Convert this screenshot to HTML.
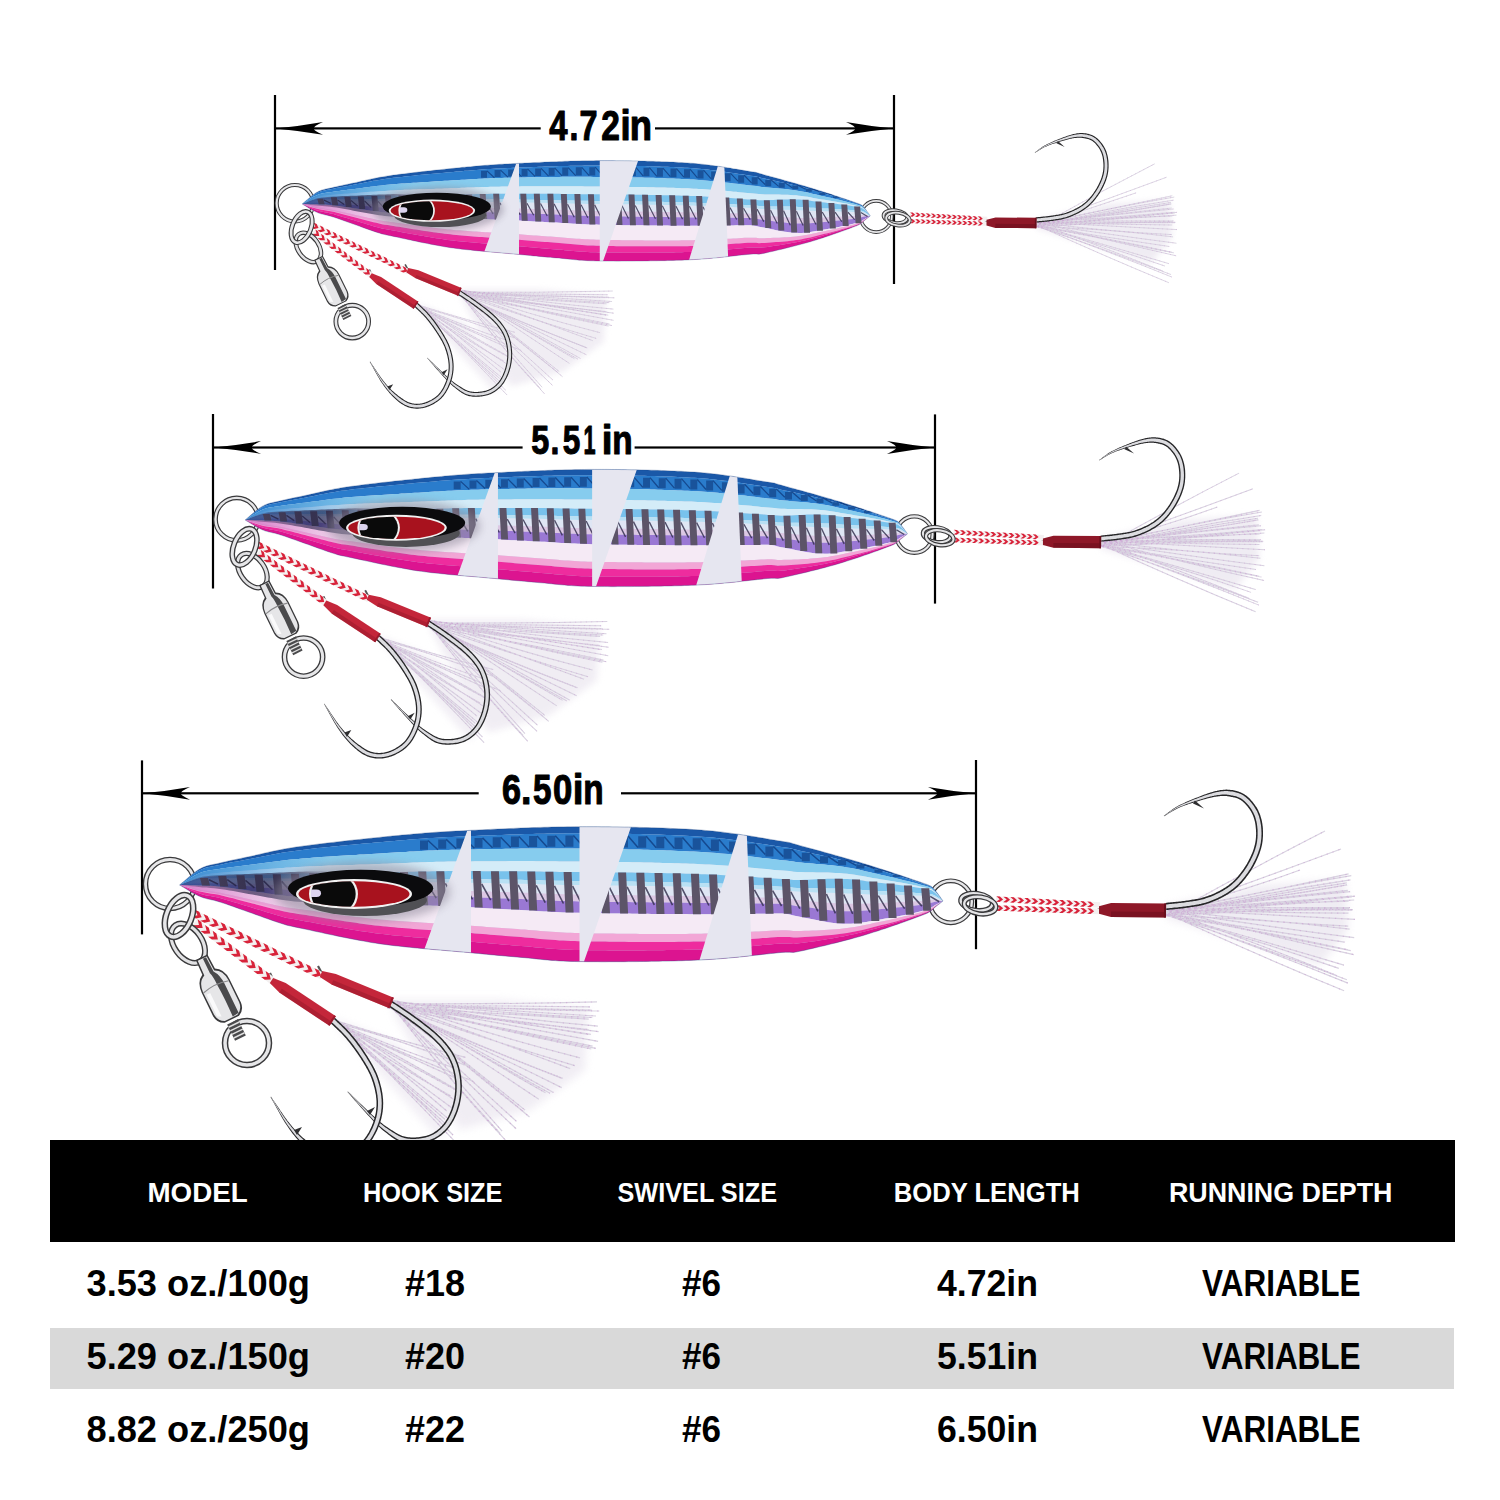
<!DOCTYPE html>
<html><head><meta charset="utf-8"><style>
html,body{margin:0;padding:0;background:#fff;}
svg{display:block;}
text{font-family:"Liberation Sans",sans-serif;}
</style></head><body>
<svg width="1500" height="1500" viewBox="0 0 1500 1500">
<rect width="1500" height="1500" fill="#fff"/>
<defs>
<g id="lure">
<filter id="fblur" x="-20%" y="-20%" width="140%" height="140%"><feGaussianBlur stdDeviation="4"/></filter>
<path d="M1166.0,906.0 L1260.0,885.0 L1345.0,880.0 L1348.0,930.0 L1320.0,965.0 L1166.0,918.0Z" fill="#e9e4ee" opacity="0.70" filter="url(#fblur)"/>
<path d="M1168.0,915.6 Q1246.3,871.2 1325.0,831.0 M1163.4,913.6 Q1253.2,881.5 1341.0,849.0 M1167.9,910.3 Q1234.5,894.0 1300.0,870.0 M1163.1,911.7 Q1256.2,894.0 1348.6,873.9 M1163.4,914.1 Q1255.3,891.6 1351.3,875.7 M1165.3,915.0 Q1254.6,894.4 1350.5,879.8 M1166.3,915.1 Q1252.2,897.2 1346.8,882.9 M1164.7,911.3 Q1259.6,900.6 1346.8,884.8 M1168.7,909.2 Q1255.2,900.8 1347.1,885.0 M1164.4,911.9 Q1254.8,900.3 1350.1,891.7 M1163.0,911.4 Q1257.8,899.8 1347.8,890.4 M1168.7,913.5 Q1257.7,904.9 1352.0,897.0 M1167.1,908.4 Q1259.0,904.7 1351.7,896.0 M1168.2,914.4 Q1264.5,905.8 1355.0,896.2 M1163.6,913.1 Q1259.0,905.4 1354.2,900.0 M1164.3,909.3 Q1252.9,904.0 1348.6,901.2 M1163.0,909.2 Q1256.4,907.2 1350.0,907.7 M1163.2,915.0 Q1253.6,909.5 1349.1,908.6 M1164.5,910.8 Q1260.6,908.7 1352.9,909.6 M1168.1,915.9 Q1257.8,908.8 1352.3,910.1 M1163.5,908.8 Q1256.9,912.5 1348.5,913.2 M1168.0,909.3 Q1258.9,914.3 1354.9,919.4 M1166.2,909.2 Q1252.3,921.7 1348.2,926.1 M1166.2,915.8 Q1258.2,917.7 1349.6,929.2 M1164.6,910.9 Q1263.7,926.1 1354.2,937.7 M1166.2,914.2 Q1251.9,928.7 1344.5,942.1 M1167.9,915.9 Q1255.4,929.3 1348.2,949.9 M1167.9,913.9 Q1261.8,933.1 1350.6,950.6 M1165.1,908.2 Q1257.1,933.4 1353.8,954.6 M1164.6,913.5 Q1250.2,937.2 1343.9,965.1 M1168.6,915.9 Q1257.0,939.9 1338.8,968.4 M1164.3,909.8 Q1255.6,942.8 1336.2,975.2 M1166.7,915.2 Q1253.4,944.1 1346.9,979.8 M1166.9,914.4 Q1260.3,947.4 1347.9,983.1 M1168.5,914.3 Q1250.9,952.3 1344.1,990.8" fill="none" stroke="#d6d0de" stroke-width="1.2" opacity="0.95"/><path d="M1168.0,915.6 Q1246.3,871.2 1325.0,831.0 M1163.4,913.6 Q1253.2,881.5 1341.0,849.0 M1167.9,910.3 Q1234.5,894.0 1300.0,870.0 M1163.1,911.7 Q1256.2,894.0 1348.6,873.9 M1163.4,914.1 Q1255.3,891.6 1351.3,875.7 M1165.3,915.0 Q1254.6,894.4 1350.5,879.8 M1166.3,915.1 Q1252.2,897.2 1346.8,882.9 M1164.7,911.3 Q1259.6,900.6 1346.8,884.8 M1168.7,909.2 Q1255.2,900.8 1347.1,885.0 M1164.4,911.9 Q1254.8,900.3 1350.1,891.7 M1163.0,911.4 Q1257.8,899.8 1347.8,890.4 M1168.7,913.5 Q1257.7,904.9 1352.0,897.0 M1167.1,908.4 Q1259.0,904.7 1351.7,896.0 M1168.2,914.4 Q1264.5,905.8 1355.0,896.2 M1163.6,913.1 Q1259.0,905.4 1354.2,900.0 M1164.3,909.3 Q1252.9,904.0 1348.6,901.2 M1163.0,909.2 Q1256.4,907.2 1350.0,907.7 M1163.2,915.0 Q1253.6,909.5 1349.1,908.6 M1164.5,910.8 Q1260.6,908.7 1352.9,909.6 M1168.1,915.9 Q1257.8,908.8 1352.3,910.1 M1163.5,908.8 Q1256.9,912.5 1348.5,913.2 M1168.0,909.3 Q1258.9,914.3 1354.9,919.4 M1166.2,909.2 Q1252.3,921.7 1348.2,926.1 M1166.2,915.8 Q1258.2,917.7 1349.6,929.2 M1164.6,910.9 Q1263.7,926.1 1354.2,937.7 M1166.2,914.2 Q1251.9,928.7 1344.5,942.1 M1167.9,915.9 Q1255.4,929.3 1348.2,949.9 M1167.9,913.9 Q1261.8,933.1 1350.6,950.6 M1165.1,908.2 Q1257.1,933.4 1353.8,954.6 M1164.6,913.5 Q1250.2,937.2 1343.9,965.1 M1168.6,915.9 Q1257.0,939.9 1338.8,968.4 M1164.3,909.8 Q1255.6,942.8 1336.2,975.2 M1166.7,915.2 Q1253.4,944.1 1346.9,979.8 M1166.9,914.4 Q1260.3,947.4 1347.9,983.1 M1168.5,914.3 Q1250.9,952.3 1344.1,990.8" fill="none" stroke="#c894d0" stroke-width="1.1" stroke-dasharray="1.2 5" opacity="0.5"/>
<path d="M390.0,1000.0 L500.0,1000.0 L588.0,1008.0 L585.0,1070.0 L530.0,1110.0 L460.0,1130.0 L395.0,1015.0Z" fill="#e9e4ee" opacity="0.65" filter="url(#fblur)"/>
<path d="M392.5,1003.5 Q494.1,1004.5 597.0,1001.9 M390.1,1005.5 Q491.1,1005.5 590.0,1006.9 M389.9,1007.5 Q490.4,1007.3 591.7,1010.2 M392.7,1002.1 Q496.6,1009.7 599.3,1011.0 M392.0,1001.1 Q491.7,1013.4 592.3,1017.5 M387.4,1001.9 Q489.2,1009.7 596.0,1016.0 M391.7,1007.2 Q485.1,1012.6 588.7,1019.1 M391.0,1001.1 Q490.5,1016.4 597.9,1026.2 M388.3,1007.6 Q493.2,1019.6 588.7,1029.6 M392.9,1006.7 Q493.3,1017.8 598.6,1031.7 M390.1,1002.7 Q487.1,1018.7 590.9,1034.3 M391.3,1000.2 Q486.0,1018.1 588.1,1034.3 M387.1,1002.7 Q494.6,1022.3 598.1,1041.3 M387.4,1007.9 Q492.5,1025.2 592.6,1046.2 M387.6,1002.1 Q493.6,1029.3 591.3,1049.0 M388.6,1001.0 Q488.4,1027.8 595.9,1048.3 M391.9,1002.1 Q484.2,1033.4 580.0,1057.9 M390.4,1005.6 Q478.9,1037.3 574.8,1065.6 M391.1,1003.4 Q476.0,1033.6 570.2,1068.6 M390.8,1006.4 Q472.0,1043.7 562.6,1078.2 M387.4,1006.9 Q471.9,1043.3 562.1,1078.4 M390.3,1007.4 Q475.4,1044.8 561.7,1087.6 M390.2,1001.9 Q469.4,1046.0 553.4,1092.4 M387.3,1001.6 Q466.1,1046.6 550.0,1093.3 M391.6,1002.3 Q465.9,1047.2 545.5,1092.8 M389.1,1000.1 Q464.4,1049.7 538.8,1099.2 M391.4,1004.4 Q455.0,1054.1 525.1,1110.1 M392.6,1000.9 Q453.6,1057.6 523.4,1111.5 M390.0,1006.7 Q462.9,1060.1 529.5,1117.0 M391.1,1007.9 Q452.2,1062.7 516.5,1121.4 M391.2,1005.1 Q451.5,1068.4 516.1,1128.7 M387.3,1001.0 Q445.1,1066.7 502.1,1131.2 M388.5,1001.3 Q440.7,1070.0 500.0,1133.1 M392.2,1005.4 Q443.6,1074.1 505.4,1140.1" fill="none" stroke="#d6d0de" stroke-width="1.2" opacity="0.95"/><path d="M392.5,1003.5 Q494.1,1004.5 597.0,1001.9 M390.1,1005.5 Q491.1,1005.5 590.0,1006.9 M389.9,1007.5 Q490.4,1007.3 591.7,1010.2 M392.7,1002.1 Q496.6,1009.7 599.3,1011.0 M392.0,1001.1 Q491.7,1013.4 592.3,1017.5 M387.4,1001.9 Q489.2,1009.7 596.0,1016.0 M391.7,1007.2 Q485.1,1012.6 588.7,1019.1 M391.0,1001.1 Q490.5,1016.4 597.9,1026.2 M388.3,1007.6 Q493.2,1019.6 588.7,1029.6 M392.9,1006.7 Q493.3,1017.8 598.6,1031.7 M390.1,1002.7 Q487.1,1018.7 590.9,1034.3 M391.3,1000.2 Q486.0,1018.1 588.1,1034.3 M387.1,1002.7 Q494.6,1022.3 598.1,1041.3 M387.4,1007.9 Q492.5,1025.2 592.6,1046.2 M387.6,1002.1 Q493.6,1029.3 591.3,1049.0 M388.6,1001.0 Q488.4,1027.8 595.9,1048.3 M391.9,1002.1 Q484.2,1033.4 580.0,1057.9 M390.4,1005.6 Q478.9,1037.3 574.8,1065.6 M391.1,1003.4 Q476.0,1033.6 570.2,1068.6 M390.8,1006.4 Q472.0,1043.7 562.6,1078.2 M387.4,1006.9 Q471.9,1043.3 562.1,1078.4 M390.3,1007.4 Q475.4,1044.8 561.7,1087.6 M390.2,1001.9 Q469.4,1046.0 553.4,1092.4 M387.3,1001.6 Q466.1,1046.6 550.0,1093.3 M391.6,1002.3 Q465.9,1047.2 545.5,1092.8 M389.1,1000.1 Q464.4,1049.7 538.8,1099.2 M391.4,1004.4 Q455.0,1054.1 525.1,1110.1 M392.6,1000.9 Q453.6,1057.6 523.4,1111.5 M390.0,1006.7 Q462.9,1060.1 529.5,1117.0 M391.1,1007.9 Q452.2,1062.7 516.5,1121.4 M391.2,1005.1 Q451.5,1068.4 516.1,1128.7 M387.3,1001.0 Q445.1,1066.7 502.1,1131.2 M388.5,1001.3 Q440.7,1070.0 500.0,1133.1 M392.2,1005.4 Q443.6,1074.1 505.4,1140.1" fill="none" stroke="#c894d0" stroke-width="1.1" stroke-dasharray="1.2 5" opacity="0.5"/>
<path d="M333.0,1018.0 L400.0,1045.0 L455.0,1105.0 L440.0,1140.0 L340.0,1030.0Z" fill="#e9e4ee" opacity="0.60" filter="url(#fblur)"/>
<path d="M332.3,1019.6 Q401.5,1041.5 465.6,1057.4 M334.3,1022.1 Q403.6,1040.9 464.5,1064.9 M335.4,1022.0 Q392.2,1047.6 460.5,1070.1 M330.8,1021.2 Q399.5,1052.7 461.3,1080.6 M334.8,1023.6 Q403.6,1053.4 474.1,1081.8 M334.1,1022.5 Q396.5,1058.5 458.2,1091.3 M330.8,1019.9 Q392.9,1053.0 458.2,1090.6 M333.4,1022.0 Q387.9,1060.6 450.7,1096.1 M332.9,1017.0 Q397.2,1062.9 458.8,1102.7 M333.0,1021.3 Q395.5,1066.0 452.0,1108.0 M334.4,1019.0 Q391.5,1063.4 446.8,1111.0 M334.4,1018.6 Q385.8,1067.9 447.1,1117.7 M333.0,1020.1 Q391.3,1073.0 444.8,1119.2 M334.6,1021.9 Q390.7,1074.9 448.8,1126.7 M330.9,1019.0 Q394.5,1075.4 453.0,1135.0 M333.4,1017.1 Q396.4,1080.1 455.0,1141.6" fill="none" stroke="#d6d0de" stroke-width="1.2" opacity="0.95"/><path d="M332.3,1019.6 Q401.5,1041.5 465.6,1057.4 M334.3,1022.1 Q403.6,1040.9 464.5,1064.9 M335.4,1022.0 Q392.2,1047.6 460.5,1070.1 M330.8,1021.2 Q399.5,1052.7 461.3,1080.6 M334.8,1023.6 Q403.6,1053.4 474.1,1081.8 M334.1,1022.5 Q396.5,1058.5 458.2,1091.3 M330.8,1019.9 Q392.9,1053.0 458.2,1090.6 M333.4,1022.0 Q387.9,1060.6 450.7,1096.1 M332.9,1017.0 Q397.2,1062.9 458.8,1102.7 M333.0,1021.3 Q395.5,1066.0 452.0,1108.0 M334.4,1019.0 Q391.5,1063.4 446.8,1111.0 M334.4,1018.6 Q385.8,1067.9 447.1,1117.7 M333.0,1020.1 Q391.3,1073.0 444.8,1119.2 M334.6,1021.9 Q390.7,1074.9 448.8,1126.7 M330.9,1019.0 Q394.5,1075.4 453.0,1135.0 M333.4,1017.1 Q396.4,1080.1 455.0,1141.6" fill="none" stroke="#c894d0" stroke-width="1.1" stroke-dasharray="1.2 5" opacity="0.5"/>
<path d="M1166.3,910.1 L1167.6,909.9 L1169.0,909.8 L1170.3,909.6 L1171.7,909.5 L1173.0,909.4 L1174.4,909.2 L1175.8,909.1 L1177.1,909.0 L1178.5,908.8 L1179.9,908.7 L1181.2,908.5 L1182.6,908.4 L1183.9,908.2 L1185.2,908.0 L1186.5,907.8 L1187.8,907.7 L1189.1,907.5 L1190.3,907.3 L1191.5,907.1 L1192.7,906.9 L1193.9,906.8 L1195.1,906.6 L1196.3,906.4 L1197.5,906.2 L1198.6,906.0 L1199.8,905.7 L1201.0,905.5 L1202.2,905.2 L1203.4,904.9 L1204.6,904.6 L1205.9,904.2 L1207.1,903.8 L1208.3,903.4 L1209.6,903.0 L1210.8,902.5 L1212.1,902.0 L1213.3,901.5 L1214.6,901.0 L1215.9,900.5 L1217.1,899.9 L1218.4,899.4 L1219.6,898.8 L1220.8,898.2 L1222.0,897.6 L1223.2,897.0 L1224.3,896.3 L1225.4,895.7 L1226.5,895.1 L1227.6,894.4 L1228.6,893.8 L1229.6,893.1 L1230.6,892.5 L1231.5,891.8 L1232.5,891.1 L1233.4,890.4 L1234.3,889.7 L1235.2,889.0 L1236.1,888.2 L1237.0,887.5 L1237.9,886.7 L1238.7,885.8 L1239.6,885.0 L1240.4,884.1 L1241.3,883.2 L1242.2,882.3 L1243.0,881.3 L1243.9,880.3 L1244.7,879.3 L1245.6,878.2 L1246.4,877.1 L1247.2,876.0 L1248.0,874.9 L1248.8,873.8 L1249.6,872.7 L1250.4,871.5 L1251.1,870.4 L1251.8,869.2 L1252.6,868.0 L1253.2,866.9 L1253.9,865.7 L1254.5,864.5 L1255.1,863.4 L1255.7,862.2 L1256.3,861.0 L1256.9,859.8 L1257.4,858.6 L1258.0,857.3 L1258.5,856.1 L1259.0,854.8 L1259.5,853.6 L1259.9,852.3 L1260.3,851.1 L1260.7,849.8 L1261.1,848.6 L1261.4,847.3 L1261.7,846.1 L1262.0,844.8 L1262.2,843.5 L1262.4,842.3 L1262.6,841.0 L1262.7,839.7 L1262.8,838.5 L1262.9,837.2 L1263.0,836.0 L1263.0,834.7 L1263.0,833.5 L1263.0,832.3 L1263.0,831.0 L1262.9,829.8 L1262.9,828.6 L1262.8,827.5 L1262.7,826.3 L1262.5,825.2 L1262.4,824.1 L1262.2,822.9 L1262.0,821.8 L1261.8,820.7 L1261.5,819.6 L1261.2,818.5 L1260.9,817.4 L1260.6,816.4 L1260.3,815.3 L1259.9,814.3 L1259.5,813.2 L1259.0,812.2 L1258.6,811.2 L1258.1,810.1 L1257.5,809.1 L1257.0,808.1 L1256.4,807.1 L1255.7,806.2 L1255.1,805.2 L1254.4,804.2 L1253.6,803.2 L1252.9,802.3 L1252.1,801.3 L1251.3,800.4 L1250.5,799.5 L1249.7,798.6 L1248.8,797.8 L1248.0,797.0 L1247.1,796.3 L1246.2,795.6 L1245.3,794.9 L1244.3,794.3 L1243.4,793.7 L1242.4,793.2 L1241.4,792.7 L1240.4,792.3 L1239.4,791.9 L1238.4,791.5 L1237.4,791.2 L1236.5,791.0 L1235.5,790.7 L1234.5,790.5 L1233.5,790.3 L1232.5,790.1 L1231.6,790.0 L1230.7,789.9 L1229.7,789.8 L1228.8,789.7 L1227.8,789.7 L1226.9,789.6 L1226.0,789.6 L1225.1,789.7 L1224.2,789.7 L1223.3,789.8 L1222.4,789.9 L1221.5,790.0 L1220.5,790.1 L1219.6,790.3 L1218.7,790.5 L1217.7,790.6 L1216.8,790.9 L1215.8,791.1 L1214.8,791.3 L1213.7,791.6 L1212.6,791.9 L1211.5,792.2 L1210.3,792.6 L1209.2,792.9 L1208.0,793.3 L1206.8,793.7 L1205.6,794.2 L1204.4,794.6 L1203.2,795.0 L1202.0,795.5 L1200.8,796.0 L1199.6,796.4 L1198.4,796.9 L1197.2,797.4 L1196.1,797.8 L1194.9,798.3 L1193.7,798.8 L1192.5,799.2 L1191.3,799.7 L1190.1,800.2 L1188.9,800.8 L1187.7,801.3 L1186.5,801.8 L1185.3,802.3 L1184.2,802.9 L1183.0,803.4 L1181.9,804.0 L1180.7,804.5 L1179.6,805.1 L1178.6,805.6 L1177.5,806.2 L1176.5,806.8 L1175.6,807.3 L1174.6,807.9 L1173.7,808.5 L1172.9,809.1 L1172.0,809.7 L1171.2,810.3 L1170.3,810.9 L1169.5,811.5 L1168.7,812.1 L1167.9,812.7 L1167.1,813.3 L1166.3,814.0 L1165.5,814.6 L1164.7,815.2 L1163.8,815.7 L1164.2,816.3 L1165.1,815.7 L1165.9,815.2 L1166.8,814.7 L1167.7,814.1 L1168.5,813.6 L1169.4,813.1 L1170.2,812.5 L1171.1,812.0 L1171.9,811.5 L1172.8,811.0 L1173.7,810.4 L1174.6,809.9 L1175.5,809.4 L1176.5,808.9 L1177.4,808.5 L1178.5,808.0 L1179.5,807.6 L1180.6,807.1 L1181.7,806.6 L1182.8,806.2 L1184.0,805.8 L1185.2,805.3 L1186.4,804.9 L1187.6,804.5 L1188.8,804.1 L1190.0,803.7 L1191.3,803.3 L1192.5,802.9 L1193.7,802.5 L1194.9,802.1 L1196.1,801.7 L1197.3,801.4 L1198.5,801.0 L1199.7,800.7 L1200.9,800.3 L1202.1,800.0 L1203.4,799.6 L1204.6,799.3 L1205.8,798.9 L1207.0,798.6 L1208.2,798.3 L1209.3,798.0 L1210.5,797.7 L1211.6,797.5 L1212.7,797.2 L1213.8,797.0 L1214.8,796.8 L1215.8,796.7 L1216.8,796.5 L1217.8,796.4 L1218.7,796.3 L1219.6,796.2 L1220.4,796.1 L1221.2,796.0 L1222.0,796.0 L1222.8,795.9 L1223.6,795.9 L1224.3,795.9 L1225.1,796.0 L1225.8,796.0 L1226.6,796.1 L1227.3,796.2 L1228.1,796.3 L1228.9,796.4 L1229.7,796.6 L1230.5,796.7 L1231.4,796.9 L1232.2,797.0 L1233.1,797.2 L1233.9,797.4 L1234.7,797.6 L1235.5,797.8 L1236.3,798.1 L1237.1,798.3 L1237.8,798.6 L1238.6,798.9 L1239.3,799.3 L1240.0,799.7 L1240.7,800.1 L1241.3,800.5 L1242.0,801.0 L1242.7,801.6 L1243.4,802.2 L1244.1,802.8 L1244.8,803.5 L1245.5,804.2 L1246.2,805.0 L1246.8,805.8 L1247.5,806.6 L1248.2,807.4 L1248.8,808.2 L1249.4,809.1 L1250.0,809.9 L1250.5,810.8 L1251.0,811.6 L1251.5,812.5 L1251.9,813.3 L1252.3,814.1 L1252.7,815.0 L1253.1,815.8 L1253.4,816.7 L1253.7,817.6 L1254.0,818.5 L1254.3,819.4 L1254.5,820.3 L1254.8,821.2 L1255.0,822.2 L1255.2,823.1 L1255.3,824.1 L1255.5,825.1 L1255.6,826.1 L1255.7,827.1 L1255.8,828.1 L1255.9,829.1 L1256.0,830.2 L1256.0,831.3 L1256.1,832.4 L1256.1,833.5 L1256.1,834.6 L1256.0,835.7 L1256.0,836.8 L1255.9,837.9 L1255.8,839.0 L1255.7,840.1 L1255.5,841.3 L1255.3,842.4 L1255.1,843.4 L1254.9,844.5 L1254.6,845.6 L1254.3,846.7 L1254.0,847.8 L1253.7,848.9 L1253.3,850.1 L1252.9,851.2 L1252.5,852.3 L1252.0,853.4 L1251.5,854.6 L1251.0,855.7 L1250.5,856.8 L1250.0,857.9 L1249.4,859.0 L1248.9,860.1 L1248.3,861.2 L1247.7,862.3 L1247.1,863.4 L1246.5,864.4 L1245.8,865.5 L1245.2,866.6 L1244.5,867.6 L1243.8,868.7 L1243.0,869.8 L1242.3,870.8 L1241.5,871.8 L1240.8,872.8 L1240.0,873.8 L1239.2,874.8 L1238.4,875.7 L1237.7,876.7 L1236.9,877.5 L1236.1,878.4 L1235.3,879.2 L1234.6,880.0 L1233.8,880.7 L1233.0,881.5 L1232.3,882.2 L1231.5,882.8 L1230.7,883.5 L1229.9,884.1 L1229.1,884.8 L1228.3,885.4 L1227.4,886.0 L1226.6,886.6 L1225.7,887.2 L1224.8,887.8 L1223.8,888.3 L1222.9,888.9 L1221.9,889.5 L1220.9,890.1 L1219.8,890.7 L1218.7,891.2 L1217.6,891.8 L1216.5,892.3 L1215.3,892.9 L1214.2,893.4 L1213.0,893.9 L1211.8,894.4 L1210.7,894.9 L1209.5,895.3 L1208.3,895.8 L1207.2,896.2 L1206.0,896.6 L1204.9,897.0 L1203.8,897.3 L1202.7,897.6 L1201.6,897.9 L1200.6,898.2 L1199.5,898.4 L1198.4,898.7 L1197.3,898.9 L1196.2,899.1 L1195.1,899.3 L1193.9,899.5 L1192.8,899.6 L1191.6,899.8 L1190.4,900.0 L1189.2,900.2 L1188.0,900.4 L1186.8,900.5 L1185.5,900.7 L1184.3,900.9 L1183.0,901.1 L1181.7,901.2 L1180.4,901.4 L1179.1,901.5 L1177.7,901.7 L1176.4,901.8 L1175.0,901.9 L1173.7,902.1 L1172.3,902.2 L1171.0,902.3 L1169.6,902.5 L1168.2,902.6 L1166.9,902.8 L1165.5,902.9Z" fill="#262628"/><path d="M1166.1,908.5 L1167.5,908.3 L1168.8,908.2 L1170.2,908.0 L1171.5,907.9 L1172.9,907.8 L1174.2,907.6 L1175.6,907.5 L1177.0,907.4 L1178.3,907.2 L1179.7,907.1 L1181.0,906.9 L1182.4,906.8 L1183.7,906.6 L1185.0,906.4 L1186.3,906.2 L1187.6,906.1 L1188.8,905.9 L1190.1,905.7 L1191.3,905.5 L1192.5,905.3 L1193.6,905.2 L1194.8,905.0 L1196.0,904.8 L1197.2,904.6 L1198.3,904.4 L1199.5,904.1 L1200.7,903.9 L1201.8,903.6 L1203.0,903.3 L1204.2,903.0 L1205.4,902.7 L1206.6,902.3 L1207.8,901.9 L1209.0,901.5 L1210.3,901.0 L1211.5,900.5 L1212.7,900.0 L1214.0,899.5 L1215.2,899.0 L1216.4,898.5 L1217.7,897.9 L1218.9,897.3 L1220.1,896.8 L1221.3,896.2 L1222.4,895.6 L1223.5,894.9 L1224.6,894.3 L1225.7,893.7 L1226.7,893.1 L1227.7,892.4 L1228.7,891.8 L1229.7,891.1 L1230.6,890.5 L1231.5,889.8 L1232.4,889.2 L1233.3,888.5 L1234.2,887.7 L1235.1,887.0 L1235.9,886.3 L1236.8,885.5 L1237.6,884.7 L1238.5,883.9 L1239.3,883.0 L1240.1,882.1 L1241.0,881.2 L1241.8,880.3 L1242.6,879.3 L1243.5,878.3 L1244.3,877.2 L1245.1,876.2 L1245.9,875.1 L1246.7,874.0 L1247.5,872.9 L1248.3,871.8 L1249.0,870.6 L1249.8,869.5 L1250.5,868.4 L1251.2,867.2 L1251.9,866.1 L1252.5,864.9 L1253.1,863.8 L1253.7,862.6 L1254.3,861.5 L1254.9,860.3 L1255.5,859.1 L1256.0,857.9 L1256.5,856.7 L1257.0,855.5 L1257.5,854.3 L1258.0,853.1 L1258.4,851.8 L1258.8,850.6 L1259.2,849.4 L1259.6,848.2 L1259.9,846.9 L1260.2,845.7 L1260.4,844.5 L1260.7,843.3 L1260.9,842.1 L1261.0,840.8 L1261.2,839.6 L1261.3,838.4 L1261.4,837.1 L1261.4,835.9 L1261.5,834.7 L1261.5,833.5 L1261.5,832.3 L1261.4,831.1 L1261.4,829.9 L1261.3,828.8 L1261.2,827.6 L1261.1,826.5 L1261.0,825.4 L1260.8,824.3 L1260.6,823.2 L1260.4,822.1 L1260.2,821.0 L1260.0,820.0 L1259.7,818.9 L1259.4,817.9 L1259.1,816.8 L1258.8,815.8 L1258.4,814.8 L1258.0,813.8 L1257.6,812.8 L1257.2,811.8 L1256.7,810.8 L1256.2,809.9 L1255.6,808.9 L1255.0,808.0 L1254.4,807.0 L1253.8,806.0 L1253.1,805.1 L1252.4,804.2 L1251.7,803.2 L1250.9,802.3 L1250.2,801.4 L1249.4,800.6 L1248.6,799.7 L1247.8,798.9 L1246.9,798.2 L1246.1,797.5 L1245.2,796.8 L1244.4,796.2 L1243.5,795.6 L1242.6,795.0 L1241.7,794.5 L1240.8,794.1 L1239.8,793.7 L1238.9,793.3 L1238.0,793.0 L1237.0,792.7 L1236.1,792.5 L1235.1,792.2 L1234.2,792.0 L1233.2,791.8 L1232.3,791.6 L1231.4,791.5 L1230.4,791.4 L1229.5,791.3 L1228.6,791.2 L1227.7,791.1 L1226.8,791.1 L1226.0,791.1 L1225.1,791.1 L1224.2,791.1 L1223.3,791.2 L1222.5,791.3 L1221.6,791.3 L1220.7,791.5 L1219.8,791.6 L1218.9,791.8 L1218.0,791.9 L1217.0,792.1 L1216.0,792.3 L1215.0,792.5 L1214.0,792.8 L1212.9,793.1 L1211.8,793.4 L1210.6,793.7 L1209.5,794.0 L1208.3,794.4 L1207.1,794.8 L1205.9,795.2 L1204.7,795.6 L1203.5,796.0 L1202.3,796.4 L1201.1,796.9 L1199.9,797.3 L1198.7,797.8 L1197.5,798.2 L1196.4,798.7 L1195.2,799.1 L1194.0,799.5 L1192.8,800.0 L1191.6,800.5 L1190.4,801.0 L1189.2,801.4 L1188.0,801.9 L1186.8,802.4 L1185.6,803.0 L1184.4,803.5 L1183.2,804.0 L1182.1,804.5 L1181.0,805.0 L1179.9,805.6 L1178.8,806.1 L1177.8,806.6 L1176.8,807.2 L1175.8,807.7 L1174.9,808.3 L1174.0,808.9 L1173.1,809.5 L1172.2,810.0 L1171.4,810.6 L1170.5,811.2 L1169.7,811.8 L1168.9,812.4 L1168.1,813.0 L1167.3,813.6 L1166.5,814.2 L1165.6,814.8 L1164.8,815.3 L1163.9,815.9 L1164.1,816.1 L1164.9,815.5 L1165.8,815.0 L1166.7,814.5 L1167.5,813.9 L1168.3,813.4 L1169.2,812.8 L1170.0,812.3 L1170.9,811.7 L1171.7,811.2 L1172.6,810.6 L1173.5,810.1 L1174.4,809.6 L1175.3,809.1 L1176.2,808.5 L1177.2,808.0 L1178.2,807.6 L1179.3,807.1 L1180.4,806.6 L1181.5,806.1 L1182.6,805.7 L1183.8,805.2 L1184.9,804.7 L1186.1,804.3 L1187.3,803.8 L1188.6,803.4 L1189.8,803.0 L1191.0,802.6 L1192.2,802.1 L1193.4,801.7 L1194.7,801.3 L1195.9,800.9 L1197.0,800.5 L1198.2,800.2 L1199.4,799.8 L1200.6,799.4 L1201.8,799.0 L1203.0,798.7 L1204.3,798.3 L1205.5,797.9 L1206.7,797.6 L1207.9,797.3 L1209.0,796.9 L1210.2,796.6 L1211.3,796.4 L1212.4,796.1 L1213.5,795.9 L1214.6,795.6 L1215.6,795.5 L1216.6,795.3 L1217.5,795.1 L1218.5,795.0 L1219.4,794.9 L1220.2,794.8 L1221.1,794.7 L1221.9,794.6 L1222.7,794.6 L1223.5,794.5 L1224.3,794.5 L1225.1,794.5 L1225.9,794.6 L1226.6,794.6 L1227.4,794.7 L1228.2,794.8 L1229.1,794.9 L1229.9,795.1 L1230.8,795.2 L1231.6,795.4 L1232.5,795.5 L1233.4,795.7 L1234.2,795.9 L1235.1,796.1 L1235.9,796.3 L1236.8,796.6 L1237.6,796.9 L1238.4,797.2 L1239.2,797.5 L1240.0,797.9 L1240.8,798.3 L1241.5,798.8 L1242.2,799.2 L1242.9,799.8 L1243.7,800.4 L1244.4,801.0 L1245.1,801.7 L1245.9,802.4 L1246.6,803.2 L1247.3,804.0 L1248.0,804.8 L1248.7,805.6 L1249.4,806.5 L1250.0,807.3 L1250.7,808.2 L1251.3,809.1 L1251.8,810.0 L1252.3,810.8 L1252.8,811.7 L1253.3,812.6 L1253.7,813.5 L1254.1,814.3 L1254.5,815.2 L1254.9,816.1 L1255.2,817.1 L1255.5,818.0 L1255.8,818.9 L1256.0,819.9 L1256.3,820.9 L1256.5,821.8 L1256.7,822.8 L1256.9,823.8 L1257.0,824.8 L1257.2,825.9 L1257.3,826.9 L1257.4,828.0 L1257.5,829.0 L1257.6,830.1 L1257.6,831.2 L1257.6,832.3 L1257.6,833.5 L1257.6,834.6 L1257.6,835.7 L1257.5,836.9 L1257.5,838.0 L1257.3,839.2 L1257.2,840.3 L1257.1,841.5 L1256.9,842.6 L1256.7,843.8 L1256.4,844.9 L1256.2,846.0 L1255.9,847.1 L1255.5,848.3 L1255.2,849.4 L1254.8,850.6 L1254.4,851.7 L1253.9,852.9 L1253.5,854.0 L1253.0,855.2 L1252.5,856.3 L1252.0,857.5 L1251.4,858.6 L1250.9,859.7 L1250.3,860.9 L1249.7,862.0 L1249.1,863.1 L1248.5,864.1 L1247.9,865.2 L1247.2,866.3 L1246.5,867.4 L1245.8,868.5 L1245.1,869.6 L1244.3,870.7 L1243.6,871.7 L1242.8,872.8 L1242.0,873.8 L1241.2,874.8 L1240.5,875.8 L1239.7,876.8 L1238.9,877.7 L1238.1,878.6 L1237.3,879.5 L1236.5,880.3 L1235.7,881.1 L1234.9,881.9 L1234.1,882.6 L1233.3,883.3 L1232.5,884.0 L1231.7,884.7 L1230.9,885.4 L1230.1,886.0 L1229.2,886.7 L1228.4,887.3 L1227.5,887.9 L1226.6,888.5 L1225.6,889.1 L1224.7,889.7 L1223.7,890.3 L1222.7,890.9 L1221.6,891.5 L1220.6,892.1 L1219.5,892.7 L1218.3,893.2 L1217.2,893.8 L1216.0,894.3 L1214.8,894.9 L1213.7,895.4 L1212.5,895.9 L1211.3,896.4 L1210.1,896.9 L1208.9,897.3 L1207.7,897.7 L1206.5,898.1 L1205.4,898.5 L1204.3,898.9 L1203.2,899.2 L1202.0,899.5 L1200.9,899.8 L1199.8,900.0 L1198.7,900.2 L1197.6,900.5 L1196.5,900.7 L1195.3,900.9 L1194.2,901.1 L1193.0,901.2 L1191.9,901.4 L1190.7,901.6 L1189.5,901.8 L1188.3,902.0 L1187.0,902.1 L1185.8,902.3 L1184.5,902.5 L1183.2,902.7 L1181.9,902.8 L1180.6,903.0 L1179.3,903.1 L1177.9,903.3 L1176.6,903.4 L1175.2,903.6 L1173.8,903.7 L1172.5,903.8 L1171.1,904.0 L1169.7,904.1 L1168.4,904.2 L1167.0,904.4 L1165.7,904.5Z" fill="#dcdce0"/>
<path d="M1193,803.5 L1204,808.5 L1195,800.5 Z" fill="#2e2e30"/>
<path d="M386.3,1005.1 L387.8,1006.1 L389.3,1007.1 L390.8,1008.1 L392.2,1009.0 L393.7,1010.0 L395.2,1011.0 L396.6,1011.9 L398.1,1012.9 L399.5,1013.8 L401.0,1014.8 L402.5,1015.8 L403.9,1016.8 L405.4,1017.8 L406.9,1018.9 L408.4,1019.9 L409.9,1021.0 L411.4,1022.2 L413.0,1023.4 L414.7,1024.6 L416.3,1025.8 L418.0,1027.0 L419.7,1028.3 L421.4,1029.6 L423.1,1030.9 L424.7,1032.2 L426.3,1033.4 L427.9,1034.7 L429.4,1036.0 L430.9,1037.3 L432.3,1038.5 L433.7,1039.8 L434.9,1041.0 L436.1,1042.2 L437.3,1043.4 L438.4,1044.6 L439.5,1045.8 L440.6,1047.0 L441.6,1048.2 L442.5,1049.4 L443.4,1050.6 L444.3,1051.8 L445.2,1052.9 L446.0,1054.1 L446.7,1055.4 L447.5,1056.6 L448.2,1057.8 L448.8,1059.1 L449.5,1060.3 L450.1,1061.6 L450.6,1063.0 L451.2,1064.3 L451.7,1065.7 L452.1,1067.1 L452.6,1068.5 L453.0,1069.9 L453.3,1071.3 L453.6,1072.8 L453.9,1074.2 L454.2,1075.7 L454.4,1077.1 L454.6,1078.5 L454.8,1080.0 L455.0,1081.4 L455.1,1082.8 L455.2,1084.2 L455.2,1085.6 L455.2,1087.1 L455.2,1088.5 L455.1,1089.9 L455.1,1091.4 L454.9,1092.8 L454.8,1094.2 L454.6,1095.7 L454.4,1097.1 L454.2,1098.5 L453.9,1099.9 L453.6,1101.3 L453.3,1102.6 L453.0,1104.0 L452.6,1105.3 L452.2,1106.6 L451.8,1107.9 L451.4,1109.2 L450.9,1110.5 L450.4,1111.8 L449.8,1113.1 L449.3,1114.4 L448.7,1115.6 L448.1,1116.9 L447.4,1118.1 L446.8,1119.2 L446.1,1120.3 L445.4,1121.4 L444.7,1122.5 L443.9,1123.5 L443.2,1124.4 L442.4,1125.3 L441.6,1126.2 L440.7,1127.1 L439.9,1127.9 L439.0,1128.7 L438.1,1129.5 L437.1,1130.3 L436.2,1131.0 L435.2,1131.6 L434.2,1132.3 L433.2,1132.9 L432.2,1133.4 L431.1,1134.0 L430.0,1134.5 L428.9,1134.9 L427.8,1135.3 L426.6,1135.7 L425.3,1136.0 L424.0,1136.3 L422.6,1136.6 L421.2,1136.8 L419.8,1137.0 L418.3,1137.2 L416.8,1137.3 L415.3,1137.4 L413.9,1137.5 L412.4,1137.5 L411.0,1137.4 L409.6,1137.3 L408.2,1137.2 L406.9,1137.0 L405.7,1136.8 L404.6,1136.6 L403.5,1136.2 L402.4,1135.9 L401.3,1135.4 L400.2,1134.9 L399.1,1134.4 L398.0,1133.9 L396.9,1133.3 L395.8,1132.7 L394.7,1132.0 L393.6,1131.3 L392.5,1130.6 L391.4,1129.9 L390.3,1129.2 L389.2,1128.5 L388.1,1127.8 L387.1,1127.1 L386.1,1126.5 L385.2,1125.8 L384.3,1125.2 L383.4,1124.5 L382.5,1123.8 L381.7,1123.1 L380.8,1122.4 L379.9,1121.7 L379.0,1120.9 L378.1,1120.1 L377.1,1119.2 L376.1,1118.3 L375.0,1117.3 L373.8,1116.3 L372.6,1115.2 L371.3,1114.0 L370.0,1112.7 L368.6,1111.4 L367.1,1110.0 L365.6,1108.6 L364.0,1107.1 L362.5,1105.6 L360.8,1104.1 L359.2,1102.5 L357.6,1100.9 L355.9,1099.3 L354.3,1097.7 L352.7,1096.2 L351.1,1094.6 L349.5,1093.1 L347.9,1091.6 L347.5,1092.0 L348.9,1093.6 L350.4,1095.3 L351.8,1097.0 L353.3,1098.7 L354.8,1100.4 L356.3,1102.1 L357.8,1103.8 L359.3,1105.5 L360.8,1107.2 L362.2,1108.8 L363.7,1110.5 L365.1,1112.0 L366.4,1113.5 L367.7,1115.0 L369.0,1116.3 L370.2,1117.6 L371.3,1118.8 L372.4,1120.0 L373.4,1121.0 L374.3,1122.1 L375.2,1123.0 L376.1,1123.9 L377.0,1124.8 L377.8,1125.7 L378.7,1126.5 L379.5,1127.3 L380.4,1128.1 L381.3,1128.9 L382.2,1129.7 L383.1,1130.4 L384.1,1131.2 L385.1,1132.0 L386.1,1132.8 L387.1,1133.6 L388.2,1134.4 L389.3,1135.2 L390.3,1136.1 L391.4,1136.9 L392.6,1137.7 L393.7,1138.5 L394.9,1139.3 L396.2,1140.0 L397.4,1140.7 L398.7,1141.3 L400.1,1141.9 L401.5,1142.4 L403.0,1142.8 L404.5,1143.2 L406.0,1143.4 L407.5,1143.6 L409.1,1143.8 L410.7,1143.9 L412.3,1144.0 L414.0,1144.0 L415.6,1143.9 L417.3,1143.8 L418.9,1143.7 L420.6,1143.5 L422.2,1143.3 L423.8,1143.0 L425.4,1142.7 L426.9,1142.3 L428.4,1141.9 L429.8,1141.5 L431.2,1141.0 L432.6,1140.5 L433.9,1139.9 L435.2,1139.2 L436.4,1138.6 L437.6,1137.8 L438.8,1137.1 L440.0,1136.3 L441.1,1135.4 L442.2,1134.6 L443.3,1133.6 L444.4,1132.7 L445.4,1131.7 L446.3,1130.7 L447.3,1129.7 L448.2,1128.6 L449.1,1127.5 L450.0,1126.3 L450.9,1125.1 L451.7,1123.8 L452.4,1122.6 L453.2,1121.2 L453.9,1119.9 L454.6,1118.5 L455.3,1117.1 L455.9,1115.7 L456.5,1114.3 L457.0,1112.9 L457.6,1111.4 L458.1,1110.0 L458.5,1108.6 L459.0,1107.1 L459.4,1105.7 L459.8,1104.2 L460.1,1102.7 L460.4,1101.2 L460.7,1099.7 L461.0,1098.1 L461.2,1096.6 L461.4,1095.0 L461.6,1093.4 L461.7,1091.8 L461.8,1090.3 L461.8,1088.7 L461.9,1087.1 L461.9,1085.5 L461.8,1083.9 L461.7,1082.4 L461.6,1080.8 L461.4,1079.3 L461.3,1077.7 L461.0,1076.1 L460.8,1074.5 L460.5,1072.9 L460.2,1071.3 L459.8,1069.8 L459.4,1068.2 L459.0,1066.6 L458.5,1065.0 L458.0,1063.5 L457.4,1062.0 L456.8,1060.4 L456.2,1058.9 L455.5,1057.5 L454.8,1056.0 L454.1,1054.6 L453.3,1053.2 L452.5,1051.8 L451.6,1050.5 L450.7,1049.1 L449.8,1047.8 L448.8,1046.5 L447.8,1045.2 L446.8,1043.9 L445.7,1042.6 L444.6,1041.4 L443.4,1040.1 L442.2,1038.8 L441.0,1037.5 L439.7,1036.2 L438.3,1034.9 L436.9,1033.5 L435.4,1032.2 L433.8,1030.8 L432.2,1029.5 L430.6,1028.2 L428.9,1026.8 L427.2,1025.5 L425.5,1024.2 L423.8,1022.9 L422.1,1021.6 L420.4,1020.3 L418.7,1019.1 L417.1,1017.9 L415.5,1016.7 L413.9,1015.6 L412.4,1014.4 L410.8,1013.3 L409.3,1012.2 L407.8,1011.2 L406.3,1010.2 L404.8,1009.2 L403.3,1008.2 L401.8,1007.2 L400.3,1006.2 L398.9,1005.3 L397.4,1004.3 L395.9,1003.4 L394.5,1002.4 L393.0,1001.4 L391.6,1000.5 L390.1,999.5Z" fill="#262628"/><path d="M387.2,1003.9 L388.6,1004.8 L390.1,1005.8 L391.6,1006.8 L393.1,1007.8 L394.5,1008.7 L396.0,1009.7 L397.5,1010.6 L398.9,1011.6 L400.4,1012.6 L401.8,1013.5 L403.3,1014.5 L404.8,1015.5 L406.3,1016.6 L407.8,1017.6 L409.3,1018.7 L410.8,1019.8 L412.3,1021.0 L414.0,1022.1 L415.6,1023.3 L417.3,1024.6 L418.9,1025.8 L420.6,1027.1 L422.3,1028.4 L424.0,1029.7 L425.6,1031.0 L427.3,1032.3 L428.9,1033.5 L430.4,1034.8 L431.9,1036.1 L433.3,1037.4 L434.7,1038.7 L436.0,1039.9 L437.2,1041.2 L438.4,1042.4 L439.5,1043.6 L440.6,1044.8 L441.7,1046.0 L442.7,1047.2 L443.7,1048.4 L444.6,1049.7 L445.5,1050.9 L446.4,1052.1 L447.2,1053.3 L448.0,1054.6 L448.8,1055.8 L449.5,1057.1 L450.2,1058.4 L450.8,1059.7 L451.5,1061.0 L452.0,1062.4 L452.6,1063.8 L453.1,1065.2 L453.6,1066.6 L454.0,1068.1 L454.4,1069.5 L454.8,1071.0 L455.1,1072.4 L455.4,1073.9 L455.7,1075.4 L455.9,1076.9 L456.1,1078.4 L456.3,1079.8 L456.5,1081.3 L456.6,1082.7 L456.7,1084.2 L456.7,1085.6 L456.7,1087.1 L456.7,1088.5 L456.6,1090.0 L456.6,1091.5 L456.4,1092.9 L456.3,1094.4 L456.1,1095.9 L455.9,1097.3 L455.7,1098.8 L455.4,1100.2 L455.1,1101.6 L454.8,1103.0 L454.4,1104.3 L454.1,1105.7 L453.7,1107.0 L453.2,1108.4 L452.8,1109.7 L452.3,1111.1 L451.7,1112.4 L451.2,1113.7 L450.6,1115.0 L450.0,1116.3 L449.4,1117.5 L448.7,1118.8 L448.1,1120.0 L447.3,1121.1 L446.6,1122.3 L445.9,1123.3 L445.1,1124.4 L444.3,1125.3 L443.5,1126.3 L442.6,1127.2 L441.8,1128.1 L440.9,1129.0 L440.0,1129.8 L439.0,1130.6 L438.0,1131.4 L437.1,1132.2 L436.0,1132.9 L435.0,1133.5 L433.9,1134.2 L432.8,1134.8 L431.7,1135.3 L430.6,1135.8 L429.4,1136.3 L428.2,1136.7 L427.0,1137.1 L425.7,1137.4 L424.3,1137.8 L422.9,1138.0 L421.4,1138.3 L420.0,1138.5 L418.4,1138.7 L416.9,1138.8 L415.4,1138.9 L413.9,1138.9 L412.4,1138.9 L410.9,1138.9 L409.5,1138.8 L408.1,1138.7 L406.7,1138.5 L405.5,1138.3 L404.2,1138.0 L403.1,1137.6 L401.9,1137.2 L400.7,1136.7 L399.6,1136.2 L398.4,1135.7 L397.3,1135.1 L396.2,1134.5 L395.1,1133.8 L394.0,1133.1 L392.9,1132.4 L391.8,1131.7 L390.7,1130.9 L389.6,1130.2 L388.5,1129.5 L387.4,1128.7 L386.4,1128.1 L385.4,1127.4 L384.5,1126.7 L383.6,1126.0 L382.7,1125.3 L381.8,1124.6 L381.0,1123.9 L380.1,1123.2 L379.3,1122.4 L378.4,1121.6 L377.4,1120.8 L376.5,1119.9 L375.5,1118.9 L374.4,1117.9 L373.3,1116.9 L372.0,1115.7 L370.8,1114.5 L369.4,1113.3 L368.0,1111.9 L366.6,1110.5 L365.1,1109.1 L363.6,1107.5 L362.0,1106.0 L360.5,1104.4 L358.9,1102.8 L357.3,1101.2 L355.7,1099.6 L354.1,1098.0 L352.5,1096.4 L350.9,1094.8 L349.3,1093.3 L347.8,1091.7 L347.6,1091.9 L349.1,1093.5 L350.6,1095.1 L352.1,1096.7 L353.6,1098.4 L355.1,1100.1 L356.7,1101.8 L358.2,1103.5 L359.7,1105.2 L361.2,1106.8 L362.7,1108.4 L364.1,1110.0 L365.5,1111.5 L366.9,1113.0 L368.3,1114.4 L369.5,1115.8 L370.8,1117.1 L371.9,1118.2 L373.0,1119.4 L374.0,1120.4 L375.0,1121.4 L375.9,1122.3 L376.8,1123.2 L377.7,1124.1 L378.5,1124.9 L379.4,1125.7 L380.2,1126.5 L381.1,1127.3 L382.0,1128.0 L382.9,1128.8 L383.8,1129.5 L384.8,1130.3 L385.8,1131.1 L386.8,1131.8 L387.9,1132.6 L388.9,1133.4 L390.0,1134.2 L391.1,1135.0 L392.2,1135.8 L393.3,1136.6 L394.5,1137.3 L395.6,1138.0 L396.8,1138.7 L398.1,1139.4 L399.3,1140.0 L400.6,1140.5 L402.0,1141.0 L403.3,1141.4 L404.7,1141.7 L406.2,1142.0 L407.7,1142.2 L409.2,1142.3 L410.7,1142.4 L412.3,1142.5 L413.9,1142.5 L415.6,1142.4 L417.2,1142.4 L418.8,1142.2 L420.4,1142.0 L422.0,1141.8 L423.6,1141.6 L425.1,1141.3 L426.6,1140.9 L428.0,1140.5 L429.4,1140.1 L430.7,1139.6 L432.0,1139.1 L433.2,1138.6 L434.5,1137.9 L435.7,1137.3 L436.9,1136.6 L438.0,1135.9 L439.1,1135.1 L440.2,1134.3 L441.3,1133.4 L442.3,1132.5 L443.3,1131.6 L444.3,1130.7 L445.3,1129.7 L446.2,1128.7 L447.1,1127.7 L448.0,1126.6 L448.8,1125.4 L449.6,1124.3 L450.4,1123.1 L451.2,1121.8 L451.9,1120.5 L452.6,1119.2 L453.3,1117.9 L453.9,1116.5 L454.5,1115.1 L455.1,1113.8 L455.7,1112.3 L456.2,1110.9 L456.7,1109.5 L457.1,1108.1 L457.5,1106.7 L457.9,1105.3 L458.3,1103.8 L458.7,1102.4 L459.0,1100.9 L459.2,1099.4 L459.5,1097.9 L459.7,1096.4 L459.9,1094.8 L460.1,1093.3 L460.2,1091.7 L460.3,1090.2 L460.4,1088.6 L460.4,1087.1 L460.4,1085.5 L460.3,1084.0 L460.2,1082.5 L460.1,1081.0 L460.0,1079.4 L459.8,1077.9 L459.6,1076.3 L459.3,1074.8 L459.0,1073.2 L458.7,1071.7 L458.3,1070.1 L458.0,1068.6 L457.5,1067.0 L457.1,1065.5 L456.6,1064.0 L456.0,1062.5 L455.4,1061.0 L454.8,1059.5 L454.2,1058.1 L453.5,1056.7 L452.7,1055.3 L452.0,1054.0 L451.2,1052.6 L450.3,1051.3 L449.5,1050.0 L448.5,1048.7 L447.6,1047.4 L446.6,1046.1 L445.6,1044.9 L444.5,1043.6 L443.4,1042.4 L442.3,1041.1 L441.1,1039.8 L439.9,1038.6 L438.6,1037.3 L437.3,1036.0 L435.9,1034.7 L434.4,1033.3 L432.8,1032.0 L431.2,1030.7 L429.6,1029.3 L428.0,1028.0 L426.3,1026.7 L424.6,1025.4 L422.9,1024.1 L421.2,1022.8 L419.5,1021.6 L417.8,1020.3 L416.2,1019.1 L414.6,1017.9 L413.0,1016.8 L411.5,1015.7 L409.9,1014.6 L408.4,1013.5 L406.9,1012.5 L405.4,1011.4 L403.9,1010.4 L402.4,1009.4 L401.0,1008.5 L399.5,1007.5 L398.0,1006.5 L396.6,1005.6 L395.1,1004.6 L393.6,1003.7 L392.2,1002.7 L390.7,1001.7 L389.2,1000.7Z" fill="#dcdce0"/>
<path d="M367,1111 L375,1107 L370,1115 Z" fill="#2e2e30"/>
<path d="M330.0,1022.5 L331.0,1023.5 L332.0,1024.4 L332.9,1025.3 L333.9,1026.3 L334.9,1027.2 L335.8,1028.1 L336.8,1029.0 L337.7,1029.9 L338.7,1030.8 L339.6,1031.7 L340.5,1032.6 L341.5,1033.5 L342.4,1034.5 L343.3,1035.5 L344.2,1036.5 L345.1,1037.5 L346.1,1038.6 L347.0,1039.7 L348.0,1040.9 L348.9,1042.1 L349.9,1043.3 L350.8,1044.5 L351.8,1045.8 L352.7,1047.0 L353.7,1048.3 L354.6,1049.6 L355.6,1050.9 L356.5,1052.2 L357.4,1053.5 L358.2,1054.8 L359.1,1056.0 L359.9,1057.3 L360.8,1058.6 L361.6,1060.0 L362.5,1061.3 L363.3,1062.6 L364.1,1063.9 L364.9,1065.2 L365.7,1066.6 L366.4,1067.9 L367.2,1069.2 L367.9,1070.5 L368.6,1071.9 L369.2,1073.2 L369.9,1074.6 L370.5,1075.9 L371.0,1077.2 L371.5,1078.6 L372.0,1080.0 L372.5,1081.4 L373.0,1082.8 L373.4,1084.2 L373.8,1085.7 L374.2,1087.1 L374.6,1088.6 L374.9,1090.0 L375.2,1091.5 L375.5,1092.9 L375.8,1094.4 L376.0,1095.8 L376.1,1097.2 L376.3,1098.6 L376.4,1100.0 L376.5,1101.3 L376.5,1102.7 L376.5,1104.0 L376.5,1105.3 L376.4,1106.7 L376.3,1108.0 L376.2,1109.3 L376.1,1110.6 L375.9,1111.9 L375.7,1113.2 L375.4,1114.5 L375.1,1115.8 L374.8,1117.0 L374.5,1118.3 L374.1,1119.6 L373.7,1120.8 L373.3,1122.1 L372.8,1123.4 L372.3,1124.6 L371.8,1125.9 L371.2,1127.3 L370.6,1128.6 L370.0,1129.8 L369.4,1131.1 L368.7,1132.4 L368.0,1133.6 L367.2,1134.8 L366.5,1136.0 L365.7,1137.1 L364.9,1138.2 L364.0,1139.3 L363.2,1140.2 L362.3,1141.2 L361.3,1142.1 L360.3,1142.9 L359.3,1143.8 L358.2,1144.7 L357.0,1145.5 L355.8,1146.3 L354.6,1147.0 L353.4,1147.8 L352.1,1148.5 L350.8,1149.1 L349.6,1149.7 L348.3,1150.3 L347.0,1150.8 L345.8,1151.3 L344.6,1151.7 L343.4,1152.1 L342.2,1152.4 L341.1,1152.6 L339.9,1152.9 L338.7,1153.1 L337.6,1153.2 L336.4,1153.3 L335.2,1153.4 L334.0,1153.4 L332.9,1153.4 L331.7,1153.3 L330.6,1153.2 L329.4,1153.1 L328.3,1152.9 L327.2,1152.7 L326.0,1152.4 L324.9,1152.1 L323.9,1151.7 L322.8,1151.3 L321.7,1150.9 L320.6,1150.4 L319.6,1149.8 L318.5,1149.2 L317.4,1148.5 L316.3,1147.8 L315.2,1147.1 L314.1,1146.3 L312.9,1145.5 L311.8,1144.7 L310.7,1143.9 L309.5,1143.1 L308.4,1142.2 L307.3,1141.3 L306.2,1140.4 L305.1,1139.5 L304.0,1138.6 L302.9,1137.7 L301.8,1136.7 L300.8,1135.7 L299.7,1134.7 L298.6,1133.6 L297.6,1132.5 L296.5,1131.4 L295.4,1130.2 L294.3,1129.0 L293.2,1127.7 L292.1,1126.5 L291.0,1125.1 L289.9,1123.8 L288.8,1122.3 L287.6,1120.9 L286.5,1119.3 L285.3,1117.7 L284.1,1116.0 L283.0,1114.4 L281.8,1112.6 L280.6,1110.9 L279.4,1109.1 L278.2,1107.3 L277.0,1105.5 L275.8,1103.7 L274.6,1102.0 L273.4,1100.2 L272.2,1098.5 L271.1,1096.7 L270.5,1097.1 L271.6,1098.9 L272.6,1100.7 L273.6,1102.6 L274.7,1104.4 L275.7,1106.3 L276.7,1108.2 L277.8,1110.1 L278.8,1112.0 L279.8,1113.8 L280.9,1115.7 L281.9,1117.5 L282.9,1119.2 L284.0,1121.0 L285.0,1122.7 L286.1,1124.3 L287.1,1125.8 L288.1,1127.3 L289.1,1128.8 L290.1,1130.2 L291.1,1131.6 L292.1,1132.9 L293.1,1134.2 L294.2,1135.5 L295.2,1136.7 L296.2,1137.9 L297.2,1139.1 L298.2,1140.3 L299.3,1141.4 L300.3,1142.5 L301.4,1143.6 L302.4,1144.6 L303.5,1145.7 L304.6,1146.7 L305.7,1147.7 L306.8,1148.7 L308.0,1149.6 L309.1,1150.6 L310.3,1151.5 L311.5,1152.4 L312.7,1153.2 L313.9,1154.0 L315.2,1154.8 L316.5,1155.5 L317.7,1156.2 L319.0,1156.8 L320.4,1157.4 L321.7,1157.9 L323.1,1158.3 L324.4,1158.7 L325.8,1159.0 L327.1,1159.3 L328.5,1159.5 L329.9,1159.7 L331.3,1159.8 L332.6,1159.9 L334.0,1159.9 L335.4,1159.9 L336.8,1159.8 L338.2,1159.7 L339.6,1159.5 L341.0,1159.3 L342.4,1159.0 L343.8,1158.7 L345.2,1158.3 L346.6,1157.9 L348.0,1157.4 L349.4,1156.9 L350.9,1156.3 L352.3,1155.7 L353.7,1155.0 L355.2,1154.2 L356.6,1153.5 L358.0,1152.7 L359.4,1151.8 L360.7,1150.9 L362.1,1150.0 L363.4,1149.0 L364.6,1148.0 L365.8,1146.9 L366.9,1145.8 L368.0,1144.7 L369.1,1143.5 L370.1,1142.3 L371.0,1141.0 L371.9,1139.7 L372.8,1138.4 L373.6,1137.0 L374.4,1135.6 L375.2,1134.2 L375.9,1132.8 L376.6,1131.4 L377.3,1129.9 L377.9,1128.5 L378.5,1127.1 L379.0,1125.7 L379.5,1124.3 L380.0,1122.9 L380.5,1121.5 L380.9,1120.1 L381.3,1118.7 L381.6,1117.3 L381.9,1115.8 L382.2,1114.4 L382.4,1112.9 L382.7,1111.5 L382.8,1110.0 L383.0,1108.5 L383.1,1107.1 L383.1,1105.6 L383.2,1104.1 L383.2,1102.6 L383.1,1101.1 L383.1,1099.5 L382.9,1098.0 L382.8,1096.4 L382.6,1094.9 L382.4,1093.3 L382.1,1091.7 L381.8,1090.2 L381.5,1088.6 L381.1,1087.0 L380.7,1085.4 L380.3,1083.9 L379.9,1082.3 L379.4,1080.8 L378.9,1079.2 L378.4,1077.7 L377.9,1076.2 L377.3,1074.7 L376.7,1073.2 L376.0,1071.8 L375.3,1070.3 L374.6,1068.8 L373.9,1067.4 L373.1,1066.0 L372.3,1064.6 L371.5,1063.2 L370.7,1061.8 L369.9,1060.4 L369.0,1059.0 L368.2,1057.7 L367.4,1056.3 L366.5,1055.0 L365.7,1053.7 L364.8,1052.3 L363.9,1051.0 L363.0,1049.6 L362.0,1048.3 L361.1,1046.9 L360.1,1045.6 L359.2,1044.3 L358.2,1042.9 L357.2,1041.6 L356.2,1040.3 L355.2,1039.1 L354.2,1037.8 L353.2,1036.6 L352.2,1035.4 L351.3,1034.2 L350.3,1033.1 L349.3,1032.0 L348.3,1030.9 L347.3,1029.8 L346.3,1028.8 L345.3,1027.8 L344.4,1026.8 L343.4,1025.9 L342.4,1024.9 L341.4,1024.0 L340.5,1023.1 L339.5,1022.2 L338.6,1021.3 L337.6,1020.4 L336.7,1019.5 L335.7,1018.6 L334.8,1017.7Z" fill="#262628"/><path d="M331.1,1021.4 L332.1,1022.4 L333.0,1023.3 L334.0,1024.2 L334.9,1025.1 L335.9,1026.0 L336.9,1026.9 L337.8,1027.8 L338.8,1028.7 L339.7,1029.7 L340.7,1030.6 L341.6,1031.5 L342.5,1032.5 L343.5,1033.4 L344.4,1034.4 L345.4,1035.5 L346.3,1036.5 L347.2,1037.6 L348.2,1038.8 L349.1,1039.9 L350.1,1041.1 L351.1,1042.3 L352.0,1043.6 L353.0,1044.8 L354.0,1046.1 L354.9,1047.4 L355.9,1048.7 L356.8,1050.0 L357.7,1051.3 L358.6,1052.6 L359.5,1053.9 L360.4,1055.2 L361.2,1056.5 L362.1,1057.8 L362.9,1059.1 L363.7,1060.5 L364.6,1061.8 L365.4,1063.1 L366.2,1064.5 L367.0,1065.8 L367.8,1067.1 L368.5,1068.5 L369.2,1069.8 L369.9,1071.2 L370.6,1072.6 L371.2,1073.9 L371.9,1075.3 L372.4,1076.7 L373.0,1078.0 L373.5,1079.5 L374.0,1080.9 L374.4,1082.3 L374.9,1083.8 L375.3,1085.3 L375.7,1086.7 L376.1,1088.2 L376.4,1089.7 L376.7,1091.2 L377.0,1092.6 L377.2,1094.1 L377.5,1095.6 L377.6,1097.0 L377.8,1098.5 L377.9,1099.9 L378.0,1101.3 L378.0,1102.7 L378.0,1104.0 L378.0,1105.4 L377.9,1106.8 L377.8,1108.1 L377.7,1109.5 L377.5,1110.8 L377.3,1112.1 L377.1,1113.5 L376.9,1114.8 L376.6,1116.1 L376.3,1117.4 L375.9,1118.7 L375.5,1120.0 L375.1,1121.3 L374.7,1122.6 L374.2,1123.9 L373.7,1125.2 L373.2,1126.5 L372.6,1127.9 L372.0,1129.2 L371.3,1130.5 L370.7,1131.8 L370.0,1133.1 L369.2,1134.4 L368.5,1135.6 L367.7,1136.8 L366.9,1138.0 L366.0,1139.1 L365.2,1140.2 L364.3,1141.2 L363.3,1142.2 L362.3,1143.2 L361.3,1144.1 L360.2,1145.0 L359.1,1145.8 L357.9,1146.7 L356.6,1147.5 L355.4,1148.3 L354.1,1149.0 L352.8,1149.8 L351.5,1150.4 L350.2,1151.1 L348.9,1151.6 L347.6,1152.2 L346.3,1152.7 L345.0,1153.1 L343.8,1153.5 L342.6,1153.8 L341.4,1154.1 L340.2,1154.3 L338.9,1154.5 L337.7,1154.7 L336.5,1154.8 L335.3,1154.8 L334.0,1154.9 L332.8,1154.9 L331.6,1154.8 L330.4,1154.7 L329.2,1154.5 L328.0,1154.3 L326.8,1154.1 L325.7,1153.8 L324.5,1153.5 L323.4,1153.1 L322.3,1152.7 L321.1,1152.2 L320.0,1151.7 L318.9,1151.1 L317.7,1150.4 L316.6,1149.8 L315.5,1149.0 L314.3,1148.3 L313.2,1147.5 L312.1,1146.7 L310.9,1145.8 L309.8,1145.0 L308.7,1144.1 L307.5,1143.2 L306.4,1142.3 L305.3,1141.4 L304.2,1140.5 L303.1,1139.5 L302.1,1138.5 L301.0,1137.5 L299.9,1136.5 L298.9,1135.4 L297.8,1134.3 L296.8,1133.2 L295.7,1132.0 L294.7,1130.8 L293.6,1129.6 L292.5,1128.3 L291.4,1127.0 L290.4,1125.6 L289.2,1124.2 L288.1,1122.8 L287.0,1121.3 L285.9,1119.7 L284.7,1118.1 L283.6,1116.4 L282.5,1114.7 L281.3,1112.9 L280.2,1111.1 L279.0,1109.4 L277.8,1107.5 L276.7,1105.7 L275.5,1103.9 L274.4,1102.1 L273.2,1100.3 L272.0,1098.6 L270.9,1096.8 L270.7,1097.0 L271.8,1098.7 L272.8,1100.6 L273.9,1102.4 L275.0,1104.3 L276.0,1106.1 L277.1,1108.0 L278.2,1109.8 L279.2,1111.7 L280.3,1113.5 L281.4,1115.3 L282.4,1117.1 L283.5,1118.9 L284.6,1120.6 L285.6,1122.2 L286.7,1123.8 L287.8,1125.4 L288.8,1126.8 L289.8,1128.2 L290.9,1129.6 L291.9,1131.0 L292.9,1132.3 L293.9,1133.6 L294.9,1134.8 L296.0,1136.0 L297.0,1137.2 L298.0,1138.3 L299.0,1139.5 L300.1,1140.5 L301.1,1141.6 L302.2,1142.7 L303.3,1143.7 L304.4,1144.7 L305.5,1145.7 L306.6,1146.6 L307.7,1147.6 L308.8,1148.5 L310.0,1149.5 L311.1,1150.4 L312.3,1151.2 L313.5,1152.0 L314.7,1152.8 L315.9,1153.5 L317.2,1154.2 L318.4,1154.9 L319.6,1155.5 L320.9,1156.0 L322.2,1156.5 L323.5,1156.9 L324.8,1157.3 L326.1,1157.6 L327.4,1157.8 L328.7,1158.1 L330.0,1158.2 L331.4,1158.4 L332.7,1158.4 L334.0,1158.5 L335.4,1158.4 L336.7,1158.4 L338.1,1158.2 L339.4,1158.1 L340.8,1157.9 L342.1,1157.6 L343.5,1157.3 L344.8,1156.9 L346.1,1156.5 L347.5,1156.0 L348.9,1155.5 L350.3,1155.0 L351.7,1154.3 L353.1,1153.7 L354.5,1152.9 L355.9,1152.2 L357.2,1151.4 L358.6,1150.5 L359.9,1149.7 L361.2,1148.8 L362.4,1147.8 L363.6,1146.8 L364.8,1145.8 L365.9,1144.8 L366.9,1143.7 L367.9,1142.6 L368.9,1141.4 L369.8,1140.1 L370.7,1138.9 L371.6,1137.6 L372.4,1136.2 L373.1,1134.9 L373.9,1133.5 L374.6,1132.1 L375.3,1130.7 L375.9,1129.3 L376.5,1127.9 L377.1,1126.6 L377.6,1125.2 L378.1,1123.8 L378.6,1122.5 L379.0,1121.1 L379.4,1119.7 L379.8,1118.3 L380.1,1116.9 L380.5,1115.5 L380.7,1114.1 L381.0,1112.7 L381.2,1111.3 L381.3,1109.8 L381.5,1108.4 L381.6,1107.0 L381.6,1105.5 L381.7,1104.1 L381.7,1102.6 L381.6,1101.1 L381.6,1099.6 L381.4,1098.1 L381.3,1096.6 L381.1,1095.1 L380.9,1093.5 L380.6,1092.0 L380.3,1090.5 L380.0,1088.9 L379.7,1087.3 L379.3,1085.8 L378.9,1084.3 L378.4,1082.7 L378.0,1081.2 L377.5,1079.7 L377.0,1078.2 L376.4,1076.8 L375.9,1075.3 L375.3,1073.8 L374.6,1072.4 L373.9,1070.9 L373.2,1069.5 L372.5,1068.1 L371.8,1066.7 L371.0,1065.3 L370.2,1063.9 L369.4,1062.6 L368.6,1061.2 L367.7,1059.8 L366.9,1058.5 L366.1,1057.1 L365.2,1055.8 L364.4,1054.5 L363.5,1053.2 L362.6,1051.8 L361.7,1050.5 L360.8,1049.1 L359.8,1047.8 L358.9,1046.5 L357.9,1045.2 L357.0,1043.9 L356.0,1042.6 L355.0,1041.3 L354.0,1040.0 L353.0,1038.8 L352.0,1037.6 L351.1,1036.4 L350.1,1035.2 L349.1,1034.1 L348.1,1033.0 L347.2,1031.9 L346.2,1030.9 L345.2,1029.8 L344.3,1028.9 L343.3,1027.9 L342.3,1027.0 L341.4,1026.0 L340.4,1025.1 L339.4,1024.2 L338.5,1023.3 L337.5,1022.4 L336.6,1021.5 L335.6,1020.6 L334.7,1019.7 L333.7,1018.8Z" fill="#dcdce0"/>
<path d="M294,1130 L302,1127 L297,1135 Z" fill="#2e2e30"/>
<path d="M318,966 L324,977 M270,973 L275,984 M1092,912 L1100,909" stroke="#555" stroke-width="2.2" fill="none"/>
<path d="M996.0,899.0 L1100.0,905.0" stroke="#f4f0f0" stroke-width="5.5" fill="none"/><path d="M996.1,901.8 L999.7,899.2 L996.4,896.3 L999.9,896.5 L1003.1,899.4 L999.6,902.0 Z M1003.1,902.2 L1006.7,899.6 L1003.4,896.7 L1006.9,896.9 L1010.1,899.8 L1006.5,902.4 Z M1010.1,902.6 L1013.7,900.0 L1010.4,897.1 L1013.8,897.3 L1017.1,900.2 L1013.5,902.8 Z M1017.1,903.0 L1020.7,900.4 L1017.4,897.5 L1020.8,897.7 L1024.1,900.6 L1020.5,903.2 Z M1024.1,903.4 L1027.7,900.8 L1024.4,897.9 L1027.8,898.1 L1031.1,901.0 L1027.5,903.6 Z M1031.1,903.8 L1034.7,901.2 L1031.4,898.3 L1034.8,898.5 L1038.1,901.4 L1034.5,904.0 Z M1038.0,904.2 L1041.6,901.6 L1038.4,898.7 L1041.8,898.9 L1045.1,901.8 L1041.5,904.4 Z M1045.0,904.6 L1048.6,902.0 L1045.3,899.1 L1048.8,899.3 L1052.1,902.2 L1048.5,904.8 Z M1052.0,905.0 L1055.6,902.4 L1052.3,899.5 L1055.8,899.7 L1059.1,902.6 L1055.5,905.2 Z M1059.0,905.4 L1062.6,902.8 L1059.3,899.9 L1062.8,900.1 L1066.0,903.0 L1062.4,905.6 Z M1066.0,905.8 L1069.6,903.2 L1066.3,900.3 L1069.8,900.5 L1073.0,903.4 L1069.4,906.0 Z M1073.0,906.2 L1076.6,903.6 L1073.3,900.7 L1076.7,900.9 L1080.0,903.8 L1076.4,906.4 Z M1080.0,906.6 L1083.6,904.1 L1080.3,901.1 L1083.7,901.3 L1087.0,904.3 L1083.4,906.8 Z M1087.0,907.0 L1090.6,904.5 L1087.3,901.5 L1090.7,901.7 L1094.0,904.7 L1090.4,907.2 Z" fill="#d8233a"/>
<path d="M996.0,908.0 L1100.0,911.5" stroke="#f4f0f0" stroke-width="5.5" fill="none"/><path d="M996.2,910.8 L999.7,908.1 L996.4,905.3 L999.8,905.4 L1003.2,908.2 L999.6,910.9 Z M1003.2,911.0 L1006.7,908.4 L1003.4,905.5 L1006.8,905.6 L1010.2,908.5 L1006.6,911.1 Z M1010.2,911.2 L1013.7,908.6 L1010.4,905.7 L1013.8,905.8 L1017.1,908.7 L1013.6,911.3 Z M1017.2,911.5 L1020.7,908.8 L1017.3,906.0 L1020.8,906.1 L1024.1,908.9 L1020.6,911.6 Z M1024.2,911.7 L1027.7,909.1 L1024.3,906.2 L1027.8,906.3 L1031.1,909.2 L1027.6,911.8 Z M1031.2,911.9 L1034.7,909.3 L1031.3,906.4 L1034.8,906.6 L1038.1,909.4 L1034.6,912.1 Z M1038.2,912.2 L1041.7,909.5 L1038.3,906.7 L1041.8,906.8 L1045.1,909.7 L1041.6,912.3 Z M1045.1,912.4 L1048.7,909.8 L1045.3,906.9 L1048.8,907.0 L1052.1,909.9 L1048.6,912.5 Z M1052.1,912.6 L1055.7,910.0 L1052.3,907.1 L1055.8,907.3 L1059.1,910.1 L1055.6,912.8 Z M1059.1,912.9 L1062.7,910.2 L1059.3,907.4 L1062.8,907.5 L1066.1,910.4 L1062.6,913.0 Z M1066.1,913.1 L1069.7,910.5 L1066.3,907.6 L1069.8,907.7 L1073.1,910.6 L1069.6,913.2 Z M1073.1,913.3 L1076.7,910.7 L1073.3,907.9 L1076.8,908.0 L1080.1,910.8 L1076.6,913.5 Z M1080.1,913.6 L1083.7,911.0 L1080.3,908.1 L1083.8,908.2 L1087.1,911.1 L1083.6,913.7 Z M1087.1,913.8 L1090.7,911.2 L1087.3,908.3 L1090.8,908.4 L1094.1,911.3 L1090.6,913.9 Z" fill="#d8233a"/>
<path d="M193.0,913.0 L322.0,976.0" stroke="#f4f0f0" stroke-width="7.5" fill="none"/><path d="M191.7,916.5 L197.5,915.2 L195.0,909.8 L199.2,911.8 L201.7,917.3 L195.9,918.6 Z M200.2,920.7 L206.1,919.4 L203.5,914.0 L207.7,916.0 L210.3,921.4 L204.4,922.8 Z M208.8,924.9 L214.6,923.6 L212.0,918.1 L216.2,920.2 L218.8,925.6 L213.0,926.9 Z M217.3,929.0 L223.1,927.7 L220.6,922.3 L224.8,924.3 L227.3,929.8 L221.5,931.1 Z M225.8,933.2 L231.7,931.9 L229.1,926.5 L233.3,928.5 L235.9,933.9 L230.0,935.3 Z M234.4,937.4 L240.2,936.1 L237.7,930.6 L241.9,932.7 L244.4,938.1 L238.6,939.4 Z M242.9,941.5 L248.7,940.2 L246.2,934.8 L250.4,936.9 L253.0,942.3 L247.1,943.6 Z M251.4,945.7 L257.3,944.4 L254.7,939.0 L258.9,941.0 L261.5,946.4 L255.6,947.8 Z M260.0,949.9 L265.8,948.6 L263.3,943.1 L267.5,945.2 L270.0,950.6 L264.2,951.9 Z M268.5,954.1 L274.4,952.7 L271.8,947.3 L276.0,949.4 L278.6,954.8 L272.7,956.1 Z M277.0,958.2 L282.9,956.9 L280.3,951.5 L284.5,953.5 L287.1,959.0 L281.2,960.3 Z M285.6,962.4 L291.4,961.1 L288.9,955.6 L293.1,957.7 L295.6,963.1 L289.8,964.4 Z M294.1,966.6 L300.0,965.2 L297.4,959.8 L301.6,961.9 L304.2,967.3 L298.3,968.6 Z M302.7,970.7 L308.5,969.4 L305.9,964.0 L310.1,966.0 L312.7,971.5 L306.9,972.8 Z M311.2,974.9 L317.0,973.6 L314.5,968.2 L318.7,970.2 L321.2,975.6 L315.4,976.9 Z" fill="#d8233a"/>
<path d="M195.0,922.0 L274.0,982.0" stroke="#f4f0f0" stroke-width="7.5" fill="none"/><path d="M193.0,925.2 L199.0,925.0 L197.6,919.2 L201.3,922.1 L202.7,927.9 L196.7,928.0 Z M200.6,931.0 L206.6,930.8 L205.1,925.0 L208.8,927.8 L210.3,933.6 L204.3,933.8 Z M208.2,936.7 L214.1,936.5 L212.7,930.7 L216.4,933.6 L217.9,939.4 L211.9,939.5 Z M215.7,942.4 L221.7,942.3 L220.3,936.5 L224.0,939.3 L225.4,945.1 L219.4,945.3 Z M223.3,948.2 L229.3,948.0 L227.8,942.2 L231.5,945.0 L233.0,950.9 L227.0,951.0 Z M230.8,953.9 L236.8,953.8 L235.4,948.0 L239.1,950.8 L240.6,956.6 L234.6,956.8 Z M238.4,959.7 L244.4,959.5 L243.0,953.7 L246.7,956.5 L248.1,962.4 L242.1,962.5 Z M246.0,965.4 L252.0,965.3 L250.5,959.5 L254.2,962.3 L255.7,968.1 L249.7,968.3 Z M253.5,971.2 L259.5,971.0 L258.1,965.2 L261.8,968.0 L263.3,973.8 L257.3,974.0 Z M261.1,976.9 L267.1,976.8 L265.6,970.9 L269.4,973.8 L270.8,979.6 L264.8,979.7 Z" fill="#d8233a"/>
<path d="M1099.0,913.8 L1111.0,917.1 L1165.9,917.5 L1166.1,903.5 L1111.1,903.1 L1099.0,906.2Z" fill="#8e1828"/><path d="M1111.0,917.1 L1165.9,917.5 L1166.0,911.9 L1111.0,911.5Z" fill="#6a0e1c" opacity="0.55"/><path d="M1164.9,917.5 L1165.1,903.5" stroke="#6a0e1c" stroke-width="2" fill="none"/>
<path d="M319.8,976.9 L331.5,984.5 L389.4,1008.3 L393.8,997.7 L335.9,973.9 L322.2,971.1Z" fill="#c4263a"/><path d="M331.5,984.5 L389.4,1008.3 L391.2,1004.1 L333.3,980.3Z" fill="#9a1a2c" opacity="0.55"/><path d="M388.5,1007.9 L392.9,997.3" stroke="#9a1a2c" stroke-width="2" fill="none"/>
<path d="M269.8,983.1 L279.3,992.6 L329.5,1025.8 L335.9,1016.2 L285.7,983.0 L273.2,977.9Z" fill="#c4263a"/><path d="M279.3,992.6 L329.5,1025.8 L332.1,1022.0 L281.9,988.7Z" fill="#9a1a2c" opacity="0.55"/><path d="M328.7,1025.2 L335.0,1015.7" stroke="#9a1a2c" stroke-width="2" fill="none"/>
<ellipse cx="188" cy="943.3" rx="14" ry="22" transform="rotate(-35 188 943.3)" fill="none" stroke="#3a3a3c" stroke-width="6"/>
<ellipse cx="188" cy="943.3" rx="14" ry="22" transform="rotate(-35 188 943.3)" fill="none" stroke="#e2e2e4" stroke-width="3.2"/>
<circle cx="247" cy="1043" r="22" fill="none" stroke="#3a3a3c" stroke-width="6.5"/>
<circle cx="247" cy="1043" r="22" fill="none" stroke="#e6e6e8" stroke-width="3.5"/>
<g transform="translate(220 995) rotate(-26)"><path d="M-6.5,-42 L6.5,-42 L7,-26 Q15,-22 15.5,-10 L15.5,16 Q15,24 8,27 L-8,27 Q-15,24 -15.5,16 L-15.5,-10 Q-15,-22 -7,-26 Z" fill="#3a3a3c"/><path d="M-5,-40.5 L5,-40.5 L5.5,-24.5 Q13.5,-21 14,-10 L14,15 Q13.5,22.5 7,25.5 L-7,25.5 Q-13.5,22.5 -14,15 L-14,-10 Q-13.5,-21 -5.5,-24.5 Z" fill="#e6e6e8"/><path d="M0.5,-40 L4,-40 L4.5,-24 Q9,-18 9,-8 L9,24 L2,25 Q3,6 2,-10 Q2,-20 0.5,-24 Z" fill="#4a4a4c"/><path d="M-12,-6 L-8,-6 L-8,20 L-12,18 Z" fill="#ffffff" opacity="0.8"/><path d="M-14,-9 Q0,-13 14,-9" stroke="#8a8a8c" stroke-width="1.2" fill="none"/></g>
<g transform="translate(236.5 1030) rotate(-26)"><rect x="-6" y="-9" width="12" height="18" fill="#4a4a4c"/><path d="M-6,-6 H6 M-6,-2 H6 M-6,2 H6 M-6,6 H6" stroke="#e0e0e0" stroke-width="1.5"/></g>
<circle cx="170" cy="884" r="24.5" fill="none" stroke="#3a3a3c" stroke-width="5.5"/>
<circle cx="170" cy="884" r="24.5" fill="none" stroke="#e6e6e8" stroke-width="2.8"/>
<circle cx="950.8" cy="901.8" r="21" fill="none" stroke="#3a3a3c" stroke-width="4.8"/>
<circle cx="950.8" cy="901.8" r="21" fill="none" stroke="#e6e6e8" stroke-width="2.4"/>
<clipPath id="bclip"><path d="M179.5,885.0 L183.3,881.8 L187.2,878.5 L191.0,875.2 L194.8,872.2 L198.7,869.6 L202.5,867.6 L206.4,866.1 L210.2,865.1 L214.0,864.3 L217.9,863.5 L221.7,862.6 L225.5,861.7 L229.4,860.8 L233.2,860.0 L237.1,859.2 L240.9,858.4 L244.7,857.6 L248.6,856.8 L252.4,856.0 L256.2,855.1 L260.1,854.2 L263.9,853.3 L267.7,852.4 L271.6,851.6 L275.4,850.8 L279.3,850.0 L283.1,849.2 L286.9,848.6 L290.8,847.9 L294.6,847.3 L298.4,846.7 L302.3,846.2 L306.1,845.7 L309.9,845.2 L313.8,844.7 L317.6,844.2 L321.5,843.7 L325.3,843.3 L329.1,842.8 L333.0,842.4 L336.8,841.9 L340.6,841.5 L344.5,841.1 L348.3,840.6 L352.2,840.2 L356.0,839.8 L359.8,839.4 L363.7,839.0 L367.5,838.6 L371.3,838.2 L375.2,837.8 L379.0,837.4 L382.8,837.0 L386.7,836.6 L390.5,836.2 L394.4,835.8 L398.2,835.5 L402.0,835.1 L405.9,834.8 L409.7,834.4 L413.5,834.1 L417.4,833.7 L421.2,833.4 L425.0,833.1 L428.9,832.8 L432.7,832.5 L436.6,832.2 L440.4,832.0 L444.2,831.7 L448.1,831.5 L451.9,831.3 L455.7,831.1 L459.6,830.9 L463.4,830.7 L467.3,830.5 L471.1,830.3 L474.9,830.2 L478.8,830.0 L482.6,829.8 L486.4,829.6 L490.3,829.4 L494.1,829.2 L497.9,829.1 L501.8,828.9 L505.6,828.7 L509.5,828.5 L513.3,828.4 L517.1,828.2 L521.0,828.1 L524.8,827.9 L528.6,827.8 L532.5,827.6 L536.3,827.5 L540.1,827.4 L544.0,827.3 L547.8,827.2 L551.7,827.1 L555.5,827.0 L559.3,826.9 L563.2,826.9 L567.0,826.8 L570.8,826.8 L574.7,826.7 L578.5,826.7 L582.4,826.7 L586.2,826.7 L590.0,826.7 L593.9,826.7 L597.7,826.7 L601.5,826.8 L605.4,826.8 L609.2,826.8 L613.0,826.9 L616.9,826.9 L620.7,827.0 L624.6,827.1 L628.4,827.1 L632.2,827.2 L636.1,827.3 L639.9,827.4 L643.7,827.5 L647.6,827.6 L651.4,827.7 L655.2,827.8 L659.1,827.9 L662.9,828.1 L666.8,828.2 L670.6,828.4 L674.4,828.6 L678.3,828.7 L682.1,828.9 L685.9,829.1 L689.8,829.3 L693.6,829.6 L697.5,829.8 L701.3,830.1 L705.1,830.4 L709.0,830.7 L712.8,831.1 L716.6,831.5 L720.5,831.9 L724.3,832.4 L728.1,832.9 L732.0,833.4 L735.8,833.9 L739.7,834.4 L743.5,835.0 L747.3,835.6 L751.2,836.2 L755.0,836.8 L758.8,837.5 L762.7,838.1 L766.5,838.8 L770.3,839.4 L774.2,840.1 L778.0,840.7 L781.9,841.3 L785.7,841.9 L789.5,842.5 L793.4,843.7 L797.2,844.8 L801.0,845.9 L804.9,846.9 L808.7,848.0 L812.6,849.0 L816.4,850.1 L820.2,851.1 L824.1,852.2 L827.9,853.3 L831.7,854.3 L835.6,855.4 L839.4,856.5 L843.2,857.6 L847.1,858.7 L850.9,859.8 L854.8,860.9 L858.6,862.1 L862.4,863.2 L866.3,864.4 L870.1,865.6 L873.9,866.8 L877.8,868.0 L881.6,869.2 L885.4,870.5 L889.3,871.7 L893.1,873.0 L897.0,874.2 L900.8,875.5 L904.6,876.8 L908.5,878.1 L912.3,879.4 L916.1,880.7 L920.0,882.0 L923.8,883.4 L927.7,884.7 L931.5,886.4 L935.3,890.4 L939.2,895.6 L943.0,901.0 L943.0,901.0 L939.2,904.0 L935.3,907.0 L931.5,910.4 L927.7,913.0 L923.8,914.6 L920.0,916.0 L916.1,917.5 L912.3,918.9 L908.5,920.3 L904.6,921.7 L900.8,923.1 L897.0,924.4 L893.1,925.7 L889.3,927.1 L885.4,928.4 L881.6,929.6 L877.8,930.9 L873.9,932.1 L870.1,933.3 L866.3,934.5 L862.4,935.7 L858.6,936.8 L854.8,937.8 L850.9,938.9 L847.1,939.9 L843.2,940.9 L839.4,941.9 L835.6,942.9 L831.7,943.8 L827.9,944.8 L824.1,945.7 L820.2,946.6 L816.4,947.5 L812.6,948.4 L808.7,949.3 L804.9,950.2 L801.0,951.0 L797.2,951.8 L793.4,952.4 L789.5,952.2 L785.7,952.2 L781.9,952.4 L778.0,952.8 L774.2,953.2 L770.3,953.6 L766.5,954.0 L762.7,954.4 L758.8,954.9 L755.0,955.3 L751.2,955.7 L747.3,956.2 L743.5,956.6 L739.7,957.0 L735.8,957.4 L732.0,957.7 L728.1,958.1 L724.3,958.4 L720.5,958.7 L716.6,959.0 L712.8,959.3 L709.0,959.5 L705.1,959.7 L701.3,959.9 L697.5,960.1 L693.6,960.3 L689.8,960.4 L685.9,960.5 L682.1,960.7 L678.3,960.8 L674.4,960.9 L670.6,961.0 L666.8,961.1 L662.9,961.1 L659.1,961.2 L655.2,961.3 L651.4,961.3 L647.6,961.4 L643.7,961.5 L639.9,961.5 L636.1,961.6 L632.2,961.6 L628.4,961.6 L624.6,961.7 L620.7,961.7 L616.9,961.7 L613.0,961.7 L609.2,961.7 L605.4,961.8 L601.5,961.8 L597.7,961.7 L593.9,961.7 L590.0,961.7 L586.2,961.7 L582.4,961.6 L578.5,961.6 L574.7,961.5 L570.8,961.4 L567.0,961.3 L563.2,961.1 L559.3,960.9 L555.5,960.6 L551.7,960.4 L547.8,960.0 L544.0,959.7 L540.1,959.3 L536.3,958.9 L532.5,958.5 L528.6,958.1 L524.8,957.7 L521.0,957.4 L517.1,957.1 L513.3,956.7 L509.5,956.4 L505.6,956.1 L501.8,955.7 L497.9,955.4 L494.1,955.0 L490.3,954.7 L486.4,954.3 L482.6,953.9 L478.8,953.5 L474.9,953.2 L471.1,952.8 L467.3,952.4 L463.4,952.1 L459.6,951.8 L455.7,951.4 L451.9,951.1 L448.1,950.8 L444.2,950.4 L440.4,950.1 L436.6,949.8 L432.7,949.5 L428.9,949.1 L425.0,948.8 L421.2,948.4 L417.4,948.1 L413.5,947.7 L409.7,947.3 L405.9,946.9 L402.0,946.5 L398.2,946.1 L394.4,945.7 L390.5,945.2 L386.7,944.7 L382.8,944.2 L379.0,943.7 L375.2,943.1 L371.3,942.5 L367.5,941.8 L363.7,941.1 L359.8,940.4 L356.0,939.7 L352.2,939.0 L348.3,938.2 L344.5,937.5 L340.6,936.7 L336.8,935.9 L333.0,935.1 L329.1,934.3 L325.3,933.5 L321.5,932.6 L317.6,931.8 L313.8,931.0 L309.9,930.1 L306.1,929.3 L302.3,928.5 L298.4,927.7 L294.6,926.9 L290.8,926.1 L286.9,925.2 L283.1,924.0 L279.3,922.8 L275.4,921.5 L271.6,920.2 L267.7,918.8 L263.9,917.5 L260.1,916.1 L256.2,914.7 L252.4,913.3 L248.6,912.0 L244.7,910.6 L240.9,909.3 L237.1,907.9 L233.2,906.5 L229.4,905.2 L225.5,903.8 L221.7,902.6 L217.9,901.4 L214.0,900.3 L210.2,899.5 L206.4,898.6 L202.5,897.5 L198.7,895.9 L194.8,894.0 L191.0,891.9 L187.2,889.6 L183.3,887.2 L179.5,885.0Z"/></clipPath>
<g clip-path="url(#bclip)">
<path d="M179.5,885.0 L183.3,881.8 L187.2,878.5 L191.0,875.2 L194.8,872.2 L198.7,869.6 L202.5,867.6 L206.4,866.1 L210.2,865.1 L214.0,864.3 L217.9,863.5 L221.7,862.6 L225.5,861.7 L229.4,860.8 L233.2,860.0 L237.1,859.2 L240.9,858.4 L244.7,857.6 L248.6,856.8 L252.4,856.0 L256.2,855.1 L260.1,854.2 L263.9,853.3 L267.7,852.4 L271.6,851.6 L275.4,850.8 L279.3,850.0 L283.1,849.2 L286.9,848.6 L290.8,847.9 L294.6,847.3 L298.4,846.7 L302.3,846.2 L306.1,845.7 L309.9,845.2 L313.8,844.7 L317.6,844.2 L321.5,843.7 L325.3,843.3 L329.1,842.8 L333.0,842.4 L336.8,841.9 L340.6,841.5 L344.5,841.1 L348.3,840.6 L352.2,840.2 L356.0,839.8 L359.8,839.4 L363.7,839.0 L367.5,838.6 L371.3,838.2 L375.2,837.8 L379.0,837.4 L382.8,837.0 L386.7,836.6 L390.5,836.2 L394.4,835.8 L398.2,835.5 L402.0,835.1 L405.9,834.8 L409.7,834.4 L413.5,834.1 L417.4,833.7 L421.2,833.4 L425.0,833.1 L428.9,832.8 L432.7,832.5 L436.6,832.2 L440.4,832.0 L444.2,831.7 L448.1,831.5 L451.9,831.3 L455.7,831.1 L459.6,830.9 L463.4,830.7 L467.3,830.5 L471.1,830.3 L474.9,830.2 L478.8,830.0 L482.6,829.8 L486.4,829.6 L490.3,829.4 L494.1,829.2 L497.9,829.1 L501.8,828.9 L505.6,828.7 L509.5,828.5 L513.3,828.4 L517.1,828.2 L521.0,828.1 L524.8,827.9 L528.6,827.8 L532.5,827.6 L536.3,827.5 L540.1,827.4 L544.0,827.3 L547.8,827.2 L551.7,827.1 L555.5,827.0 L559.3,826.9 L563.2,826.9 L567.0,826.8 L570.8,826.8 L574.7,826.7 L578.5,826.7 L582.4,826.7 L586.2,826.7 L590.0,826.7 L593.9,826.7 L597.7,826.7 L601.5,826.8 L605.4,826.8 L609.2,826.8 L613.0,826.9 L616.9,826.9 L620.7,827.0 L624.6,827.1 L628.4,827.1 L632.2,827.2 L636.1,827.3 L639.9,827.4 L643.7,827.5 L647.6,827.6 L651.4,827.7 L655.2,827.8 L659.1,827.9 L662.9,828.1 L666.8,828.2 L670.6,828.4 L674.4,828.6 L678.3,828.7 L682.1,828.9 L685.9,829.1 L689.8,829.3 L693.6,829.6 L697.5,829.8 L701.3,830.1 L705.1,830.4 L709.0,830.7 L712.8,831.1 L716.6,831.5 L720.5,831.9 L724.3,832.4 L728.1,832.9 L732.0,833.4 L735.8,833.9 L739.7,834.4 L743.5,835.0 L747.3,835.6 L751.2,836.2 L755.0,836.8 L758.8,837.5 L762.7,838.1 L766.5,838.8 L770.3,839.4 L774.2,840.1 L778.0,840.7 L781.9,841.3 L785.7,841.9 L789.5,842.5 L793.4,843.7 L797.2,844.8 L801.0,845.9 L804.9,846.9 L808.7,848.0 L812.6,849.0 L816.4,850.1 L820.2,851.1 L824.1,852.2 L827.9,853.3 L831.7,854.3 L835.6,855.4 L839.4,856.5 L843.2,857.6 L847.1,858.7 L850.9,859.8 L854.8,860.9 L858.6,862.1 L862.4,863.2 L866.3,864.4 L870.1,865.6 L873.9,866.8 L877.8,868.0 L881.6,869.2 L885.4,870.5 L889.3,871.7 L893.1,873.0 L897.0,874.2 L900.8,875.5 L904.6,876.8 L908.5,878.1 L912.3,879.4 L916.1,880.7 L920.0,882.0 L923.8,883.4 L927.7,884.7 L931.5,886.4 L935.3,890.4 L939.2,895.6 L943.0,901.0 L943.0,901.0 L939.2,904.0 L935.3,907.0 L931.5,910.4 L927.7,913.0 L923.8,914.6 L920.0,916.0 L916.1,917.5 L912.3,918.9 L908.5,920.3 L904.6,921.7 L900.8,923.1 L897.0,924.4 L893.1,925.7 L889.3,927.1 L885.4,928.4 L881.6,929.6 L877.8,930.9 L873.9,932.1 L870.1,933.3 L866.3,934.5 L862.4,935.7 L858.6,936.8 L854.8,937.8 L850.9,938.9 L847.1,939.9 L843.2,940.9 L839.4,941.9 L835.6,942.9 L831.7,943.8 L827.9,944.8 L824.1,945.7 L820.2,946.6 L816.4,947.5 L812.6,948.4 L808.7,949.3 L804.9,950.2 L801.0,951.0 L797.2,951.8 L793.4,952.4 L789.5,952.2 L785.7,952.2 L781.9,952.4 L778.0,952.8 L774.2,953.2 L770.3,953.6 L766.5,954.0 L762.7,954.4 L758.8,954.9 L755.0,955.3 L751.2,955.7 L747.3,956.2 L743.5,956.6 L739.7,957.0 L735.8,957.4 L732.0,957.7 L728.1,958.1 L724.3,958.4 L720.5,958.7 L716.6,959.0 L712.8,959.3 L709.0,959.5 L705.1,959.7 L701.3,959.9 L697.5,960.1 L693.6,960.3 L689.8,960.4 L685.9,960.5 L682.1,960.7 L678.3,960.8 L674.4,960.9 L670.6,961.0 L666.8,961.1 L662.9,961.1 L659.1,961.2 L655.2,961.3 L651.4,961.3 L647.6,961.4 L643.7,961.5 L639.9,961.5 L636.1,961.6 L632.2,961.6 L628.4,961.6 L624.6,961.7 L620.7,961.7 L616.9,961.7 L613.0,961.7 L609.2,961.7 L605.4,961.8 L601.5,961.8 L597.7,961.7 L593.9,961.7 L590.0,961.7 L586.2,961.7 L582.4,961.6 L578.5,961.6 L574.7,961.5 L570.8,961.4 L567.0,961.3 L563.2,961.1 L559.3,960.9 L555.5,960.6 L551.7,960.4 L547.8,960.0 L544.0,959.7 L540.1,959.3 L536.3,958.9 L532.5,958.5 L528.6,958.1 L524.8,957.7 L521.0,957.4 L517.1,957.1 L513.3,956.7 L509.5,956.4 L505.6,956.1 L501.8,955.7 L497.9,955.4 L494.1,955.0 L490.3,954.7 L486.4,954.3 L482.6,953.9 L478.8,953.5 L474.9,953.2 L471.1,952.8 L467.3,952.4 L463.4,952.1 L459.6,951.8 L455.7,951.4 L451.9,951.1 L448.1,950.8 L444.2,950.4 L440.4,950.1 L436.6,949.8 L432.7,949.5 L428.9,949.1 L425.0,948.8 L421.2,948.4 L417.4,948.1 L413.5,947.7 L409.7,947.3 L405.9,946.9 L402.0,946.5 L398.2,946.1 L394.4,945.7 L390.5,945.2 L386.7,944.7 L382.8,944.2 L379.0,943.7 L375.2,943.1 L371.3,942.5 L367.5,941.8 L363.7,941.1 L359.8,940.4 L356.0,939.7 L352.2,939.0 L348.3,938.2 L344.5,937.5 L340.6,936.7 L336.8,935.9 L333.0,935.1 L329.1,934.3 L325.3,933.5 L321.5,932.6 L317.6,931.8 L313.8,931.0 L309.9,930.1 L306.1,929.3 L302.3,928.5 L298.4,927.7 L294.6,926.9 L290.8,926.1 L286.9,925.2 L283.1,924.0 L279.3,922.8 L275.4,921.5 L271.6,920.2 L267.7,918.8 L263.9,917.5 L260.1,916.1 L256.2,914.7 L252.4,913.3 L248.6,912.0 L244.7,910.6 L240.9,909.3 L237.1,907.9 L233.2,906.5 L229.4,905.2 L225.5,903.8 L221.7,902.6 L217.9,901.4 L214.0,900.3 L210.2,899.5 L206.4,898.6 L202.5,897.5 L198.7,895.9 L194.8,894.0 L191.0,891.9 L187.2,889.6 L183.3,887.2 L179.5,885.0Z" fill="#cfd7ea"/>
<path d="M179.5,885.0 L183.3,881.8 L187.2,878.5 L191.0,875.2 L194.8,872.2 L198.7,869.6 L202.5,867.6 L206.4,866.1 L210.2,865.1 L214.0,864.3 L217.9,863.5 L221.7,862.6 L225.5,861.7 L229.4,860.8 L233.2,860.0 L237.1,859.2 L240.9,858.4 L244.7,857.6 L248.6,856.8 L252.4,856.0 L256.2,855.1 L260.1,854.2 L263.9,853.3 L267.7,852.4 L271.6,851.6 L275.4,850.8 L279.3,850.0 L283.1,849.2 L286.9,848.6 L290.8,847.9 L294.6,847.3 L298.4,846.7 L302.3,846.2 L306.1,845.7 L309.9,845.2 L313.8,844.7 L317.6,844.2 L321.5,843.7 L325.3,843.3 L329.1,842.8 L333.0,842.4 L336.8,841.9 L340.6,841.5 L344.5,841.1 L348.3,840.6 L352.2,840.2 L356.0,839.8 L359.8,839.4 L363.7,839.0 L367.5,838.6 L371.3,838.2 L375.2,837.8 L379.0,837.4 L382.8,837.0 L386.7,836.6 L390.5,836.2 L394.4,835.8 L398.2,835.5 L402.0,835.1 L405.9,834.8 L409.7,834.4 L413.5,834.1 L417.4,833.7 L421.2,833.4 L425.0,833.1 L428.9,832.8 L432.7,832.5 L436.6,832.2 L440.4,832.0 L444.2,831.7 L448.1,831.5 L451.9,831.3 L455.7,831.1 L459.6,830.9 L463.4,830.7 L467.3,830.5 L471.1,830.3 L474.9,830.2 L478.8,830.0 L482.6,829.8 L486.4,829.6 L490.3,829.4 L494.1,829.2 L497.9,829.1 L501.8,828.9 L505.6,828.7 L509.5,828.5 L513.3,828.4 L517.1,828.2 L521.0,828.1 L524.8,827.9 L528.6,827.8 L532.5,827.6 L536.3,827.5 L540.1,827.4 L544.0,827.3 L547.8,827.2 L551.7,827.1 L555.5,827.0 L559.3,826.9 L563.2,826.9 L567.0,826.8 L570.8,826.8 L574.7,826.7 L578.5,826.7 L582.4,826.7 L586.2,826.7 L590.0,826.7 L593.9,826.7 L597.7,826.7 L601.5,826.8 L605.4,826.8 L609.2,826.8 L613.0,826.9 L616.9,826.9 L620.7,827.0 L624.6,827.1 L628.4,827.1 L632.2,827.2 L636.1,827.3 L639.9,827.4 L643.7,827.5 L647.6,827.6 L651.4,827.7 L655.2,827.8 L659.1,827.9 L662.9,828.1 L666.8,828.2 L670.6,828.4 L674.4,828.6 L678.3,828.7 L682.1,828.9 L685.9,829.1 L689.8,829.3 L693.6,829.6 L697.5,829.8 L701.3,830.1 L705.1,830.4 L709.0,830.7 L712.8,831.1 L716.6,831.5 L720.5,831.9 L724.3,832.4 L728.1,832.9 L732.0,833.4 L735.8,833.9 L739.7,834.4 L743.5,835.0 L747.3,835.6 L751.2,836.2 L755.0,836.8 L758.8,837.5 L762.7,838.1 L766.5,838.8 L770.3,839.4 L774.2,840.1 L778.0,840.7 L781.9,841.3 L785.7,841.9 L789.5,842.5 L793.4,843.7 L797.2,844.8 L801.0,845.9 L804.9,846.9 L808.7,848.0 L812.6,849.0 L816.4,850.1 L820.2,851.1 L824.1,852.2 L827.9,853.3 L831.7,854.3 L835.6,855.4 L839.4,856.5 L843.2,857.6 L847.1,858.7 L850.9,859.8 L854.8,860.9 L858.6,862.1 L862.4,863.2 L866.3,864.4 L870.1,865.6 L873.9,866.8 L877.8,868.0 L881.6,869.2 L885.4,870.5 L889.3,871.7 L893.1,873.0 L897.0,874.2 L900.8,875.5 L904.6,876.8 L908.5,878.1 L912.3,879.4 L916.1,880.7 L920.0,882.0 L923.8,883.4 L927.7,884.7 L931.5,886.4 L935.3,890.4 L939.2,895.6 L943.0,901.0 L943.0,901.0 L939.2,895.7 L935.3,890.7 L931.5,886.8 L927.7,885.3 L923.8,884.0 L920.0,882.7 L916.1,881.5 L912.3,880.3 L908.5,879.1 L904.6,877.9 L900.8,876.7 L897.0,875.5 L893.1,874.4 L889.3,873.2 L885.4,872.1 L881.6,871.0 L877.8,869.8 L873.9,868.7 L870.1,867.6 L866.3,866.5 L862.4,865.4 L858.6,864.3 L854.8,863.3 L850.9,862.3 L847.1,861.3 L843.2,860.4 L839.4,859.4 L835.6,858.5 L831.7,857.6 L827.9,856.8 L824.1,855.9 L820.2,855.1 L816.4,854.2 L812.6,853.4 L808.7,852.6 L804.9,851.7 L801.0,850.9 L797.2,850.0 L793.4,849.1 L789.5,848.0 L785.7,847.5 L781.9,847.0 L778.0,846.4 L774.2,845.8 L770.3,845.2 L766.5,844.6 L762.7,844.0 L758.8,843.4 L755.0,842.9 L751.2,842.3 L747.3,841.7 L743.5,841.2 L739.7,840.7 L735.8,840.2 L732.0,839.7 L728.1,839.2 L724.3,838.8 L720.5,838.4 L716.6,838.0 L712.8,837.6 L709.0,837.3 L705.1,836.9 L701.3,836.7 L697.5,836.4 L693.6,836.2 L689.8,836.0 L685.9,835.7 L682.1,835.6 L678.3,835.4 L674.4,835.2 L670.6,835.0 L666.8,834.9 L662.9,834.8 L659.1,834.6 L655.2,834.5 L651.4,834.4 L647.6,834.3 L643.7,834.2 L639.9,834.1 L636.1,834.0 L632.2,833.9 L628.4,833.8 L624.6,833.7 L620.7,833.7 L616.9,833.6 L613.0,833.5 L609.2,833.5 L605.4,833.4 L601.5,833.4 L597.7,833.4 L593.9,833.3 L590.0,833.3 L586.2,833.3 L582.4,833.3 L578.5,833.3 L574.7,833.3 L570.8,833.3 L567.0,833.3 L563.2,833.4 L559.3,833.4 L555.5,833.5 L551.7,833.5 L547.8,833.6 L544.0,833.7 L540.1,833.7 L536.3,833.8 L532.5,833.9 L528.6,834.0 L524.8,834.1 L521.0,834.2 L517.1,834.4 L513.3,834.5 L509.5,834.6 L505.6,834.7 L501.8,834.9 L497.9,835.0 L494.1,835.2 L490.3,835.3 L486.4,835.5 L482.6,835.6 L478.8,835.8 L474.9,835.9 L471.1,836.1 L467.3,836.2 L463.4,836.4 L459.6,836.5 L455.7,836.7 L451.9,836.9 L448.1,837.1 L444.2,837.2 L440.4,837.4 L436.6,837.7 L432.7,837.9 L428.9,838.1 L425.0,838.4 L421.2,838.7 L417.4,839.0 L413.5,839.3 L409.7,839.6 L405.9,839.9 L402.0,840.2 L398.2,840.5 L394.4,840.9 L390.5,841.2 L386.7,841.5 L382.8,841.9 L379.0,842.2 L375.2,842.5 L371.3,842.9 L367.5,843.2 L363.7,843.6 L359.8,844.0 L356.0,844.3 L352.2,844.7 L348.3,845.0 L344.5,845.4 L340.6,845.8 L336.8,846.2 L333.0,846.5 L329.1,846.9 L325.3,847.3 L321.5,847.7 L317.6,848.1 L313.8,848.6 L309.9,849.0 L306.1,849.4 L302.3,849.9 L298.4,850.4 L294.6,850.9 L290.8,851.4 L286.9,852.0 L283.1,852.6 L279.3,853.3 L275.4,853.9 L271.6,854.7 L267.7,855.4 L263.9,856.2 L260.1,857.0 L256.2,857.8 L252.4,858.6 L248.6,859.3 L244.7,860.0 L240.9,860.7 L237.1,861.4 L233.2,862.1 L229.4,862.8 L225.5,863.6 L221.7,864.4 L217.9,865.2 L214.0,865.9 L210.2,866.7 L206.4,867.6 L202.5,868.9 L198.7,870.7 L194.8,873.1 L191.0,876.0 L187.2,879.0 L183.3,882.1 L179.5,885.0Z" fill="#1a58a8"/>
<path d="M179.5,885.0 L183.3,882.1 L187.2,879.0 L191.0,876.0 L194.8,873.1 L198.7,870.7 L202.5,868.9 L206.4,867.6 L210.2,866.7 L214.0,865.9 L217.9,865.2 L221.7,864.4 L225.5,863.6 L229.4,862.8 L233.2,862.1 L237.1,861.4 L240.9,860.7 L244.7,860.0 L248.6,859.3 L252.4,858.6 L256.2,857.8 L260.1,857.0 L263.9,856.2 L267.7,855.4 L271.6,854.7 L275.4,853.9 L279.3,853.3 L283.1,852.6 L286.9,852.0 L290.8,851.4 L294.6,850.9 L298.4,850.4 L302.3,849.9 L306.1,849.4 L309.9,849.0 L313.8,848.6 L317.6,848.1 L321.5,847.7 L325.3,847.3 L329.1,846.9 L333.0,846.5 L336.8,846.2 L340.6,845.8 L344.5,845.4 L348.3,845.0 L352.2,844.7 L356.0,844.3 L359.8,844.0 L363.7,843.6 L367.5,843.2 L371.3,842.9 L375.2,842.5 L379.0,842.2 L382.8,841.9 L386.7,841.5 L390.5,841.2 L394.4,840.9 L398.2,840.5 L402.0,840.2 L405.9,839.9 L409.7,839.6 L413.5,839.3 L417.4,839.0 L421.2,838.7 L425.0,838.4 L428.9,838.1 L432.7,837.9 L436.6,837.7 L440.4,837.4 L444.2,837.2 L448.1,837.1 L451.9,836.9 L455.7,836.7 L459.6,836.5 L463.4,836.4 L467.3,836.2 L471.1,836.1 L474.9,835.9 L478.8,835.8 L482.6,835.6 L486.4,835.5 L490.3,835.3 L494.1,835.2 L497.9,835.0 L501.8,834.9 L505.6,834.7 L509.5,834.6 L513.3,834.5 L517.1,834.4 L521.0,834.2 L524.8,834.1 L528.6,834.0 L532.5,833.9 L536.3,833.8 L540.1,833.7 L544.0,833.7 L547.8,833.6 L551.7,833.5 L555.5,833.5 L559.3,833.4 L563.2,833.4 L567.0,833.3 L570.8,833.3 L574.7,833.3 L578.5,833.3 L582.4,833.3 L586.2,833.3 L590.0,833.3 L593.9,833.3 L597.7,833.4 L601.5,833.4 L605.4,833.4 L609.2,833.5 L613.0,833.5 L616.9,833.6 L620.7,833.7 L624.6,833.7 L628.4,833.8 L632.2,833.9 L636.1,834.0 L639.9,834.1 L643.7,834.2 L647.6,834.3 L651.4,834.4 L655.2,834.5 L659.1,834.6 L662.9,834.8 L666.8,834.9 L670.6,835.0 L674.4,835.2 L678.3,835.4 L682.1,835.6 L685.9,835.7 L689.8,836.0 L693.6,836.2 L697.5,836.4 L701.3,836.7 L705.1,836.9 L709.0,837.3 L712.8,837.6 L716.6,838.0 L720.5,838.4 L724.3,838.8 L728.1,839.2 L732.0,839.7 L735.8,840.2 L739.7,840.7 L743.5,841.2 L747.3,841.7 L751.2,842.3 L755.0,842.9 L758.8,843.4 L762.7,844.0 L766.5,844.6 L770.3,845.2 L774.2,845.8 L778.0,846.4 L781.9,847.0 L785.7,847.5 L789.5,848.0 L793.4,849.1 L797.2,850.0 L801.0,850.9 L804.9,851.7 L808.7,852.6 L812.6,853.4 L816.4,854.2 L820.2,855.1 L824.1,855.9 L827.9,856.8 L831.7,857.6 L835.6,858.5 L839.4,859.4 L843.2,860.4 L847.1,861.3 L850.9,862.3 L854.8,863.3 L858.6,864.3 L862.4,865.4 L866.3,866.5 L870.1,867.6 L873.9,868.7 L877.8,869.8 L881.6,871.0 L885.4,872.1 L889.3,873.2 L893.1,874.4 L897.0,875.5 L900.8,876.7 L904.6,877.9 L908.5,879.1 L912.3,880.3 L916.1,881.5 L920.0,882.7 L923.8,884.0 L927.7,885.3 L931.5,886.8 L935.3,890.7 L939.2,895.7 L943.0,901.0 L943.0,901.0 L939.2,896.1 L935.3,891.4 L931.5,887.9 L927.7,886.6 L923.8,885.5 L920.0,884.4 L916.1,883.3 L912.3,882.3 L908.5,881.3 L904.6,880.4 L900.8,879.4 L897.0,878.5 L893.1,877.6 L889.3,876.7 L885.4,875.8 L881.6,875.0 L877.8,874.1 L873.9,873.2 L870.1,872.3 L866.3,871.4 L862.4,870.5 L858.6,869.6 L854.8,868.8 L850.9,868.1 L847.1,867.4 L843.2,866.8 L839.4,866.3 L835.6,865.8 L831.7,865.3 L827.9,864.9 L824.1,864.6 L820.2,864.2 L816.4,863.9 L812.6,863.6 L808.7,863.3 L804.9,862.9 L801.0,862.6 L797.2,862.2 L793.4,861.6 L789.5,860.9 L785.7,860.5 L781.9,860.2 L778.0,859.7 L774.2,859.3 L770.3,858.8 L766.5,858.3 L762.7,857.9 L758.8,857.4 L755.0,856.9 L751.2,856.5 L747.3,856.1 L743.5,855.6 L739.7,855.2 L735.8,854.8 L732.0,854.4 L728.1,854.1 L724.3,853.7 L720.5,853.4 L716.6,853.1 L712.8,852.8 L709.0,852.5 L705.1,852.2 L701.3,852.0 L697.5,851.8 L693.6,851.6 L689.8,851.4 L685.9,851.2 L682.1,851.0 L678.3,850.9 L674.4,850.7 L670.6,850.6 L666.8,850.4 L662.9,850.3 L659.1,850.2 L655.2,850.1 L651.4,849.9 L647.6,849.8 L643.7,849.7 L639.9,849.6 L636.1,849.5 L632.2,849.4 L628.4,849.4 L624.6,849.3 L620.7,849.2 L616.9,849.1 L613.0,849.1 L609.2,849.0 L605.4,848.9 L601.5,848.9 L597.7,848.8 L593.9,848.8 L590.0,848.7 L586.2,848.7 L582.4,848.6 L578.5,848.6 L574.7,848.6 L570.8,848.6 L567.0,848.5 L563.2,848.5 L559.3,848.5 L555.5,848.5 L551.7,848.5 L547.8,848.5 L544.0,848.5 L540.1,848.5 L536.3,848.5 L532.5,848.5 L528.6,848.5 L524.8,848.6 L521.0,848.6 L517.1,848.7 L513.3,848.7 L509.5,848.8 L505.6,848.8 L501.8,848.9 L497.9,848.9 L494.1,849.0 L490.3,849.1 L486.4,849.1 L482.6,849.2 L478.8,849.3 L474.9,849.4 L471.1,849.4 L467.3,849.5 L463.4,849.6 L459.6,849.7 L455.7,849.8 L451.9,849.8 L448.1,850.0 L444.2,850.1 L440.4,850.2 L436.6,850.3 L432.7,850.5 L428.9,850.6 L425.0,850.8 L421.2,851.0 L417.4,851.2 L413.5,851.4 L409.7,851.6 L405.9,851.9 L402.0,852.1 L398.2,852.3 L394.4,852.5 L390.5,852.8 L386.7,853.0 L382.8,853.2 L379.0,853.5 L375.2,853.7 L371.3,853.9 L367.5,854.2 L363.7,854.4 L359.8,854.6 L356.0,854.9 L352.2,855.1 L348.3,855.3 L344.5,855.6 L340.6,855.8 L336.8,856.1 L333.0,856.3 L329.1,856.6 L325.3,856.8 L321.5,857.1 L317.6,857.3 L313.8,857.6 L309.9,857.9 L306.1,858.2 L302.3,858.5 L298.4,858.9 L294.6,859.2 L290.8,859.6 L286.9,860.1 L283.1,860.5 L279.3,860.9 L275.4,861.4 L271.6,861.9 L267.7,862.4 L263.9,863.0 L260.1,863.5 L256.2,864.1 L252.4,864.6 L248.6,865.1 L244.7,865.5 L240.9,866.0 L237.1,866.5 L233.2,867.0 L229.4,867.5 L225.5,868.0 L221.7,868.6 L217.9,869.2 L214.0,869.7 L210.2,870.3 L206.4,871.0 L202.5,872.0 L198.7,873.5 L194.8,875.4 L191.0,877.7 L187.2,880.2 L183.3,882.6 L179.5,885.0Z" fill="#2a7ccc"/>
<path d="M179.5,885.0 L183.3,882.6 L187.2,880.2 L191.0,877.7 L194.8,875.4 L198.7,873.5 L202.5,872.0 L206.4,871.0 L210.2,870.3 L214.0,869.7 L217.9,869.2 L221.7,868.6 L225.5,868.0 L229.4,867.5 L233.2,867.0 L237.1,866.5 L240.9,866.0 L244.7,865.5 L248.6,865.1 L252.4,864.6 L256.2,864.1 L260.1,863.5 L263.9,863.0 L267.7,862.4 L271.6,861.9 L275.4,861.4 L279.3,860.9 L283.1,860.5 L286.9,860.1 L290.8,859.6 L294.6,859.2 L298.4,858.9 L302.3,858.5 L306.1,858.2 L309.9,857.9 L313.8,857.6 L317.6,857.3 L321.5,857.1 L325.3,856.8 L329.1,856.6 L333.0,856.3 L336.8,856.1 L340.6,855.8 L344.5,855.6 L348.3,855.3 L352.2,855.1 L356.0,854.9 L359.8,854.6 L363.7,854.4 L367.5,854.2 L371.3,853.9 L375.2,853.7 L379.0,853.5 L382.8,853.2 L386.7,853.0 L390.5,852.8 L394.4,852.5 L398.2,852.3 L402.0,852.1 L405.9,851.9 L409.7,851.6 L413.5,851.4 L417.4,851.2 L421.2,851.0 L425.0,850.8 L428.9,850.6 L432.7,850.5 L436.6,850.3 L440.4,850.2 L444.2,850.1 L448.1,850.0 L451.9,849.8 L455.7,849.8 L459.6,849.7 L463.4,849.6 L467.3,849.5 L471.1,849.4 L474.9,849.4 L478.8,849.3 L482.6,849.2 L486.4,849.1 L490.3,849.1 L494.1,849.0 L497.9,848.9 L501.8,848.9 L505.6,848.8 L509.5,848.8 L513.3,848.7 L517.1,848.7 L521.0,848.6 L524.8,848.6 L528.6,848.5 L532.5,848.5 L536.3,848.5 L540.1,848.5 L544.0,848.5 L547.8,848.5 L551.7,848.5 L555.5,848.5 L559.3,848.5 L563.2,848.5 L567.0,848.5 L570.8,848.6 L574.7,848.6 L578.5,848.6 L582.4,848.6 L586.2,848.7 L590.0,848.7 L593.9,848.8 L597.7,848.8 L601.5,848.9 L605.4,848.9 L609.2,849.0 L613.0,849.1 L616.9,849.1 L620.7,849.2 L624.6,849.3 L628.4,849.4 L632.2,849.4 L636.1,849.5 L639.9,849.6 L643.7,849.7 L647.6,849.8 L651.4,849.9 L655.2,850.1 L659.1,850.2 L662.9,850.3 L666.8,850.4 L670.6,850.6 L674.4,850.7 L678.3,850.9 L682.1,851.0 L685.9,851.2 L689.8,851.4 L693.6,851.6 L697.5,851.8 L701.3,852.0 L705.1,852.2 L709.0,852.5 L712.8,852.8 L716.6,853.1 L720.5,853.4 L724.3,853.7 L728.1,854.1 L732.0,854.4 L735.8,854.8 L739.7,855.2 L743.5,855.6 L747.3,856.1 L751.2,856.5 L755.0,856.9 L758.8,857.4 L762.7,857.9 L766.5,858.3 L770.3,858.8 L774.2,859.3 L778.0,859.7 L781.9,860.2 L785.7,860.5 L789.5,860.9 L793.4,861.6 L797.2,862.2 L801.0,862.6 L804.9,862.9 L808.7,863.3 L812.6,863.6 L816.4,863.9 L820.2,864.2 L824.1,864.6 L827.9,864.9 L831.7,865.3 L835.6,865.8 L839.4,866.3 L843.2,866.8 L847.1,867.4 L850.9,868.1 L854.8,868.8 L858.6,869.6 L862.4,870.5 L866.3,871.4 L870.1,872.3 L873.9,873.2 L877.8,874.1 L881.6,875.0 L885.4,875.8 L889.3,876.7 L893.1,877.6 L897.0,878.5 L900.8,879.4 L904.6,880.4 L908.5,881.3 L912.3,882.3 L916.1,883.3 L920.0,884.4 L923.8,885.5 L927.7,886.6 L931.5,887.9 L935.3,891.4 L939.2,896.1 L943.0,901.0 L943.0,901.0 L939.2,896.5 L935.3,892.3 L931.5,889.2 L927.7,888.2 L923.8,887.3 L920.0,886.4 L916.1,885.6 L912.3,884.8 L908.5,884.0 L904.6,883.3 L900.8,882.6 L897.0,881.9 L893.1,881.3 L889.3,880.7 L885.4,880.1 L881.6,879.4 L877.8,878.8 L873.9,878.2 L870.1,877.5 L866.3,876.8 L862.4,876.1 L858.6,875.4 L854.8,874.8 L850.9,874.3 L847.1,873.8 L843.2,873.4 L839.4,873.1 L835.6,872.9 L831.7,872.7 L827.9,872.6 L824.1,872.5 L820.2,872.4 L816.4,872.4 L812.6,872.3 L808.7,872.3 L804.9,872.2 L801.0,872.1 L797.2,872.0 L793.4,871.7 L789.5,871.1 L785.7,870.8 L781.9,870.6 L778.0,870.2 L774.2,869.9 L770.3,869.5 L766.5,869.1 L762.7,868.7 L758.8,868.4 L755.0,868.0 L751.2,867.7 L747.3,867.3 L743.5,867.0 L739.7,866.7 L735.8,866.4 L732.0,866.1 L728.1,865.8 L724.3,865.5 L720.5,865.3 L716.6,865.0 L712.8,864.8 L709.0,864.6 L705.1,864.4 L701.3,864.2 L697.5,864.0 L693.6,863.8 L689.8,863.7 L685.9,863.6 L682.1,863.4 L678.3,863.3 L674.4,863.2 L670.6,863.1 L666.8,863.0 L662.9,862.9 L659.1,862.8 L655.2,862.7 L651.4,862.6 L647.6,862.5 L643.7,862.4 L639.9,862.3 L636.1,862.3 L632.2,862.2 L628.4,862.1 L624.6,862.0 L620.7,862.0 L616.9,861.9 L613.0,861.9 L609.2,861.8 L605.4,861.8 L601.5,861.7 L597.7,861.7 L593.9,861.6 L590.0,861.6 L586.2,861.6 L582.4,861.5 L578.5,861.5 L574.7,861.5 L570.8,861.4 L567.0,861.4 L563.2,861.4 L559.3,861.4 L555.5,861.3 L551.7,861.3 L547.8,861.3 L544.0,861.2 L540.1,861.2 L536.3,861.2 L532.5,861.1 L528.6,861.1 L524.8,861.1 L521.0,861.1 L517.1,861.1 L513.3,861.1 L509.5,861.1 L505.6,861.2 L501.8,861.2 L497.9,861.2 L494.1,861.2 L490.3,861.2 L486.4,861.3 L482.6,861.3 L478.8,861.3 L474.9,861.3 L471.1,861.4 L467.3,861.4 L463.4,861.4 L459.6,861.5 L455.7,861.5 L451.9,861.5 L448.1,861.6 L444.2,861.7 L440.4,861.8 L436.6,861.8 L432.7,861.9 L428.9,862.1 L425.0,862.2 L421.2,862.3 L417.4,862.4 L413.5,862.6 L409.7,862.7 L405.9,862.9 L402.0,863.0 L398.2,863.2 L394.4,863.3 L390.5,863.5 L386.7,863.7 L382.8,863.8 L379.0,863.9 L375.2,864.1 L371.3,864.2 L367.5,864.4 L363.7,864.5 L359.8,864.6 L356.0,864.7 L352.2,864.9 L348.3,865.0 L344.5,865.1 L340.6,865.2 L336.8,865.3 L333.0,865.5 L329.1,865.6 L325.3,865.7 L321.5,865.9 L317.6,866.0 L313.8,866.2 L309.9,866.3 L306.1,866.5 L302.3,866.7 L298.4,866.9 L294.6,867.1 L290.8,867.4 L286.9,867.6 L283.1,867.9 L279.3,868.1 L275.4,868.4 L271.6,868.7 L267.7,869.0 L263.9,869.3 L260.1,869.6 L256.2,870.0 L252.4,870.3 L248.6,870.5 L244.7,870.8 L240.9,871.1 L237.1,871.3 L233.2,871.6 L229.4,871.9 L225.5,872.2 L221.7,872.5 L217.9,872.9 L214.0,873.3 L210.2,873.7 L206.4,874.2 L202.5,875.0 L198.7,876.1 L194.8,877.6 L191.0,879.4 L187.2,881.3 L183.3,883.2 L179.5,885.0Z" fill="#86ccee"/>
<path d="M179.5,885.0 L183.3,883.2 L187.2,881.3 L191.0,879.4 L194.8,877.6 L198.7,876.1 L202.5,875.0 L206.4,874.2 L210.2,873.7 L214.0,873.3 L217.9,872.9 L221.7,872.5 L225.5,872.2 L229.4,871.9 L233.2,871.6 L237.1,871.3 L240.9,871.1 L244.7,870.8 L248.6,870.5 L252.4,870.3 L256.2,870.0 L260.1,869.6 L263.9,869.3 L267.7,869.0 L271.6,868.7 L275.4,868.4 L279.3,868.1 L283.1,867.9 L286.9,867.6 L290.8,867.4 L294.6,867.1 L298.4,866.9 L302.3,866.7 L306.1,866.5 L309.9,866.3 L313.8,866.2 L317.6,866.0 L321.5,865.9 L325.3,865.7 L329.1,865.6 L333.0,865.5 L336.8,865.3 L340.6,865.2 L344.5,865.1 L348.3,865.0 L352.2,864.9 L356.0,864.7 L359.8,864.6 L363.7,864.5 L367.5,864.4 L371.3,864.2 L375.2,864.1 L379.0,863.9 L382.8,863.8 L386.7,863.7 L390.5,863.5 L394.4,863.3 L398.2,863.2 L402.0,863.0 L405.9,862.9 L409.7,862.7 L413.5,862.6 L417.4,862.4 L421.2,862.3 L425.0,862.2 L428.9,862.1 L432.7,861.9 L436.6,861.8 L440.4,861.8 L444.2,861.7 L448.1,861.6 L451.9,861.5 L455.7,861.5 L459.6,861.5 L463.4,861.4 L467.3,861.4 L471.1,861.4 L474.9,861.3 L478.8,861.3 L482.6,861.3 L486.4,861.3 L490.3,861.2 L494.1,861.2 L497.9,861.2 L501.8,861.2 L505.6,861.2 L509.5,861.1 L513.3,861.1 L517.1,861.1 L521.0,861.1 L524.8,861.1 L528.6,861.1 L532.5,861.1 L536.3,861.2 L540.1,861.2 L544.0,861.2 L547.8,861.3 L551.7,861.3 L555.5,861.3 L559.3,861.4 L563.2,861.4 L567.0,861.4 L570.8,861.4 L574.7,861.5 L578.5,861.5 L582.4,861.5 L586.2,861.6 L590.0,861.6 L593.9,861.6 L597.7,861.7 L601.5,861.7 L605.4,861.8 L609.2,861.8 L613.0,861.9 L616.9,861.9 L620.7,862.0 L624.6,862.0 L628.4,862.1 L632.2,862.2 L636.1,862.3 L639.9,862.3 L643.7,862.4 L647.6,862.5 L651.4,862.6 L655.2,862.7 L659.1,862.8 L662.9,862.9 L666.8,863.0 L670.6,863.1 L674.4,863.2 L678.3,863.3 L682.1,863.4 L685.9,863.6 L689.8,863.7 L693.6,863.8 L697.5,864.0 L701.3,864.2 L705.1,864.4 L709.0,864.6 L712.8,864.8 L716.6,865.0 L720.5,865.3 L724.3,865.5 L728.1,865.8 L732.0,866.1 L735.8,866.4 L739.7,866.7 L743.5,867.0 L747.3,867.3 L751.2,867.7 L755.0,868.0 L758.8,868.4 L762.7,868.7 L766.5,869.1 L770.3,869.5 L774.2,869.9 L778.0,870.2 L781.9,870.6 L785.7,870.8 L789.5,871.1 L793.4,871.7 L797.2,872.0 L801.0,872.1 L804.9,872.2 L808.7,872.3 L812.6,872.3 L816.4,872.4 L820.2,872.4 L824.1,872.5 L827.9,872.6 L831.7,872.7 L835.6,872.9 L839.4,873.1 L843.2,873.4 L847.1,873.8 L850.9,874.3 L854.8,874.8 L858.6,875.4 L862.4,876.1 L866.3,876.8 L870.1,877.5 L873.9,878.2 L877.8,878.8 L881.6,879.4 L885.4,880.1 L889.3,880.7 L893.1,881.3 L897.0,881.9 L900.8,882.6 L904.6,883.3 L908.5,884.0 L912.3,884.8 L916.1,885.6 L920.0,886.4 L923.8,887.3 L927.7,888.2 L931.5,889.2 L935.3,892.3 L939.2,896.5 L943.0,901.0 L943.0,901.0 L939.2,896.9 L935.3,893.1 L931.5,890.3 L927.7,889.5 L923.8,888.8 L920.0,888.0 L916.1,887.4 L912.3,886.8 L908.5,886.2 L904.6,885.7 L900.8,885.2 L897.0,884.8 L893.1,884.3 L889.3,883.9 L885.4,883.5 L881.6,883.1 L877.8,882.7 L873.9,882.2 L870.1,881.8 L866.3,881.2 L862.4,880.6 L858.6,880.1 L854.8,879.6 L850.9,879.3 L847.1,879.0 L843.2,878.9 L839.4,878.8 L835.6,878.7 L831.7,878.8 L827.9,878.8 L824.1,879.0 L820.2,879.1 L816.4,879.3 L812.6,879.5 L808.7,879.7 L804.9,879.8 L801.0,880.0 L797.2,880.0 L793.4,879.9 L789.5,879.4 L785.7,879.3 L781.9,879.1 L778.0,878.8 L774.2,878.5 L770.3,878.2 L766.5,877.9 L762.7,877.7 L758.8,877.4 L755.0,877.1 L751.2,876.8 L747.3,876.6 L743.5,876.3 L739.7,876.1 L735.8,875.8 L732.0,875.6 L728.1,875.4 L724.3,875.2 L720.5,875.0 L716.6,874.8 L712.8,874.6 L709.0,874.4 L705.1,874.3 L701.3,874.2 L697.5,874.0 L693.6,873.9 L689.8,873.8 L685.9,873.7 L682.1,873.6 L678.3,873.5 L674.4,873.4 L670.6,873.3 L666.8,873.2 L662.9,873.1 L659.1,873.0 L655.2,873.0 L651.4,872.9 L647.6,872.8 L643.7,872.8 L639.9,872.7 L636.1,872.7 L632.2,872.6 L628.4,872.5 L624.6,872.5 L620.7,872.4 L616.9,872.4 L613.0,872.4 L609.2,872.3 L605.4,872.3 L601.5,872.2 L597.7,872.2 L593.9,872.2 L590.0,872.1 L586.2,872.1 L582.4,872.1 L578.5,872.0 L574.7,872.0 L570.8,872.0 L567.0,872.0 L563.2,871.9 L559.3,871.9 L555.5,871.8 L551.7,871.8 L547.8,871.7 L544.0,871.7 L540.1,871.6 L536.3,871.5 L532.5,871.5 L528.6,871.4 L524.8,871.3 L521.0,871.3 L517.1,871.3 L513.3,871.3 L509.5,871.3 L505.6,871.2 L501.8,871.2 L497.9,871.2 L494.1,871.2 L490.3,871.2 L486.4,871.2 L482.6,871.2 L478.8,871.1 L474.9,871.1 L471.1,871.1 L467.3,871.1 L463.4,871.1 L459.6,871.1 L455.7,871.1 L451.9,871.1 L448.1,871.1 L444.2,871.2 L440.4,871.2 L436.6,871.3 L432.7,871.3 L428.9,871.4 L425.0,871.5 L421.2,871.5 L417.4,871.6 L413.5,871.7 L409.7,871.8 L405.9,871.9 L402.0,872.0 L398.2,872.1 L394.4,872.2 L390.5,872.3 L386.7,872.4 L382.8,872.4 L379.0,872.5 L375.2,872.6 L371.3,872.6 L367.5,872.7 L363.7,872.7 L359.8,872.8 L356.0,872.8 L352.2,872.8 L348.3,872.9 L344.5,872.9 L340.6,872.9 L336.8,873.0 L333.0,873.0 L329.1,873.0 L325.3,873.0 L321.5,873.1 L317.6,873.1 L313.8,873.2 L309.9,873.2 L306.1,873.3 L302.3,873.3 L298.4,873.4 L294.6,873.6 L290.8,873.7 L286.9,873.8 L283.1,873.9 L279.3,874.0 L275.4,874.1 L271.6,874.2 L267.7,874.4 L263.9,874.5 L260.1,874.7 L256.2,874.8 L252.4,874.9 L248.6,875.0 L244.7,875.1 L240.9,875.2 L237.1,875.3 L233.2,875.3 L229.4,875.5 L225.5,875.6 L221.7,875.8 L217.9,876.0 L214.0,876.2 L210.2,876.5 L206.4,876.8 L202.5,877.4 L198.7,878.3 L194.8,879.4 L191.0,880.7 L187.2,882.1 L183.3,883.6 L179.5,885.0Z" fill="#d4ecf8"/>
<path d="M179.5,885.0 L183.3,883.6 L187.2,882.1 L191.0,880.7 L194.8,879.4 L198.7,878.3 L202.5,877.4 L206.4,876.8 L210.2,876.5 L214.0,876.2 L217.9,876.0 L221.7,875.8 L225.5,875.6 L229.4,875.5 L233.2,875.3 L237.1,875.3 L240.9,875.2 L244.7,875.1 L248.6,875.0 L252.4,874.9 L256.2,874.8 L260.1,874.7 L263.9,874.5 L267.7,874.4 L271.6,874.2 L275.4,874.1 L279.3,874.0 L283.1,873.9 L286.9,873.8 L290.8,873.7 L294.6,873.6 L298.4,873.4 L302.3,873.3 L306.1,873.3 L309.9,873.2 L313.8,873.2 L317.6,873.1 L321.5,873.1 L325.3,873.0 L329.1,873.0 L333.0,873.0 L336.8,873.0 L340.6,872.9 L344.5,872.9 L348.3,872.9 L352.2,872.8 L356.0,872.8 L359.8,872.8 L363.7,872.7 L367.5,872.7 L371.3,872.6 L375.2,872.6 L379.0,872.5 L382.8,872.4 L386.7,872.4 L390.5,872.3 L394.4,872.2 L398.2,872.1 L402.0,872.0 L405.9,871.9 L409.7,871.8 L413.5,871.7 L417.4,871.6 L421.2,871.5 L425.0,871.5 L428.9,871.4 L432.7,871.3 L436.6,871.3 L440.4,871.2 L444.2,871.2 L448.1,871.1 L451.9,871.1 L455.7,871.1 L459.6,871.1 L463.4,871.1 L467.3,871.1 L471.1,871.1 L474.9,871.1 L478.8,871.1 L482.6,871.2 L486.4,871.2 L490.3,871.2 L494.1,871.2 L497.9,871.2 L501.8,871.2 L505.6,871.2 L509.5,871.3 L513.3,871.3 L517.1,871.3 L521.0,871.3 L524.8,871.3 L528.6,871.4 L532.5,871.5 L536.3,871.5 L540.1,871.6 L544.0,871.7 L547.8,871.7 L551.7,871.8 L555.5,871.8 L559.3,871.9 L563.2,871.9 L567.0,872.0 L570.8,872.0 L574.7,872.0 L578.5,872.0 L582.4,872.1 L586.2,872.1 L590.0,872.1 L593.9,872.2 L597.7,872.2 L601.5,872.2 L605.4,872.3 L609.2,872.3 L613.0,872.4 L616.9,872.4 L620.7,872.4 L624.6,872.5 L628.4,872.5 L632.2,872.6 L636.1,872.7 L639.9,872.7 L643.7,872.8 L647.6,872.8 L651.4,872.9 L655.2,873.0 L659.1,873.0 L662.9,873.1 L666.8,873.2 L670.6,873.3 L674.4,873.4 L678.3,873.5 L682.1,873.6 L685.9,873.7 L689.8,873.8 L693.6,873.9 L697.5,874.0 L701.3,874.2 L705.1,874.3 L709.0,874.4 L712.8,874.6 L716.6,874.8 L720.5,875.0 L724.3,875.2 L728.1,875.4 L732.0,875.6 L735.8,875.8 L739.7,876.1 L743.5,876.3 L747.3,876.6 L751.2,876.8 L755.0,877.1 L758.8,877.4 L762.7,877.7 L766.5,877.9 L770.3,878.2 L774.2,878.5 L778.0,878.8 L781.9,879.1 L785.7,879.3 L789.5,879.4 L793.4,879.9 L797.2,880.0 L801.0,880.0 L804.9,879.8 L808.7,879.7 L812.6,879.5 L816.4,879.3 L820.2,879.1 L824.1,879.0 L827.9,878.8 L831.7,878.8 L835.6,878.7 L839.4,878.8 L843.2,878.9 L847.1,879.0 L850.9,879.3 L854.8,879.6 L858.6,880.1 L862.4,880.6 L866.3,881.2 L870.1,881.8 L873.9,882.2 L877.8,882.7 L881.6,883.1 L885.4,883.5 L889.3,883.9 L893.1,884.3 L897.0,884.8 L900.8,885.2 L904.6,885.7 L908.5,886.2 L912.3,886.8 L916.1,887.4 L920.0,888.0 L923.8,888.8 L927.7,889.5 L931.5,890.3 L935.3,893.1 L939.2,896.9 L943.0,901.0 L943.0,901.0 L939.2,903.0 L935.3,905.0 L931.5,907.5 L927.7,909.4 L923.8,910.5 L920.0,911.5 L916.1,912.5 L912.3,913.4 L908.5,914.2 L904.6,915.0 L900.8,915.8 L897.0,916.5 L893.1,917.2 L889.3,917.9 L885.4,918.6 L881.6,919.2 L877.8,919.9 L873.9,920.5 L870.1,921.2 L866.3,921.9 L862.4,922.6 L858.6,923.2 L854.8,923.5 L850.9,923.8 L847.1,923.8 L843.2,923.7 L839.4,923.5 L835.6,923.2 L831.7,922.7 L827.9,922.2 L824.1,921.5 L820.2,920.8 L816.4,920.1 L812.6,919.3 L808.7,918.5 L804.9,917.7 L801.0,917.0 L797.2,916.3 L793.4,915.6 L789.5,914.5 L785.7,913.8 L781.9,913.6 L778.0,913.5 L774.2,913.6 L770.3,913.6 L766.5,913.7 L762.7,913.7 L758.8,913.8 L755.0,913.8 L751.2,913.9 L747.3,913.9 L743.5,914.0 L739.7,914.0 L735.8,914.1 L732.0,914.1 L728.1,914.1 L724.3,914.2 L720.5,914.2 L716.6,914.2 L712.8,914.2 L709.0,914.2 L705.1,914.2 L701.3,914.2 L697.5,914.2 L693.6,914.2 L689.8,914.2 L685.9,914.1 L682.1,914.1 L678.3,914.1 L674.4,914.1 L670.6,914.0 L666.8,914.0 L662.9,914.0 L659.1,913.9 L655.2,913.9 L651.4,913.9 L647.6,913.8 L643.7,913.8 L639.9,913.7 L636.1,913.7 L632.2,913.7 L628.4,913.6 L624.6,913.6 L620.7,913.5 L616.9,913.5 L613.0,913.4 L609.2,913.4 L605.4,913.3 L601.5,913.2 L597.7,913.2 L593.9,913.1 L590.0,913.1 L586.2,913.0 L582.4,912.9 L578.5,912.8 L574.7,912.7 L570.8,912.6 L567.0,912.5 L563.2,912.4 L559.3,912.2 L555.5,912.1 L551.7,911.9 L547.8,911.6 L544.0,911.4 L540.1,911.2 L536.3,910.9 L532.5,910.6 L528.6,910.4 L524.8,910.2 L521.0,910.0 L517.1,909.8 L513.3,909.6 L509.5,909.4 L505.6,909.2 L501.8,909.0 L497.9,908.8 L494.1,908.6 L490.3,908.4 L486.4,908.2 L482.6,908.0 L478.8,907.8 L474.9,907.5 L471.1,907.3 L467.3,907.1 L463.4,906.9 L459.6,906.8 L455.7,906.6 L451.9,906.4 L448.1,906.3 L444.2,906.1 L440.4,906.0 L436.6,905.8 L432.7,905.7 L428.9,905.5 L425.0,905.4 L421.2,905.3 L417.4,905.1 L413.5,905.0 L409.7,904.9 L405.9,904.7 L402.0,904.6 L398.2,904.4 L394.4,904.3 L390.5,904.1 L386.7,903.9 L382.8,903.7 L379.0,903.5 L375.2,903.3 L371.3,903.0 L367.5,902.7 L363.7,902.5 L359.8,902.2 L356.0,901.9 L352.2,901.5 L348.3,901.2 L344.5,900.9 L340.6,900.6 L336.8,900.2 L333.0,899.9 L329.1,899.6 L325.3,899.2 L321.5,898.9 L317.6,898.5 L313.8,898.2 L309.9,897.8 L306.1,897.5 L302.3,897.2 L298.4,896.9 L294.6,896.6 L290.8,896.3 L286.9,896.0 L283.1,895.5 L279.3,895.0 L275.4,894.5 L271.6,893.9 L267.7,893.4 L263.9,892.8 L260.1,892.3 L256.2,891.7 L252.4,891.2 L248.6,890.6 L244.7,890.0 L240.9,889.4 L237.1,888.9 L233.2,888.3 L229.4,887.8 L225.5,887.3 L221.7,886.8 L217.9,886.4 L214.0,886.1 L210.2,885.8 L206.4,885.7 L202.5,885.6 L198.7,885.4 L194.8,885.3 L191.0,885.2 L187.2,885.1 L183.3,885.1 L179.5,885.0Z" fill="#dfe6f4"/>
<path d="M179.5,885.0 L183.3,883.6 L187.2,882.1 L191.0,880.7 L194.8,879.4 L198.7,878.3 L202.5,877.4 L206.4,876.8 L210.2,876.5 L214.0,876.2 L217.9,876.0 L221.7,875.8 L225.5,875.6 L229.4,875.5 L233.2,875.3 L237.1,875.3 L240.9,875.2 L244.7,875.1 L248.6,875.0 L252.4,874.9 L256.2,874.8 L260.1,874.7 L263.9,874.5 L267.7,874.4 L271.6,874.2 L275.4,874.1 L279.3,874.0 L283.1,873.9 L286.9,873.8 L290.8,873.7 L294.6,873.6 L298.4,873.4 L302.3,873.3 L306.1,873.3 L309.9,873.2 L313.8,873.2 L317.6,873.1 L321.5,873.1 L325.3,873.0 L329.1,873.0 L333.0,873.0 L336.8,873.0 L340.6,872.9 L344.5,872.9 L348.3,872.9 L352.2,872.8 L356.0,872.8 L359.8,872.8 L363.7,872.7 L367.5,872.7 L371.3,872.6 L375.2,872.6 L379.0,872.5 L382.8,872.4 L386.7,872.4 L390.5,872.3 L394.4,872.2 L398.2,872.1 L402.0,872.0 L405.9,871.9 L409.7,871.8 L413.5,871.7 L417.4,871.6 L421.2,871.5 L425.0,871.5 L428.9,871.4 L432.7,871.3 L436.6,871.3 L440.4,871.2 L444.2,871.2 L448.1,871.1 L451.9,871.1 L455.7,871.1 L459.6,871.1 L463.4,871.1 L467.3,871.1 L471.1,871.1 L474.9,871.1 L478.8,871.1 L482.6,871.2 L486.4,871.2 L490.3,871.2 L494.1,871.2 L497.9,871.2 L501.8,871.2 L505.6,871.2 L509.5,871.3 L513.3,871.3 L517.1,871.3 L521.0,871.3 L524.8,871.3 L528.6,871.4 L532.5,871.5 L536.3,871.5 L540.1,871.6 L544.0,871.7 L547.8,871.7 L551.7,871.8 L555.5,871.8 L559.3,871.9 L563.2,871.9 L567.0,872.0 L570.8,872.0 L574.7,872.0 L578.5,872.0 L582.4,872.1 L586.2,872.1 L590.0,872.1 L593.9,872.2 L597.7,872.2 L601.5,872.2 L605.4,872.3 L609.2,872.3 L613.0,872.4 L616.9,872.4 L620.7,872.4 L624.6,872.5 L628.4,872.5 L632.2,872.6 L636.1,872.7 L639.9,872.7 L643.7,872.8 L647.6,872.8 L651.4,872.9 L655.2,873.0 L659.1,873.0 L662.9,873.1 L666.8,873.2 L670.6,873.3 L674.4,873.4 L678.3,873.5 L682.1,873.6 L685.9,873.7 L689.8,873.8 L693.6,873.9 L697.5,874.0 L701.3,874.2 L705.1,874.3 L709.0,874.4 L712.8,874.6 L716.6,874.8 L720.5,875.0 L724.3,875.2 L728.1,875.4 L732.0,875.6 L735.8,875.8 L739.7,876.1 L743.5,876.3 L747.3,876.6 L751.2,876.8 L755.0,877.1 L758.8,877.4 L762.7,877.7 L766.5,877.9 L770.3,878.2 L774.2,878.5 L778.0,878.8 L781.9,879.1 L785.7,879.3 L789.5,879.4 L793.4,879.9 L797.2,880.0 L801.0,880.0 L804.9,879.8 L808.7,879.7 L812.6,879.5 L816.4,879.3 L820.2,879.1 L824.1,879.0 L827.9,878.8 L831.7,878.8 L835.6,878.7 L839.4,878.8 L843.2,878.9 L847.1,879.0 L850.9,879.3 L854.8,879.6 L858.6,880.1 L862.4,880.6 L866.3,881.2 L870.1,881.8 L873.9,882.2 L877.8,882.7 L881.6,883.1 L885.4,883.5 L889.3,883.9 L893.1,884.3 L897.0,884.8 L900.8,885.2 L904.6,885.7 L908.5,886.2 L912.3,886.8 L916.1,887.4 L920.0,888.0 L923.8,888.8 L927.7,889.5 L931.5,890.3 L935.3,893.1 L939.2,896.9 L943.0,901.0 L943.0,901.0 L939.2,898.3 L935.3,895.7 L931.5,894.1 L927.7,893.9 L923.8,893.5 L920.0,893.2 L916.1,892.9 L912.3,892.6 L908.5,892.4 L904.6,892.1 L900.8,891.9 L897.0,891.8 L893.1,891.6 L889.3,891.4 L885.4,891.2 L881.6,891.1 L877.8,890.9 L873.9,890.7 L870.1,890.4 L866.3,890.2 L862.4,889.9 L858.6,889.6 L854.8,889.3 L850.9,889.1 L847.1,888.9 L843.2,888.7 L839.4,888.6 L835.6,888.5 L831.7,888.4 L827.9,888.4 L824.1,888.3 L820.2,888.3 L816.4,888.3 L812.6,888.3 L808.7,888.2 L804.9,888.2 L801.0,888.1 L797.2,888.0 L793.4,887.8 L789.5,887.1 L785.7,886.9 L781.9,886.7 L778.0,886.4 L774.2,886.2 L770.3,886.0 L766.5,885.8 L762.7,885.6 L758.8,885.4 L755.0,885.2 L751.2,885.0 L747.3,884.8 L743.5,884.6 L739.7,884.4 L735.8,884.2 L732.0,884.1 L728.1,883.9 L724.3,883.8 L720.5,883.6 L716.6,883.5 L712.8,883.3 L709.0,883.2 L705.1,883.1 L701.3,883.0 L697.5,882.9 L693.6,882.8 L689.8,882.7 L685.9,882.6 L682.1,882.5 L678.3,882.4 L674.4,882.3 L670.6,882.3 L666.8,882.2 L662.9,882.1 L659.1,882.0 L655.2,882.0 L651.4,881.9 L647.6,881.9 L643.7,881.8 L639.9,881.7 L636.1,881.7 L632.2,881.6 L628.4,881.6 L624.6,881.5 L620.7,881.5 L616.9,881.4 L613.0,881.4 L609.2,881.3 L605.4,881.3 L601.5,881.3 L597.7,881.2 L593.9,881.2 L590.0,881.1 L586.2,881.1 L582.4,881.1 L578.5,881.0 L574.7,881.0 L570.8,880.9 L567.0,880.9 L563.2,880.8 L559.3,880.8 L555.5,880.7 L551.7,880.6 L547.8,880.5 L544.0,880.4 L540.1,880.3 L536.3,880.2 L532.5,880.1 L528.6,880.0 L524.8,879.9 L521.0,879.8 L517.1,879.8 L513.3,879.7 L509.5,879.7 L505.6,879.6 L501.8,879.5 L497.9,879.5 L494.1,879.4 L490.3,879.4 L486.4,879.3 L482.6,879.3 L478.8,879.2 L474.9,879.1 L471.1,879.1 L467.3,879.0 L463.4,879.0 L459.6,878.9 L455.7,878.9 L451.9,878.9 L448.1,878.9 L444.2,878.9 L440.4,878.9 L436.6,878.9 L432.7,878.9 L428.9,878.9 L425.0,878.9 L421.2,879.0 L417.4,879.0 L413.5,879.0 L409.7,879.1 L405.9,879.1 L402.0,879.2 L398.2,879.2 L394.4,879.3 L390.5,879.3 L386.7,879.3 L382.8,879.3 L379.0,879.3 L375.2,879.3 L371.3,879.3 L367.5,879.3 L363.7,879.3 L359.8,879.2 L356.0,879.2 L352.2,879.2 L348.3,879.1 L344.5,879.1 L340.6,879.0 L336.8,879.0 L333.0,878.9 L329.1,878.8 L325.3,878.8 L321.5,878.7 L317.6,878.7 L313.8,878.7 L309.9,878.6 L306.1,878.6 L302.3,878.6 L298.4,878.6 L294.6,878.6 L290.8,878.7 L286.9,878.7 L283.1,878.7 L279.3,878.6 L275.4,878.6 L271.6,878.6 L267.7,878.5 L263.9,878.5 L260.1,878.5 L256.2,878.5 L252.4,878.5 L248.6,878.4 L244.7,878.4 L240.9,878.3 L237.1,878.2 L233.2,878.2 L229.4,878.2 L225.5,878.2 L221.7,878.2 L217.9,878.3 L214.0,878.4 L210.2,878.5 L206.4,878.8 L202.5,879.2 L198.7,879.8 L194.8,880.7 L191.0,881.7 L187.2,882.8 L183.3,883.9 L179.5,885.0Z" fill="#78c2ec"/>
<path d="M179.5,885.0 L183.3,883.9 L187.2,882.8 L191.0,881.7 L194.8,880.7 L198.7,879.8 L202.5,879.2 L206.4,878.8 L210.2,878.5 L214.0,878.4 L217.9,878.3 L221.7,878.2 L225.5,878.2 L229.4,878.2 L233.2,878.2 L237.1,878.2 L240.9,878.3 L244.7,878.4 L248.6,878.4 L252.4,878.5 L256.2,878.5 L260.1,878.5 L263.9,878.5 L267.7,878.5 L271.6,878.6 L275.4,878.6 L279.3,878.6 L283.1,878.7 L286.9,878.7 L290.8,878.7 L294.6,878.6 L298.4,878.6 L302.3,878.6 L306.1,878.6 L309.9,878.6 L313.8,878.7 L317.6,878.7 L321.5,878.7 L325.3,878.8 L329.1,878.8 L333.0,878.9 L336.8,879.0 L340.6,879.0 L344.5,879.1 L348.3,879.1 L352.2,879.2 L356.0,879.2 L359.8,879.2 L363.7,879.3 L367.5,879.3 L371.3,879.3 L375.2,879.3 L379.0,879.3 L382.8,879.3 L386.7,879.3 L390.5,879.3 L394.4,879.3 L398.2,879.2 L402.0,879.2 L405.9,879.1 L409.7,879.1 L413.5,879.0 L417.4,879.0 L421.2,879.0 L425.0,878.9 L428.9,878.9 L432.7,878.9 L436.6,878.9 L440.4,878.9 L444.2,878.9 L448.1,878.9 L451.9,878.9 L455.7,878.9 L459.6,878.9 L463.4,879.0 L467.3,879.0 L471.1,879.1 L474.9,879.1 L478.8,879.2 L482.6,879.3 L486.4,879.3 L490.3,879.4 L494.1,879.4 L497.9,879.5 L501.8,879.5 L505.6,879.6 L509.5,879.7 L513.3,879.7 L517.1,879.8 L521.0,879.8 L524.8,879.9 L528.6,880.0 L532.5,880.1 L536.3,880.2 L540.1,880.3 L544.0,880.4 L547.8,880.5 L551.7,880.6 L555.5,880.7 L559.3,880.8 L563.2,880.8 L567.0,880.9 L570.8,880.9 L574.7,881.0 L578.5,881.0 L582.4,881.1 L586.2,881.1 L590.0,881.1 L593.9,881.2 L597.7,881.2 L601.5,881.3 L605.4,881.3 L609.2,881.3 L613.0,881.4 L616.9,881.4 L620.7,881.5 L624.6,881.5 L628.4,881.6 L632.2,881.6 L636.1,881.7 L639.9,881.7 L643.7,881.8 L647.6,881.9 L651.4,881.9 L655.2,882.0 L659.1,882.0 L662.9,882.1 L666.8,882.2 L670.6,882.3 L674.4,882.3 L678.3,882.4 L682.1,882.5 L685.9,882.6 L689.8,882.7 L693.6,882.8 L697.5,882.9 L701.3,883.0 L705.1,883.1 L709.0,883.2 L712.8,883.3 L716.6,883.5 L720.5,883.6 L724.3,883.8 L728.1,883.9 L732.0,884.1 L735.8,884.2 L739.7,884.4 L743.5,884.6 L747.3,884.8 L751.2,885.0 L755.0,885.2 L758.8,885.4 L762.7,885.6 L766.5,885.8 L770.3,886.0 L774.2,886.2 L778.0,886.4 L781.9,886.7 L785.7,886.9 L789.5,887.1 L793.4,887.8 L797.2,888.0 L801.0,888.1 L804.9,888.2 L808.7,888.2 L812.6,888.3 L816.4,888.3 L820.2,888.3 L824.1,888.3 L827.9,888.4 L831.7,888.4 L835.6,888.5 L839.4,888.6 L843.2,888.7 L847.1,888.9 L850.9,889.1 L854.8,889.3 L858.6,889.6 L862.4,889.9 L866.3,890.2 L870.1,890.4 L873.9,890.7 L877.8,890.9 L881.6,891.1 L885.4,891.2 L889.3,891.4 L893.1,891.6 L897.0,891.8 L900.8,891.9 L904.6,892.1 L908.5,892.4 L912.3,892.6 L916.1,892.9 L920.0,893.2 L923.8,893.5 L927.7,893.9 L931.5,894.1 L935.3,895.7 L939.2,898.3 L943.0,901.0 L943.0,901.0 L939.2,898.9 L935.3,896.9 L931.5,895.8 L927.7,895.9 L923.8,895.7 L920.0,895.6 L916.1,895.4 L912.3,895.3 L908.5,895.2 L904.6,895.1 L900.8,895.0 L897.0,894.9 L893.1,894.9 L889.3,894.8 L885.4,894.7 L881.6,894.7 L877.8,894.6 L873.9,894.5 L870.1,894.4 L866.3,894.2 L862.4,894.1 L858.6,893.9 L854.8,893.7 L850.9,893.5 L847.1,893.4 L843.2,893.2 L839.4,893.1 L835.6,893.0 L831.7,892.8 L827.9,892.7 L824.1,892.6 L820.2,892.5 L816.4,892.4 L812.6,892.2 L808.7,892.1 L804.9,892.0 L801.0,891.8 L797.2,891.6 L793.4,891.3 L789.5,890.7 L785.7,890.3 L781.9,890.1 L778.0,889.9 L774.2,889.7 L770.3,889.5 L766.5,889.4 L762.7,889.2 L758.8,889.0 L755.0,888.8 L751.2,888.7 L747.3,888.5 L743.5,888.4 L739.7,888.2 L735.8,888.1 L732.0,887.9 L728.1,887.8 L724.3,887.6 L720.5,887.5 L716.6,887.4 L712.8,887.3 L709.0,887.2 L705.1,887.1 L701.3,887.0 L697.5,886.9 L693.6,886.8 L689.8,886.7 L685.9,886.6 L682.1,886.5 L678.3,886.5 L674.4,886.4 L670.6,886.3 L666.8,886.3 L662.9,886.2 L659.1,886.1 L655.2,886.1 L651.4,886.0 L647.6,886.0 L643.7,885.9 L639.9,885.8 L636.1,885.8 L632.2,885.7 L628.4,885.7 L624.6,885.6 L620.7,885.6 L616.9,885.5 L613.0,885.5 L609.2,885.5 L605.4,885.4 L601.5,885.4 L597.7,885.3 L593.9,885.3 L590.0,885.2 L586.2,885.2 L582.4,885.1 L578.5,885.1 L574.7,885.0 L570.8,885.0 L567.0,884.9 L563.2,884.9 L559.3,884.8 L555.5,884.7 L551.7,884.6 L547.8,884.5 L544.0,884.4 L540.1,884.2 L536.3,884.1 L532.5,884.0 L528.6,883.9 L524.8,883.8 L521.0,883.7 L517.1,883.6 L513.3,883.5 L509.5,883.5 L505.6,883.4 L501.8,883.3 L497.9,883.2 L494.1,883.2 L490.3,883.1 L486.4,883.0 L482.6,882.9 L478.8,882.9 L474.9,882.8 L471.1,882.7 L467.3,882.6 L463.4,882.6 L459.6,882.5 L455.7,882.5 L451.9,882.4 L448.1,882.4 L444.2,882.4 L440.4,882.3 L436.6,882.3 L432.7,882.3 L428.9,882.3 L425.0,882.3 L421.2,882.3 L417.4,882.4 L413.5,882.4 L409.7,882.4 L405.9,882.4 L402.0,882.4 L398.2,882.4 L394.4,882.5 L390.5,882.5 L386.7,882.5 L382.8,882.5 L379.0,882.4 L375.2,882.4 L371.3,882.4 L367.5,882.3 L363.7,882.2 L359.8,882.2 L356.0,882.1 L352.2,882.0 L348.3,881.9 L344.5,881.9 L340.6,881.8 L336.8,881.7 L333.0,881.6 L329.1,881.5 L325.3,881.4 L321.5,881.3 L317.6,881.2 L313.8,881.2 L309.9,881.1 L306.1,881.0 L302.3,881.0 L298.4,881.0 L294.6,880.9 L290.8,880.9 L286.9,880.9 L283.1,880.8 L279.3,880.7 L275.4,880.6 L271.6,880.5 L267.7,880.4 L263.9,880.4 L260.1,880.3 L256.2,880.2 L252.4,880.1 L248.6,880.0 L244.7,879.9 L240.9,879.7 L237.1,879.6 L233.2,879.5 L229.4,879.4 L225.5,879.3 L221.7,879.3 L217.9,879.3 L214.0,879.4 L210.2,879.5 L206.4,879.7 L202.5,880.0 L198.7,880.5 L194.8,881.3 L191.0,882.1 L187.2,883.1 L183.3,884.1 L179.5,885.0Z" fill="#b8e0f4"/>
<path d="M179.5,885.0 L183.3,884.4 L187.2,883.8 L191.0,883.2 L194.8,882.6 L198.7,882.2 L202.5,881.9 L206.4,881.7 L210.2,881.6 L214.0,881.6 L217.9,881.7 L221.7,881.8 L225.5,882.0 L229.4,882.2 L233.2,882.5 L237.1,882.7 L240.9,883.0 L244.7,883.3 L248.6,883.6 L252.4,883.8 L256.2,884.1 L260.1,884.3 L263.9,884.6 L267.7,884.8 L271.6,885.1 L275.4,885.3 L279.3,885.5 L283.1,885.8 L286.9,886.0 L290.8,886.2 L294.6,886.2 L298.4,886.4 L302.3,886.5 L306.1,886.6 L309.9,886.8 L313.8,886.9 L317.6,887.1 L321.5,887.3 L325.3,887.4 L329.1,887.6 L333.0,887.8 L336.8,888.0 L340.6,888.1 L344.5,888.3 L348.3,888.5 L352.2,888.6 L356.0,888.8 L359.8,888.9 L363.7,889.1 L367.5,889.2 L371.3,889.3 L375.2,889.5 L379.0,889.6 L382.8,889.6 L386.7,889.7 L390.5,889.8 L394.4,889.8 L398.2,889.9 L402.0,889.9 L405.9,890.0 L409.7,890.0 L413.5,890.0 L417.4,890.1 L421.2,890.1 L425.0,890.1 L428.9,890.2 L432.7,890.2 L436.6,890.3 L440.4,890.3 L444.2,890.4 L448.1,890.5 L451.9,890.5 L455.7,890.6 L459.6,890.7 L463.4,890.8 L467.3,890.9 L471.1,891.0 L474.9,891.2 L478.8,891.3 L482.6,891.4 L486.4,891.5 L490.3,891.6 L494.1,891.8 L497.9,891.9 L501.8,892.0 L505.6,892.1 L509.5,892.2 L513.3,892.3 L517.1,892.5 L521.0,892.6 L524.8,892.7 L528.6,892.8 L532.5,893.0 L536.3,893.2 L540.1,893.4 L544.0,893.5 L547.8,893.7 L551.7,893.8 L555.5,894.0 L559.3,894.1 L563.2,894.2 L567.0,894.3 L570.8,894.3 L574.7,894.4 L578.5,894.5 L582.4,894.5 L586.2,894.6 L590.0,894.6 L593.9,894.7 L597.7,894.7 L601.5,894.8 L605.4,894.8 L609.2,894.9 L613.0,894.9 L616.9,895.0 L620.7,895.0 L624.6,895.1 L628.4,895.1 L632.2,895.2 L636.1,895.2 L639.9,895.3 L643.7,895.3 L647.6,895.4 L651.4,895.4 L655.2,895.5 L659.1,895.5 L662.9,895.6 L666.8,895.6 L670.6,895.7 L674.4,895.8 L678.3,895.8 L682.1,895.9 L685.9,895.9 L689.8,896.0 L693.6,896.1 L697.5,896.1 L701.3,896.2 L705.1,896.3 L709.0,896.3 L712.8,896.4 L716.6,896.5 L720.5,896.5 L724.3,896.6 L728.1,896.7 L732.0,896.8 L735.8,896.9 L739.7,896.9 L743.5,897.0 L747.3,897.1 L751.2,897.2 L755.0,897.3 L758.8,897.4 L762.7,897.5 L766.5,897.6 L770.3,897.7 L774.2,897.8 L778.0,897.9 L781.9,898.0 L785.7,898.3 L789.5,898.7 L793.4,899.5 L797.2,900.0 L801.0,900.3 L804.9,900.7 L808.7,901.0 L812.6,901.4 L816.4,901.7 L820.2,902.1 L824.1,902.4 L827.9,902.7 L831.7,902.9 L835.6,903.2 L839.4,903.4 L843.2,903.6 L847.1,903.7 L850.9,903.8 L854.8,903.8 L858.6,903.8 L862.4,903.7 L866.3,903.6 L870.1,903.5 L873.9,903.3 L877.8,903.2 L881.6,903.0 L885.4,902.8 L889.3,902.6 L893.1,902.4 L897.0,902.2 L900.8,902.0 L904.6,901.8 L908.5,901.6 L912.3,901.4 L916.1,901.2 L920.0,901.0 L923.8,900.7 L927.7,900.4 L931.5,899.8 L935.3,899.7 L939.2,900.3 L943.0,901.0 L943.0,901.0 L939.2,901.3 L935.3,901.7 L931.5,902.7 L927.7,903.8 L923.8,904.4 L920.0,905.0 L916.1,905.5 L912.3,905.9 L908.5,906.4 L904.6,906.8 L900.8,907.2 L897.0,907.6 L893.1,908.0 L889.3,908.4 L885.4,908.8 L881.6,909.1 L877.8,909.5 L873.9,909.8 L870.1,910.2 L866.3,910.5 L862.4,910.8 L858.6,911.1 L854.8,911.3 L850.9,911.3 L847.1,911.3 L843.2,911.2 L839.4,911.0 L835.6,910.7 L831.7,910.4 L827.9,910.0 L824.1,909.6 L820.2,909.1 L816.4,908.7 L812.6,908.1 L808.7,907.6 L804.9,907.1 L801.0,906.6 L797.2,906.2 L793.4,905.6 L789.5,904.7 L785.7,904.2 L781.9,903.9 L778.0,903.8 L774.2,903.8 L770.3,903.7 L766.5,903.7 L762.7,903.6 L758.8,903.6 L755.0,903.5 L751.2,903.5 L747.3,903.5 L743.5,903.4 L739.7,903.4 L735.8,903.4 L732.0,903.3 L728.1,903.3 L724.3,903.2 L720.5,903.2 L716.6,903.2 L712.8,903.1 L709.0,903.1 L705.1,903.0 L701.3,903.0 L697.5,903.0 L693.6,902.9 L689.8,902.9 L685.9,902.8 L682.1,902.8 L678.3,902.7 L674.4,902.7 L670.6,902.6 L666.8,902.6 L662.9,902.5 L659.1,902.5 L655.2,902.4 L651.4,902.4 L647.6,902.3 L643.7,902.3 L639.9,902.3 L636.1,902.2 L632.2,902.2 L628.4,902.1 L624.6,902.1 L620.7,902.0 L616.9,902.0 L613.0,901.9 L609.2,901.9 L605.4,901.8 L601.5,901.8 L597.7,901.7 L593.9,901.7 L590.0,901.6 L586.2,901.5 L582.4,901.5 L578.5,901.4 L574.7,901.3 L570.8,901.3 L567.0,901.2 L563.2,901.0 L559.3,900.9 L555.5,900.8 L551.7,900.6 L547.8,900.5 L544.0,900.3 L540.1,900.1 L536.3,899.9 L532.5,899.7 L528.6,899.5 L524.8,899.3 L521.0,899.1 L517.1,899.0 L513.3,898.9 L509.5,898.7 L505.6,898.6 L501.8,898.4 L497.9,898.3 L494.1,898.1 L490.3,898.0 L486.4,897.8 L482.6,897.7 L478.8,897.5 L474.9,897.3 L471.1,897.2 L467.3,897.0 L463.4,896.9 L459.6,896.8 L455.7,896.7 L451.9,896.5 L448.1,896.4 L444.2,896.3 L440.4,896.2 L436.6,896.1 L432.7,896.1 L428.9,896.0 L425.0,895.9 L421.2,895.8 L417.4,895.8 L413.5,895.7 L409.7,895.6 L405.9,895.5 L402.0,895.5 L398.2,895.4 L394.4,895.3 L390.5,895.2 L386.7,895.1 L382.8,895.0 L379.0,894.8 L375.2,894.7 L371.3,894.5 L367.5,894.3 L363.7,894.1 L359.8,893.9 L356.0,893.7 L352.2,893.5 L348.3,893.3 L344.5,893.1 L340.6,892.8 L336.8,892.6 L333.0,892.4 L329.1,892.1 L325.3,891.9 L321.5,891.6 L317.6,891.4 L313.8,891.2 L309.9,890.9 L306.1,890.7 L302.3,890.5 L298.4,890.3 L294.6,890.2 L290.8,890.0 L286.9,889.8 L283.1,889.5 L279.3,889.1 L275.4,888.8 L271.6,888.4 L267.7,888.1 L263.9,887.7 L260.1,887.3 L256.2,887.0 L252.4,886.6 L248.6,886.2 L244.7,885.8 L240.9,885.4 L237.1,885.1 L233.2,884.7 L229.4,884.3 L225.5,884.0 L221.7,883.7 L217.9,883.5 L214.0,883.3 L210.2,883.2 L206.4,883.2 L202.5,883.3 L198.7,883.4 L194.8,883.6 L191.0,883.9 L187.2,884.3 L183.3,884.7 L179.5,885.0Z" fill="#dcc8e4"/>
<path d="M179.5,885.0 L183.3,884.7 L187.2,884.3 L191.0,883.9 L194.8,883.6 L198.7,883.4 L202.5,883.3 L206.4,883.2 L210.2,883.2 L214.0,883.3 L217.9,883.5 L221.7,883.7 L225.5,884.0 L229.4,884.3 L233.2,884.7 L237.1,885.1 L240.9,885.4 L244.7,885.8 L248.6,886.2 L252.4,886.6 L256.2,887.0 L260.1,887.3 L263.9,887.7 L267.7,888.1 L271.6,888.4 L275.4,888.8 L279.3,889.1 L283.1,889.5 L286.9,889.8 L290.8,890.0 L294.6,890.2 L298.4,890.3 L302.3,890.5 L306.1,890.7 L309.9,890.9 L313.8,891.2 L317.6,891.4 L321.5,891.6 L325.3,891.9 L329.1,892.1 L333.0,892.4 L336.8,892.6 L340.6,892.8 L344.5,893.1 L348.3,893.3 L352.2,893.5 L356.0,893.7 L359.8,893.9 L363.7,894.1 L367.5,894.3 L371.3,894.5 L375.2,894.7 L379.0,894.8 L382.8,895.0 L386.7,895.1 L390.5,895.2 L394.4,895.3 L398.2,895.4 L402.0,895.5 L405.9,895.5 L409.7,895.6 L413.5,895.7 L417.4,895.8 L421.2,895.8 L425.0,895.9 L428.9,896.0 L432.7,896.1 L436.6,896.1 L440.4,896.2 L444.2,896.3 L448.1,896.4 L451.9,896.5 L455.7,896.7 L459.6,896.8 L463.4,896.9 L467.3,897.0 L471.1,897.2 L474.9,897.3 L478.8,897.5 L482.6,897.7 L486.4,897.8 L490.3,898.0 L494.1,898.1 L497.9,898.3 L501.8,898.4 L505.6,898.6 L509.5,898.7 L513.3,898.9 L517.1,899.0 L521.0,899.1 L524.8,899.3 L528.6,899.5 L532.5,899.7 L536.3,899.9 L540.1,900.1 L544.0,900.3 L547.8,900.5 L551.7,900.6 L555.5,900.8 L559.3,900.9 L563.2,901.0 L567.0,901.2 L570.8,901.3 L574.7,901.3 L578.5,901.4 L582.4,901.5 L586.2,901.5 L590.0,901.6 L593.9,901.7 L597.7,901.7 L601.5,901.8 L605.4,901.8 L609.2,901.9 L613.0,901.9 L616.9,902.0 L620.7,902.0 L624.6,902.1 L628.4,902.1 L632.2,902.2 L636.1,902.2 L639.9,902.3 L643.7,902.3 L647.6,902.3 L651.4,902.4 L655.2,902.4 L659.1,902.5 L662.9,902.5 L666.8,902.6 L670.6,902.6 L674.4,902.7 L678.3,902.7 L682.1,902.8 L685.9,902.8 L689.8,902.9 L693.6,902.9 L697.5,903.0 L701.3,903.0 L705.1,903.0 L709.0,903.1 L712.8,903.1 L716.6,903.2 L720.5,903.2 L724.3,903.2 L728.1,903.3 L732.0,903.3 L735.8,903.4 L739.7,903.4 L743.5,903.4 L747.3,903.5 L751.2,903.5 L755.0,903.5 L758.8,903.6 L762.7,903.6 L766.5,903.7 L770.3,903.7 L774.2,903.8 L778.0,903.8 L781.9,903.9 L785.7,904.2 L789.5,904.7 L793.4,905.6 L797.2,906.2 L801.0,906.6 L804.9,907.1 L808.7,907.6 L812.6,908.1 L816.4,908.7 L820.2,909.1 L824.1,909.6 L827.9,910.0 L831.7,910.4 L835.6,910.7 L839.4,911.0 L843.2,911.2 L847.1,911.3 L850.9,911.3 L854.8,911.3 L858.6,911.1 L862.4,910.8 L866.3,910.5 L870.1,910.2 L873.9,909.8 L877.8,909.5 L881.6,909.1 L885.4,908.8 L889.3,908.4 L893.1,908.0 L897.0,907.6 L900.8,907.2 L904.6,906.8 L908.5,906.4 L912.3,905.9 L916.1,905.5 L920.0,905.0 L923.8,904.4 L927.7,903.8 L931.5,902.7 L935.3,901.7 L939.2,901.3 L943.0,901.0 L943.0,901.0 L939.2,903.0 L935.3,905.0 L931.5,907.5 L927.7,909.4 L923.8,910.5 L920.0,911.5 L916.1,912.5 L912.3,913.4 L908.5,914.2 L904.6,915.0 L900.8,915.8 L897.0,916.5 L893.1,917.2 L889.3,917.9 L885.4,918.6 L881.6,919.2 L877.8,919.9 L873.9,920.5 L870.1,921.2 L866.3,921.9 L862.4,922.6 L858.6,923.2 L854.8,923.5 L850.9,923.8 L847.1,923.8 L843.2,923.7 L839.4,923.5 L835.6,923.2 L831.7,922.7 L827.9,922.2 L824.1,921.5 L820.2,920.8 L816.4,920.1 L812.6,919.3 L808.7,918.5 L804.9,917.7 L801.0,917.0 L797.2,916.3 L793.4,915.6 L789.5,914.5 L785.7,913.8 L781.9,913.6 L778.0,913.5 L774.2,913.6 L770.3,913.6 L766.5,913.7 L762.7,913.7 L758.8,913.8 L755.0,913.8 L751.2,913.9 L747.3,913.9 L743.5,914.0 L739.7,914.0 L735.8,914.1 L732.0,914.1 L728.1,914.1 L724.3,914.2 L720.5,914.2 L716.6,914.2 L712.8,914.2 L709.0,914.2 L705.1,914.2 L701.3,914.2 L697.5,914.2 L693.6,914.2 L689.8,914.2 L685.9,914.1 L682.1,914.1 L678.3,914.1 L674.4,914.1 L670.6,914.0 L666.8,914.0 L662.9,914.0 L659.1,913.9 L655.2,913.9 L651.4,913.9 L647.6,913.8 L643.7,913.8 L639.9,913.7 L636.1,913.7 L632.2,913.7 L628.4,913.6 L624.6,913.6 L620.7,913.5 L616.9,913.5 L613.0,913.4 L609.2,913.4 L605.4,913.3 L601.5,913.2 L597.7,913.2 L593.9,913.1 L590.0,913.1 L586.2,913.0 L582.4,912.9 L578.5,912.8 L574.7,912.7 L570.8,912.6 L567.0,912.5 L563.2,912.4 L559.3,912.2 L555.5,912.1 L551.7,911.9 L547.8,911.6 L544.0,911.4 L540.1,911.2 L536.3,910.9 L532.5,910.6 L528.6,910.4 L524.8,910.2 L521.0,910.0 L517.1,909.8 L513.3,909.6 L509.5,909.4 L505.6,909.2 L501.8,909.0 L497.9,908.8 L494.1,908.6 L490.3,908.4 L486.4,908.2 L482.6,908.0 L478.8,907.8 L474.9,907.5 L471.1,907.3 L467.3,907.1 L463.4,906.9 L459.6,906.8 L455.7,906.6 L451.9,906.4 L448.1,906.3 L444.2,906.1 L440.4,906.0 L436.6,905.8 L432.7,905.7 L428.9,905.5 L425.0,905.4 L421.2,905.3 L417.4,905.1 L413.5,905.0 L409.7,904.9 L405.9,904.7 L402.0,904.6 L398.2,904.4 L394.4,904.3 L390.5,904.1 L386.7,903.9 L382.8,903.7 L379.0,903.5 L375.2,903.3 L371.3,903.0 L367.5,902.7 L363.7,902.5 L359.8,902.2 L356.0,901.9 L352.2,901.5 L348.3,901.2 L344.5,900.9 L340.6,900.6 L336.8,900.2 L333.0,899.9 L329.1,899.6 L325.3,899.2 L321.5,898.9 L317.6,898.5 L313.8,898.2 L309.9,897.8 L306.1,897.5 L302.3,897.2 L298.4,896.9 L294.6,896.6 L290.8,896.3 L286.9,896.0 L283.1,895.5 L279.3,895.0 L275.4,894.5 L271.6,893.9 L267.7,893.4 L263.9,892.8 L260.1,892.3 L256.2,891.7 L252.4,891.2 L248.6,890.6 L244.7,890.0 L240.9,889.4 L237.1,888.9 L233.2,888.3 L229.4,887.8 L225.5,887.3 L221.7,886.8 L217.9,886.4 L214.0,886.1 L210.2,885.8 L206.4,885.7 L202.5,885.6 L198.7,885.4 L194.8,885.3 L191.0,885.2 L187.2,885.1 L183.3,885.1 L179.5,885.0Z" fill="#9a78d4"/>
<path d="M179.5,885.0 L183.3,885.1 L187.2,885.1 L191.0,885.2 L194.8,885.3 L198.7,885.4 L202.5,885.6 L206.4,885.7 L210.2,885.8 L214.0,886.1 L217.9,886.4 L221.7,886.8 L225.5,887.3 L229.4,887.8 L233.2,888.3 L237.1,888.9 L240.9,889.4 L244.7,890.0 L248.6,890.6 L252.4,891.2 L256.2,891.7 L260.1,892.3 L263.9,892.8 L267.7,893.4 L271.6,893.9 L275.4,894.5 L279.3,895.0 L283.1,895.5 L286.9,896.0 L290.8,896.3 L294.6,896.6 L298.4,896.9 L302.3,897.2 L306.1,897.5 L309.9,897.8 L313.8,898.2 L317.6,898.5 L321.5,898.9 L325.3,899.2 L329.1,899.6 L333.0,899.9 L336.8,900.2 L340.6,900.6 L344.5,900.9 L348.3,901.2 L352.2,901.5 L356.0,901.9 L359.8,902.2 L363.7,902.5 L367.5,902.7 L371.3,903.0 L375.2,903.3 L379.0,903.5 L382.8,903.7 L386.7,903.9 L390.5,904.1 L394.4,904.3 L398.2,904.4 L402.0,904.6 L405.9,904.7 L409.7,904.9 L413.5,905.0 L417.4,905.1 L421.2,905.3 L425.0,905.4 L428.9,905.5 L432.7,905.7 L436.6,905.8 L440.4,906.0 L444.2,906.1 L448.1,906.3 L451.9,906.4 L455.7,906.6 L459.6,906.8 L463.4,906.9 L467.3,907.1 L471.1,907.3 L474.9,907.5 L478.8,907.8 L482.6,908.0 L486.4,908.2 L490.3,908.4 L494.1,908.6 L497.9,908.8 L501.8,909.0 L505.6,909.2 L509.5,909.4 L513.3,909.6 L517.1,909.8 L521.0,910.0 L524.8,910.2 L528.6,910.4 L532.5,910.6 L536.3,910.9 L540.1,911.2 L544.0,911.4 L547.8,911.6 L551.7,911.9 L555.5,912.1 L559.3,912.2 L563.2,912.4 L567.0,912.5 L570.8,912.6 L574.7,912.7 L578.5,912.8 L582.4,912.9 L586.2,913.0 L590.0,913.1 L593.9,913.1 L597.7,913.2 L601.5,913.2 L605.4,913.3 L609.2,913.4 L613.0,913.4 L616.9,913.5 L620.7,913.5 L624.6,913.6 L628.4,913.6 L632.2,913.7 L636.1,913.7 L639.9,913.7 L643.7,913.8 L647.6,913.8 L651.4,913.9 L655.2,913.9 L659.1,913.9 L662.9,914.0 L666.8,914.0 L670.6,914.0 L674.4,914.1 L678.3,914.1 L682.1,914.1 L685.9,914.1 L689.8,914.2 L693.6,914.2 L697.5,914.2 L701.3,914.2 L705.1,914.2 L709.0,914.2 L712.8,914.2 L716.6,914.2 L720.5,914.2 L724.3,914.2 L728.1,914.1 L732.0,914.1 L735.8,914.1 L739.7,914.0 L743.5,914.0 L747.3,913.9 L751.2,913.9 L755.0,913.8 L758.8,913.8 L762.7,913.7 L766.5,913.7 L770.3,913.6 L774.2,913.6 L778.0,913.5 L781.9,913.6 L785.7,913.8 L789.5,914.5 L793.4,915.6 L797.2,916.3 L801.0,917.0 L804.9,917.7 L808.7,918.5 L812.6,919.3 L816.4,920.1 L820.2,920.8 L824.1,921.5 L827.9,922.2 L831.7,922.7 L835.6,923.2 L839.4,923.5 L843.2,923.7 L847.1,923.8 L850.9,923.8 L854.8,923.5 L858.6,923.2 L862.4,922.6 L866.3,921.9 L870.1,921.2 L873.9,920.5 L877.8,919.9 L881.6,919.2 L885.4,918.6 L889.3,917.9 L893.1,917.2 L897.0,916.5 L900.8,915.8 L904.6,915.0 L908.5,914.2 L912.3,913.4 L916.1,912.5 L920.0,911.5 L923.8,910.5 L927.7,909.4 L931.5,907.5 L935.3,905.0 L939.2,903.0 L943.0,901.0 L943.0,901.0 L939.2,903.2 L935.3,905.4 L931.5,908.0 L927.7,910.0 L923.8,911.3 L920.0,912.4 L916.1,913.4 L912.3,914.4 L908.5,915.4 L904.6,916.3 L900.8,917.3 L897.0,918.1 L893.1,919.0 L889.3,919.9 L885.4,920.7 L881.6,921.5 L877.8,922.3 L873.9,923.1 L870.1,923.9 L866.3,924.7 L862.4,925.5 L858.6,926.2 L854.8,926.9 L850.9,927.5 L847.1,928.0 L843.2,928.5 L839.4,928.9 L835.6,929.2 L831.7,929.5 L827.9,929.8 L824.1,930.0 L820.2,930.2 L816.4,930.4 L812.6,930.5 L808.7,930.7 L804.9,930.8 L801.0,930.9 L797.2,931.1 L793.4,931.1 L789.5,930.5 L785.7,930.2 L781.9,930.2 L778.0,930.4 L774.2,930.5 L770.3,930.7 L766.5,931.0 L762.7,931.2 L758.8,931.4 L755.0,931.6 L751.2,931.8 L747.3,932.0 L743.5,932.2 L739.7,932.4 L735.8,932.6 L732.0,932.7 L728.1,932.9 L724.3,933.1 L720.5,933.2 L716.6,933.3 L712.8,933.4 L709.0,933.5 L705.1,933.6 L701.3,933.7 L697.5,933.7 L693.6,933.8 L689.8,933.8 L685.9,933.9 L682.1,933.9 L678.3,933.9 L674.4,933.9 L670.6,933.9 L666.8,933.9 L662.9,933.9 L659.1,933.9 L655.2,933.9 L651.4,933.9 L647.6,933.9 L643.7,933.9 L639.9,933.9 L636.1,933.8 L632.2,933.8 L628.4,933.8 L624.6,933.8 L620.7,933.7 L616.9,933.7 L613.0,933.6 L609.2,933.6 L605.4,933.5 L601.5,933.5 L597.7,933.4 L593.9,933.4 L590.0,933.3 L586.2,933.2 L582.4,933.2 L578.5,933.1 L574.7,933.0 L570.8,932.8 L567.0,932.7 L563.2,932.5 L559.3,932.3 L555.5,932.1 L551.7,931.8 L547.8,931.6 L544.0,931.3 L540.1,930.9 L536.3,930.6 L532.5,930.3 L528.6,929.9 L524.8,929.6 L521.0,929.4 L517.1,929.1 L513.3,928.8 L509.5,928.6 L505.6,928.3 L501.8,928.0 L497.9,927.7 L494.1,927.4 L490.3,927.2 L486.4,926.9 L482.6,926.6 L478.8,926.3 L474.9,926.0 L471.1,925.7 L467.3,925.4 L463.4,925.2 L459.6,924.9 L455.7,924.6 L451.9,924.4 L448.1,924.2 L444.2,923.9 L440.4,923.7 L436.6,923.4 L432.7,923.2 L428.9,923.0 L425.0,922.8 L421.2,922.5 L417.4,922.3 L413.5,922.1 L409.7,921.8 L405.9,921.6 L402.0,921.3 L398.2,921.0 L394.4,920.7 L390.5,920.4 L386.7,920.1 L382.8,919.8 L379.0,919.4 L375.2,919.1 L371.3,918.7 L367.5,918.2 L363.7,917.8 L359.8,917.3 L356.0,916.9 L352.2,916.4 L348.3,915.9 L344.5,915.4 L340.6,914.9 L336.8,914.3 L333.0,913.8 L329.1,913.3 L325.3,912.7 L321.5,912.2 L317.6,911.7 L313.8,911.1 L309.9,910.6 L306.1,910.1 L302.3,909.6 L298.4,909.1 L294.6,908.6 L290.8,908.1 L286.9,907.5 L283.1,906.8 L279.3,906.0 L275.4,905.2 L271.6,904.3 L267.7,903.5 L263.9,902.6 L260.1,901.7 L256.2,900.8 L252.4,900.0 L248.6,899.1 L244.7,898.2 L240.9,897.3 L237.1,896.4 L233.2,895.6 L229.4,894.7 L225.5,893.9 L221.7,893.1 L217.9,892.4 L214.0,891.8 L210.2,891.3 L206.4,890.8 L202.5,890.3 L198.7,889.6 L194.8,888.8 L191.0,887.9 L187.2,886.9 L183.3,885.9 L179.5,885.0Z" fill="#f5eaf5"/>
<path d="M179.5,885.0 L183.3,885.9 L187.2,886.9 L191.0,887.9 L194.8,888.8 L198.7,889.6 L202.5,890.3 L206.4,890.8 L210.2,891.3 L214.0,891.8 L217.9,892.4 L221.7,893.1 L225.5,893.9 L229.4,894.7 L233.2,895.6 L237.1,896.4 L240.9,897.3 L244.7,898.2 L248.6,899.1 L252.4,900.0 L256.2,900.8 L260.1,901.7 L263.9,902.6 L267.7,903.5 L271.6,904.3 L275.4,905.2 L279.3,906.0 L283.1,906.8 L286.9,907.5 L290.8,908.1 L294.6,908.6 L298.4,909.1 L302.3,909.6 L306.1,910.1 L309.9,910.6 L313.8,911.1 L317.6,911.7 L321.5,912.2 L325.3,912.7 L329.1,913.3 L333.0,913.8 L336.8,914.3 L340.6,914.9 L344.5,915.4 L348.3,915.9 L352.2,916.4 L356.0,916.9 L359.8,917.3 L363.7,917.8 L367.5,918.2 L371.3,918.7 L375.2,919.1 L379.0,919.4 L382.8,919.8 L386.7,920.1 L390.5,920.4 L394.4,920.7 L398.2,921.0 L402.0,921.3 L405.9,921.6 L409.7,921.8 L413.5,922.1 L417.4,922.3 L421.2,922.5 L425.0,922.8 L428.9,923.0 L432.7,923.2 L436.6,923.4 L440.4,923.7 L444.2,923.9 L448.1,924.2 L451.9,924.4 L455.7,924.6 L459.6,924.9 L463.4,925.2 L467.3,925.4 L471.1,925.7 L474.9,926.0 L478.8,926.3 L482.6,926.6 L486.4,926.9 L490.3,927.2 L494.1,927.4 L497.9,927.7 L501.8,928.0 L505.6,928.3 L509.5,928.6 L513.3,928.8 L517.1,929.1 L521.0,929.4 L524.8,929.6 L528.6,929.9 L532.5,930.3 L536.3,930.6 L540.1,930.9 L544.0,931.3 L547.8,931.6 L551.7,931.8 L555.5,932.1 L559.3,932.3 L563.2,932.5 L567.0,932.7 L570.8,932.8 L574.7,933.0 L578.5,933.1 L582.4,933.2 L586.2,933.2 L590.0,933.3 L593.9,933.4 L597.7,933.4 L601.5,933.5 L605.4,933.5 L609.2,933.6 L613.0,933.6 L616.9,933.7 L620.7,933.7 L624.6,933.8 L628.4,933.8 L632.2,933.8 L636.1,933.8 L639.9,933.9 L643.7,933.9 L647.6,933.9 L651.4,933.9 L655.2,933.9 L659.1,933.9 L662.9,933.9 L666.8,933.9 L670.6,933.9 L674.4,933.9 L678.3,933.9 L682.1,933.9 L685.9,933.9 L689.8,933.8 L693.6,933.8 L697.5,933.7 L701.3,933.7 L705.1,933.6 L709.0,933.5 L712.8,933.4 L716.6,933.3 L720.5,933.2 L724.3,933.1 L728.1,932.9 L732.0,932.7 L735.8,932.6 L739.7,932.4 L743.5,932.2 L747.3,932.0 L751.2,931.8 L755.0,931.6 L758.8,931.4 L762.7,931.2 L766.5,931.0 L770.3,930.7 L774.2,930.5 L778.0,930.4 L781.9,930.2 L785.7,930.2 L789.5,930.5 L793.4,931.1 L797.2,931.1 L801.0,930.9 L804.9,930.8 L808.7,930.7 L812.6,930.5 L816.4,930.4 L820.2,930.2 L824.1,930.0 L827.9,929.8 L831.7,929.5 L835.6,929.2 L839.4,928.9 L843.2,928.5 L847.1,928.0 L850.9,927.5 L854.8,926.9 L858.6,926.2 L862.4,925.5 L866.3,924.7 L870.1,923.9 L873.9,923.1 L877.8,922.3 L881.6,921.5 L885.4,920.7 L889.3,919.9 L893.1,919.0 L897.0,918.1 L900.8,917.3 L904.6,916.3 L908.5,915.4 L912.3,914.4 L916.1,913.4 L920.0,912.4 L923.8,911.3 L927.7,910.0 L931.5,908.0 L935.3,905.4 L939.2,903.2 L943.0,901.0 L943.0,901.0 L939.2,903.7 L935.3,906.4 L931.5,909.4 L927.7,911.7 L923.8,913.1 L920.0,914.4 L916.1,915.6 L912.3,916.8 L908.5,917.9 L904.6,919.0 L900.8,920.1 L897.0,921.2 L893.1,922.2 L889.3,923.2 L885.4,924.2 L881.6,925.1 L877.8,926.1 L873.9,927.0 L870.1,928.0 L866.3,928.9 L862.4,929.9 L858.6,930.7 L854.8,931.5 L850.9,932.2 L847.1,932.9 L843.2,933.5 L839.4,934.0 L835.6,934.5 L831.7,934.9 L827.9,935.3 L824.1,935.6 L820.2,936.0 L816.4,936.2 L812.6,936.5 L808.7,936.8 L804.9,937.0 L801.0,937.3 L797.2,937.5 L793.4,937.6 L789.5,937.1 L785.7,936.9 L781.9,936.9 L778.0,937.1 L774.2,937.3 L770.3,937.6 L766.5,937.9 L762.7,938.1 L758.8,938.4 L755.0,938.7 L751.2,939.0 L747.3,939.2 L743.5,939.5 L739.7,939.7 L735.8,940.0 L732.0,940.2 L728.1,940.4 L724.3,940.6 L720.5,940.8 L716.6,941.0 L712.8,941.1 L709.0,941.3 L705.1,941.4 L701.3,941.5 L697.5,941.6 L693.6,941.6 L689.8,941.7 L685.9,941.7 L682.1,941.8 L678.3,941.8 L674.4,941.9 L670.6,941.9 L666.8,941.9 L662.9,941.9 L659.1,941.9 L655.2,941.9 L651.4,941.9 L647.6,941.9 L643.7,941.9 L639.9,941.9 L636.1,941.9 L632.2,941.9 L628.4,941.9 L624.6,941.8 L620.7,941.8 L616.9,941.8 L613.0,941.7 L609.2,941.7 L605.4,941.6 L601.5,941.6 L597.7,941.5 L593.9,941.5 L590.0,941.4 L586.2,941.3 L582.4,941.2 L578.5,941.2 L574.7,941.0 L570.8,940.9 L567.0,940.7 L563.2,940.6 L559.3,940.4 L555.5,940.1 L551.7,939.8 L547.8,939.5 L544.0,939.2 L540.1,938.9 L536.3,938.5 L532.5,938.1 L528.6,937.8 L524.8,937.4 L521.0,937.1 L517.1,936.8 L513.3,936.5 L509.5,936.2 L505.6,935.9 L501.8,935.6 L497.9,935.3 L494.1,935.0 L490.3,934.7 L486.4,934.3 L482.6,934.0 L478.8,933.7 L474.9,933.4 L471.1,933.1 L467.3,932.7 L463.4,932.4 L459.6,932.1 L455.7,931.9 L451.9,931.6 L448.1,931.3 L444.2,931.0 L440.4,930.8 L436.6,930.5 L432.7,930.2 L428.9,930.0 L425.0,929.7 L421.2,929.4 L417.4,929.2 L413.5,928.9 L409.7,928.6 L405.9,928.3 L402.0,928.0 L398.2,927.7 L394.4,927.3 L390.5,927.0 L386.7,926.6 L382.8,926.2 L379.0,925.8 L375.2,925.4 L371.3,924.9 L367.5,924.4 L363.7,923.9 L359.8,923.4 L356.0,922.8 L352.2,922.3 L348.3,921.7 L344.5,921.2 L340.6,920.6 L336.8,920.0 L333.0,919.4 L329.1,918.8 L325.3,918.2 L321.5,917.5 L317.6,916.9 L313.8,916.3 L309.9,915.7 L306.1,915.1 L302.3,914.5 L298.4,913.9 L294.6,913.3 L290.8,912.8 L286.9,912.1 L283.1,911.2 L279.3,910.3 L275.4,909.4 L271.6,908.4 L267.7,907.4 L263.9,906.4 L260.1,905.4 L256.2,904.4 L252.4,903.4 L248.6,902.4 L244.7,901.4 L240.9,900.4 L237.1,899.4 L233.2,898.3 L229.4,897.4 L225.5,896.4 L221.7,895.5 L217.9,894.6 L214.0,893.9 L210.2,893.4 L206.4,892.8 L202.5,892.1 L198.7,891.2 L194.8,890.1 L191.0,888.9 L187.2,887.6 L183.3,886.3 L179.5,885.0Z" fill="#f2a6d6"/>
<path d="M179.5,885.0 L183.3,886.3 L187.2,887.6 L191.0,888.9 L194.8,890.1 L198.7,891.2 L202.5,892.1 L206.4,892.8 L210.2,893.4 L214.0,893.9 L217.9,894.6 L221.7,895.5 L225.5,896.4 L229.4,897.4 L233.2,898.3 L237.1,899.4 L240.9,900.4 L244.7,901.4 L248.6,902.4 L252.4,903.4 L256.2,904.4 L260.1,905.4 L263.9,906.4 L267.7,907.4 L271.6,908.4 L275.4,909.4 L279.3,910.3 L283.1,911.2 L286.9,912.1 L290.8,912.8 L294.6,913.3 L298.4,913.9 L302.3,914.5 L306.1,915.1 L309.9,915.7 L313.8,916.3 L317.6,916.9 L321.5,917.5 L325.3,918.2 L329.1,918.8 L333.0,919.4 L336.8,920.0 L340.6,920.6 L344.5,921.2 L348.3,921.7 L352.2,922.3 L356.0,922.8 L359.8,923.4 L363.7,923.9 L367.5,924.4 L371.3,924.9 L375.2,925.4 L379.0,925.8 L382.8,926.2 L386.7,926.6 L390.5,927.0 L394.4,927.3 L398.2,927.7 L402.0,928.0 L405.9,928.3 L409.7,928.6 L413.5,928.9 L417.4,929.2 L421.2,929.4 L425.0,929.7 L428.9,930.0 L432.7,930.2 L436.6,930.5 L440.4,930.8 L444.2,931.0 L448.1,931.3 L451.9,931.6 L455.7,931.9 L459.6,932.1 L463.4,932.4 L467.3,932.7 L471.1,933.1 L474.9,933.4 L478.8,933.7 L482.6,934.0 L486.4,934.3 L490.3,934.7 L494.1,935.0 L497.9,935.3 L501.8,935.6 L505.6,935.9 L509.5,936.2 L513.3,936.5 L517.1,936.8 L521.0,937.1 L524.8,937.4 L528.6,937.8 L532.5,938.1 L536.3,938.5 L540.1,938.9 L544.0,939.2 L547.8,939.5 L551.7,939.8 L555.5,940.1 L559.3,940.4 L563.2,940.6 L567.0,940.7 L570.8,940.9 L574.7,941.0 L578.5,941.2 L582.4,941.2 L586.2,941.3 L590.0,941.4 L593.9,941.5 L597.7,941.5 L601.5,941.6 L605.4,941.6 L609.2,941.7 L613.0,941.7 L616.9,941.8 L620.7,941.8 L624.6,941.8 L628.4,941.9 L632.2,941.9 L636.1,941.9 L639.9,941.9 L643.7,941.9 L647.6,941.9 L651.4,941.9 L655.2,941.9 L659.1,941.9 L662.9,941.9 L666.8,941.9 L670.6,941.9 L674.4,941.9 L678.3,941.8 L682.1,941.8 L685.9,941.7 L689.8,941.7 L693.6,941.6 L697.5,941.6 L701.3,941.5 L705.1,941.4 L709.0,941.3 L712.8,941.1 L716.6,941.0 L720.5,940.8 L724.3,940.6 L728.1,940.4 L732.0,940.2 L735.8,940.0 L739.7,939.7 L743.5,939.5 L747.3,939.2 L751.2,939.0 L755.0,938.7 L758.8,938.4 L762.7,938.1 L766.5,937.9 L770.3,937.6 L774.2,937.3 L778.0,937.1 L781.9,936.9 L785.7,936.9 L789.5,937.1 L793.4,937.6 L797.2,937.5 L801.0,937.3 L804.9,937.0 L808.7,936.8 L812.6,936.5 L816.4,936.2 L820.2,936.0 L824.1,935.6 L827.9,935.3 L831.7,934.9 L835.6,934.5 L839.4,934.0 L843.2,933.5 L847.1,932.9 L850.9,932.2 L854.8,931.5 L858.6,930.7 L862.4,929.9 L866.3,928.9 L870.1,928.0 L873.9,927.0 L877.8,926.1 L881.6,925.1 L885.4,924.2 L889.3,923.2 L893.1,922.2 L897.0,921.2 L900.8,920.1 L904.6,919.0 L908.5,917.9 L912.3,916.8 L916.1,915.6 L920.0,914.4 L923.8,913.1 L927.7,911.7 L931.5,909.4 L935.3,906.4 L939.2,903.7 L943.0,901.0 L943.0,901.0 L939.2,903.8 L935.3,906.5 L931.5,909.7 L927.7,912.1 L923.8,913.5 L920.0,914.9 L916.1,916.2 L912.3,917.4 L908.5,918.7 L904.6,919.9 L900.8,921.1 L897.0,922.3 L893.1,923.4 L889.3,924.6 L885.4,925.7 L881.6,926.8 L877.8,927.9 L873.9,928.9 L870.1,930.0 L866.3,931.0 L862.4,932.0 L858.6,933.0 L854.8,933.9 L850.9,934.8 L847.1,935.6 L843.2,936.4 L839.4,937.1 L835.6,937.8 L831.7,938.5 L827.9,939.1 L824.1,939.7 L820.2,940.3 L816.4,940.9 L812.6,941.5 L808.7,942.0 L804.9,942.6 L801.0,943.1 L797.2,943.6 L793.4,943.9 L789.5,943.6 L785.7,943.4 L781.9,943.6 L778.0,943.8 L774.2,944.1 L770.3,944.4 L766.5,944.8 L762.7,945.1 L758.8,945.5 L755.0,945.8 L751.2,946.2 L747.3,946.5 L743.5,946.8 L739.7,947.1 L735.8,947.4 L732.0,947.7 L728.1,948.0 L724.3,948.3 L720.5,948.5 L716.6,948.7 L712.8,948.9 L709.0,949.1 L705.1,949.3 L701.3,949.4 L697.5,949.5 L693.6,949.6 L689.8,949.7 L685.9,949.8 L682.1,949.9 L678.3,950.0 L674.4,950.0 L670.6,950.1 L666.8,950.1 L662.9,950.2 L659.1,950.2 L655.2,950.3 L651.4,950.3 L647.6,950.3 L643.7,950.4 L639.9,950.4 L636.1,950.4 L632.2,950.4 L628.4,950.4 L624.6,950.4 L620.7,950.4 L616.9,950.4 L613.0,950.4 L609.2,950.4 L605.4,950.3 L601.5,950.3 L597.7,950.3 L593.9,950.3 L590.0,950.2 L586.2,950.2 L582.4,950.1 L578.5,950.0 L574.7,949.9 L570.8,949.8 L567.0,949.7 L563.2,949.5 L559.3,949.3 L555.5,949.0 L551.7,948.8 L547.8,948.5 L544.0,948.1 L540.1,947.8 L536.3,947.4 L532.5,947.0 L528.6,946.6 L524.8,946.3 L521.0,946.0 L517.1,945.7 L513.3,945.4 L509.5,945.0 L505.6,944.7 L501.8,944.4 L497.9,944.1 L494.1,943.8 L490.3,943.4 L486.4,943.1 L482.6,942.7 L478.8,942.4 L474.9,942.0 L471.1,941.7 L467.3,941.4 L463.4,941.1 L459.6,940.7 L455.7,940.4 L451.9,940.1 L448.1,939.8 L444.2,939.6 L440.4,939.3 L436.6,939.0 L432.7,938.7 L428.9,938.4 L425.0,938.1 L421.2,937.8 L417.4,937.5 L413.5,937.2 L409.7,936.8 L405.9,936.5 L402.0,936.1 L398.2,935.8 L394.4,935.4 L390.5,935.0 L386.7,934.6 L382.8,934.1 L379.0,933.7 L375.2,933.2 L371.3,932.6 L367.5,932.1 L363.7,931.5 L359.8,930.9 L356.0,930.3 L352.2,929.7 L348.3,929.0 L344.5,928.3 L340.6,927.7 L336.8,927.0 L333.0,926.3 L329.1,925.6 L325.3,924.9 L321.5,924.2 L317.6,923.5 L313.8,922.8 L309.9,922.1 L306.1,921.4 L302.3,920.7 L298.4,920.0 L294.6,919.3 L290.8,918.6 L286.9,917.9 L283.1,916.9 L279.3,915.8 L275.4,914.8 L271.6,913.6 L267.7,912.5 L263.9,911.3 L260.1,910.1 L256.2,909.0 L252.4,907.8 L248.6,906.6 L244.7,905.5 L240.9,904.3 L237.1,903.1 L233.2,902.0 L229.4,900.8 L225.5,899.7 L221.7,898.6 L217.9,897.6 L214.0,896.8 L210.2,896.1 L206.4,895.4 L202.5,894.5 L198.7,893.3 L194.8,891.8 L191.0,890.2 L187.2,888.4 L183.3,886.7 L179.5,885.0Z" fill="#ee2c9e"/>
<path d="M179.5,885.0 L183.3,886.7 L187.2,888.4 L191.0,890.2 L194.8,891.8 L198.7,893.3 L202.5,894.5 L206.4,895.4 L210.2,896.1 L214.0,896.8 L217.9,897.6 L221.7,898.6 L225.5,899.7 L229.4,900.8 L233.2,902.0 L237.1,903.1 L240.9,904.3 L244.7,905.5 L248.6,906.6 L252.4,907.8 L256.2,909.0 L260.1,910.1 L263.9,911.3 L267.7,912.5 L271.6,913.6 L275.4,914.8 L279.3,915.8 L283.1,916.9 L286.9,917.9 L290.8,918.6 L294.6,919.3 L298.4,920.0 L302.3,920.7 L306.1,921.4 L309.9,922.1 L313.8,922.8 L317.6,923.5 L321.5,924.2 L325.3,924.9 L329.1,925.6 L333.0,926.3 L336.8,927.0 L340.6,927.7 L344.5,928.3 L348.3,929.0 L352.2,929.7 L356.0,930.3 L359.8,930.9 L363.7,931.5 L367.5,932.1 L371.3,932.6 L375.2,933.2 L379.0,933.7 L382.8,934.1 L386.7,934.6 L390.5,935.0 L394.4,935.4 L398.2,935.8 L402.0,936.1 L405.9,936.5 L409.7,936.8 L413.5,937.2 L417.4,937.5 L421.2,937.8 L425.0,938.1 L428.9,938.4 L432.7,938.7 L436.6,939.0 L440.4,939.3 L444.2,939.6 L448.1,939.8 L451.9,940.1 L455.7,940.4 L459.6,940.7 L463.4,941.1 L467.3,941.4 L471.1,941.7 L474.9,942.0 L478.8,942.4 L482.6,942.7 L486.4,943.1 L490.3,943.4 L494.1,943.8 L497.9,944.1 L501.8,944.4 L505.6,944.7 L509.5,945.0 L513.3,945.4 L517.1,945.7 L521.0,946.0 L524.8,946.3 L528.6,946.6 L532.5,947.0 L536.3,947.4 L540.1,947.8 L544.0,948.1 L547.8,948.5 L551.7,948.8 L555.5,949.0 L559.3,949.3 L563.2,949.5 L567.0,949.7 L570.8,949.8 L574.7,949.9 L578.5,950.0 L582.4,950.1 L586.2,950.2 L590.0,950.2 L593.9,950.3 L597.7,950.3 L601.5,950.3 L605.4,950.3 L609.2,950.4 L613.0,950.4 L616.9,950.4 L620.7,950.4 L624.6,950.4 L628.4,950.4 L632.2,950.4 L636.1,950.4 L639.9,950.4 L643.7,950.4 L647.6,950.3 L651.4,950.3 L655.2,950.3 L659.1,950.2 L662.9,950.2 L666.8,950.1 L670.6,950.1 L674.4,950.0 L678.3,950.0 L682.1,949.9 L685.9,949.8 L689.8,949.7 L693.6,949.6 L697.5,949.5 L701.3,949.4 L705.1,949.3 L709.0,949.1 L712.8,948.9 L716.6,948.7 L720.5,948.5 L724.3,948.3 L728.1,948.0 L732.0,947.7 L735.8,947.4 L739.7,947.1 L743.5,946.8 L747.3,946.5 L751.2,946.2 L755.0,945.8 L758.8,945.5 L762.7,945.1 L766.5,944.8 L770.3,944.4 L774.2,944.1 L778.0,943.8 L781.9,943.6 L785.7,943.4 L789.5,943.6 L793.4,943.9 L797.2,943.6 L801.0,943.1 L804.9,942.6 L808.7,942.0 L812.6,941.5 L816.4,940.9 L820.2,940.3 L824.1,939.7 L827.9,939.1 L831.7,938.5 L835.6,937.8 L839.4,937.1 L843.2,936.4 L847.1,935.6 L850.9,934.8 L854.8,933.9 L858.6,933.0 L862.4,932.0 L866.3,931.0 L870.1,930.0 L873.9,928.9 L877.8,927.9 L881.6,926.8 L885.4,925.7 L889.3,924.6 L893.1,923.4 L897.0,922.3 L900.8,921.1 L904.6,919.9 L908.5,918.7 L912.3,917.4 L916.1,916.2 L920.0,914.9 L923.8,913.5 L927.7,912.1 L931.5,909.7 L935.3,906.5 L939.2,903.8 L943.0,901.0 L943.0,901.0 L939.2,904.1 L935.3,907.2 L931.5,910.7 L927.7,913.2 L923.8,914.9 L920.0,916.4 L916.1,917.8 L912.3,919.3 L908.5,920.7 L904.6,922.1 L900.8,923.5 L897.0,924.9 L893.1,926.3 L889.3,927.6 L885.4,928.9 L881.6,930.3 L877.8,931.5 L873.9,932.8 L870.1,934.0 L866.3,935.2 L862.4,936.4 L858.6,937.5 L854.8,938.6 L850.9,939.7 L847.1,940.7 L843.2,941.7 L839.4,942.8 L835.6,943.8 L831.7,944.7 L827.9,945.7 L824.1,946.7 L820.2,947.6 L816.4,948.5 L812.6,949.4 L808.7,950.3 L804.9,951.2 L801.0,952.0 L797.2,952.8 L793.4,953.5 L789.5,953.3 L785.7,953.3 L781.9,953.6 L778.0,953.9 L774.2,954.3 L770.3,954.7 L766.5,955.2 L762.7,955.6 L758.8,956.1 L755.0,956.5 L751.2,956.9 L747.3,957.4 L743.5,957.8 L739.7,958.2 L735.8,958.6 L732.0,959.0 L728.1,959.3 L724.3,959.7 L720.5,960.0 L716.6,960.3 L712.8,960.6 L709.0,960.8 L705.1,961.0 L701.3,961.2 L697.5,961.4 L693.6,961.6 L689.8,961.7 L685.9,961.8 L682.1,962.0 L678.3,962.1 L674.4,962.2 L670.6,962.3 L666.8,962.4 L662.9,962.5 L659.1,962.5 L655.2,962.6 L651.4,962.7 L647.6,962.7 L643.7,962.8 L639.9,962.9 L636.1,962.9 L632.2,962.9 L628.4,963.0 L624.6,963.0 L620.7,963.0 L616.9,963.1 L613.0,963.1 L609.2,963.1 L605.4,963.1 L601.5,963.1 L597.7,963.1 L593.9,963.1 L590.0,963.1 L586.2,963.0 L582.4,963.0 L578.5,962.9 L574.7,962.8 L570.8,962.7 L567.0,962.6 L563.2,962.4 L559.3,962.2 L555.5,962.0 L551.7,961.7 L547.8,961.4 L544.0,961.0 L540.1,960.6 L536.3,960.2 L532.5,959.8 L528.6,959.4 L524.8,959.0 L521.0,958.7 L517.1,958.4 L513.3,958.0 L509.5,957.7 L505.6,957.4 L501.8,957.0 L497.9,956.7 L494.1,956.3 L490.3,955.9 L486.4,955.5 L482.6,955.2 L478.8,954.8 L474.9,954.4 L471.1,954.0 L467.3,953.7 L463.4,953.3 L459.6,953.0 L455.7,952.6 L451.9,952.3 L448.1,952.0 L444.2,951.6 L440.4,951.3 L436.6,951.0 L432.7,950.6 L428.9,950.3 L425.0,949.9 L421.2,949.6 L417.4,949.2 L413.5,948.8 L409.7,948.5 L405.9,948.1 L402.0,947.6 L398.2,947.2 L394.4,946.8 L390.5,946.3 L386.7,945.8 L382.8,945.3 L379.0,944.7 L375.2,944.1 L371.3,943.5 L367.5,942.8 L363.7,942.2 L359.8,941.4 L356.0,940.7 L352.2,940.0 L348.3,939.2 L344.5,938.4 L340.6,937.6 L336.8,936.8 L333.0,936.0 L329.1,935.2 L325.3,934.4 L321.5,933.5 L317.6,932.7 L313.8,931.8 L309.9,931.0 L306.1,930.1 L302.3,929.3 L298.4,928.5 L294.6,927.7 L290.8,926.8 L286.9,925.9 L283.1,924.7 L279.3,923.5 L275.4,922.2 L271.6,920.9 L267.7,919.5 L263.9,918.1 L260.1,916.7 L256.2,915.3 L252.4,913.9 L248.6,912.5 L244.7,911.2 L240.9,909.8 L237.1,908.4 L233.2,907.0 L229.4,905.6 L225.5,904.3 L221.7,903.0 L217.9,901.7 L214.0,900.7 L210.2,899.8 L206.4,898.9 L202.5,897.8 L198.7,896.2 L194.8,894.2 L191.0,892.0 L187.2,889.7 L183.3,887.3 L179.5,885.0Z" fill="#dc1490"/>
<linearGradient id="nt1" gradientUnits="userSpaceOnUse" x1="179" y1="0" x2="330" y2="0"><stop offset="0" stop-color="#3d8ad0" stop-opacity="1"/><stop offset="1" stop-color="#3d8ad0" stop-opacity="0"/></linearGradient>
<linearGradient id="nt2" gradientUnits="userSpaceOnUse" x1="179" y1="0" x2="330" y2="0"><stop offset="0" stop-color="#d47cc8" stop-opacity="1"/><stop offset="1" stop-color="#e8a0d8" stop-opacity="0"/></linearGradient>
<path d="M179.5,885.0 L183.3,882.6 L187.2,880.2 L191.0,877.7 L194.8,875.4 L198.7,873.5 L202.5,872.0 L206.4,871.0 L210.2,870.3 L214.0,869.7 L217.9,869.2 L221.7,868.6 L225.5,868.0 L229.4,867.5 L233.2,867.0 L237.1,866.5 L240.9,866.0 L244.7,865.5 L248.6,865.1 L252.4,864.6 L256.2,864.1 L260.1,863.5 L263.9,863.0 L267.7,862.4 L271.6,861.9 L275.4,861.4 L279.3,860.9 L283.1,860.5 L286.9,860.1 L290.8,859.6 L294.6,859.2 L298.4,858.9 L302.3,858.5 L306.1,858.2 L309.9,857.9 L313.8,857.6 L317.6,857.3 L321.5,857.1 L325.3,856.8 L329.1,856.6 L333.0,856.3 L336.8,856.1 L340.6,855.8 L344.5,855.6 L348.3,855.3 L352.2,855.1 L356.0,854.9 L359.8,854.6 L363.7,854.4 L367.5,854.2 L371.3,853.9 L375.2,853.7 L379.0,853.5 L382.8,853.2 L386.7,853.0 L390.5,852.8 L394.4,852.5 L398.2,852.3 L402.0,852.1 L405.9,851.9 L409.7,851.6 L413.5,851.4 L417.4,851.2 L421.2,851.0 L425.0,850.8 L428.9,850.6 L432.7,850.5 L436.6,850.3 L440.4,850.2 L444.2,850.1 L448.1,850.0 L451.9,849.8 L455.7,849.8 L459.6,849.7 L463.4,849.6 L467.3,849.5 L471.1,849.4 L474.9,849.4 L478.8,849.3 L482.6,849.2 L486.4,849.1 L490.3,849.1 L494.1,849.0 L497.9,848.9 L501.8,848.9 L505.6,848.8 L509.5,848.8 L513.3,848.7 L517.1,848.7 L521.0,848.6 L524.8,848.6 L528.6,848.5 L532.5,848.5 L536.3,848.5 L540.1,848.5 L544.0,848.5 L547.8,848.5 L551.7,848.5 L555.5,848.5 L559.3,848.5 L563.2,848.5 L567.0,848.5 L570.8,848.6 L574.7,848.6 L578.5,848.6 L582.4,848.6 L586.2,848.7 L590.0,848.7 L593.9,848.8 L597.7,848.8 L601.5,848.9 L605.4,848.9 L609.2,849.0 L613.0,849.1 L616.9,849.1 L620.7,849.2 L624.6,849.3 L628.4,849.4 L632.2,849.4 L636.1,849.5 L639.9,849.6 L643.7,849.7 L647.6,849.8 L651.4,849.9 L655.2,850.1 L659.1,850.2 L662.9,850.3 L666.8,850.4 L670.6,850.6 L674.4,850.7 L678.3,850.9 L682.1,851.0 L685.9,851.2 L689.8,851.4 L693.6,851.6 L697.5,851.8 L701.3,852.0 L705.1,852.2 L709.0,852.5 L712.8,852.8 L716.6,853.1 L720.5,853.4 L724.3,853.7 L728.1,854.1 L732.0,854.4 L735.8,854.8 L739.7,855.2 L743.5,855.6 L747.3,856.1 L751.2,856.5 L755.0,856.9 L758.8,857.4 L762.7,857.9 L766.5,858.3 L770.3,858.8 L774.2,859.3 L778.0,859.7 L781.9,860.2 L785.7,860.5 L789.5,860.9 L793.4,861.6 L797.2,862.2 L801.0,862.6 L804.9,862.9 L808.7,863.3 L812.6,863.6 L816.4,863.9 L820.2,864.2 L824.1,864.6 L827.9,864.9 L831.7,865.3 L835.6,865.8 L839.4,866.3 L843.2,866.8 L847.1,867.4 L850.9,868.1 L854.8,868.8 L858.6,869.6 L862.4,870.5 L866.3,871.4 L870.1,872.3 L873.9,873.2 L877.8,874.1 L881.6,875.0 L885.4,875.8 L889.3,876.7 L893.1,877.6 L897.0,878.5 L900.8,879.4 L904.6,880.4 L908.5,881.3 L912.3,882.3 L916.1,883.3 L920.0,884.4 L923.8,885.5 L927.7,886.6 L931.5,887.9 L935.3,891.4 L939.2,896.1 L943.0,901.0 L943.0,901.0 L939.2,896.9 L935.3,893.1 L931.5,890.3 L927.7,889.5 L923.8,888.8 L920.0,888.0 L916.1,887.4 L912.3,886.8 L908.5,886.2 L904.6,885.7 L900.8,885.2 L897.0,884.8 L893.1,884.3 L889.3,883.9 L885.4,883.5 L881.6,883.1 L877.8,882.7 L873.9,882.2 L870.1,881.8 L866.3,881.2 L862.4,880.6 L858.6,880.1 L854.8,879.6 L850.9,879.3 L847.1,879.0 L843.2,878.9 L839.4,878.8 L835.6,878.7 L831.7,878.8 L827.9,878.8 L824.1,879.0 L820.2,879.1 L816.4,879.3 L812.6,879.5 L808.7,879.7 L804.9,879.8 L801.0,880.0 L797.2,880.0 L793.4,879.9 L789.5,879.4 L785.7,879.3 L781.9,879.1 L778.0,878.8 L774.2,878.5 L770.3,878.2 L766.5,877.9 L762.7,877.7 L758.8,877.4 L755.0,877.1 L751.2,876.8 L747.3,876.6 L743.5,876.3 L739.7,876.1 L735.8,875.8 L732.0,875.6 L728.1,875.4 L724.3,875.2 L720.5,875.0 L716.6,874.8 L712.8,874.6 L709.0,874.4 L705.1,874.3 L701.3,874.2 L697.5,874.0 L693.6,873.9 L689.8,873.8 L685.9,873.7 L682.1,873.6 L678.3,873.5 L674.4,873.4 L670.6,873.3 L666.8,873.2 L662.9,873.1 L659.1,873.0 L655.2,873.0 L651.4,872.9 L647.6,872.8 L643.7,872.8 L639.9,872.7 L636.1,872.7 L632.2,872.6 L628.4,872.5 L624.6,872.5 L620.7,872.4 L616.9,872.4 L613.0,872.4 L609.2,872.3 L605.4,872.3 L601.5,872.2 L597.7,872.2 L593.9,872.2 L590.0,872.1 L586.2,872.1 L582.4,872.1 L578.5,872.0 L574.7,872.0 L570.8,872.0 L567.0,872.0 L563.2,871.9 L559.3,871.9 L555.5,871.8 L551.7,871.8 L547.8,871.7 L544.0,871.7 L540.1,871.6 L536.3,871.5 L532.5,871.5 L528.6,871.4 L524.8,871.3 L521.0,871.3 L517.1,871.3 L513.3,871.3 L509.5,871.3 L505.6,871.2 L501.8,871.2 L497.9,871.2 L494.1,871.2 L490.3,871.2 L486.4,871.2 L482.6,871.2 L478.8,871.1 L474.9,871.1 L471.1,871.1 L467.3,871.1 L463.4,871.1 L459.6,871.1 L455.7,871.1 L451.9,871.1 L448.1,871.1 L444.2,871.2 L440.4,871.2 L436.6,871.3 L432.7,871.3 L428.9,871.4 L425.0,871.5 L421.2,871.5 L417.4,871.6 L413.5,871.7 L409.7,871.8 L405.9,871.9 L402.0,872.0 L398.2,872.1 L394.4,872.2 L390.5,872.3 L386.7,872.4 L382.8,872.4 L379.0,872.5 L375.2,872.6 L371.3,872.6 L367.5,872.7 L363.7,872.7 L359.8,872.8 L356.0,872.8 L352.2,872.8 L348.3,872.9 L344.5,872.9 L340.6,872.9 L336.8,873.0 L333.0,873.0 L329.1,873.0 L325.3,873.0 L321.5,873.1 L317.6,873.1 L313.8,873.2 L309.9,873.2 L306.1,873.3 L302.3,873.3 L298.4,873.4 L294.6,873.6 L290.8,873.7 L286.9,873.8 L283.1,873.9 L279.3,874.0 L275.4,874.1 L271.6,874.2 L267.7,874.4 L263.9,874.5 L260.1,874.7 L256.2,874.8 L252.4,874.9 L248.6,875.0 L244.7,875.1 L240.9,875.2 L237.1,875.3 L233.2,875.3 L229.4,875.5 L225.5,875.6 L221.7,875.8 L217.9,876.0 L214.0,876.2 L210.2,876.5 L206.4,876.8 L202.5,877.4 L198.7,878.3 L194.8,879.4 L191.0,880.7 L187.2,882.1 L183.3,883.6 L179.5,885.0Z" fill="url(#nt1)"/>
<path d="M179.5,885.0 L183.3,885.1 L187.2,885.1 L191.0,885.2 L194.8,885.3 L198.7,885.4 L202.5,885.6 L206.4,885.7 L210.2,885.8 L214.0,886.1 L217.9,886.4 L221.7,886.8 L225.5,887.3 L229.4,887.8 L233.2,888.3 L237.1,888.9 L240.9,889.4 L244.7,890.0 L248.6,890.6 L252.4,891.2 L256.2,891.7 L260.1,892.3 L263.9,892.8 L267.7,893.4 L271.6,893.9 L275.4,894.5 L279.3,895.0 L283.1,895.5 L286.9,896.0 L290.8,896.3 L294.6,896.6 L298.4,896.9 L302.3,897.2 L306.1,897.5 L309.9,897.8 L313.8,898.2 L317.6,898.5 L321.5,898.9 L325.3,899.2 L329.1,899.6 L333.0,899.9 L336.8,900.2 L340.6,900.6 L344.5,900.9 L348.3,901.2 L352.2,901.5 L356.0,901.9 L359.8,902.2 L363.7,902.5 L367.5,902.7 L371.3,903.0 L375.2,903.3 L379.0,903.5 L382.8,903.7 L386.7,903.9 L390.5,904.1 L394.4,904.3 L398.2,904.4 L402.0,904.6 L405.9,904.7 L409.7,904.9 L413.5,905.0 L417.4,905.1 L421.2,905.3 L425.0,905.4 L428.9,905.5 L432.7,905.7 L436.6,905.8 L440.4,906.0 L444.2,906.1 L448.1,906.3 L451.9,906.4 L455.7,906.6 L459.6,906.8 L463.4,906.9 L467.3,907.1 L471.1,907.3 L474.9,907.5 L478.8,907.8 L482.6,908.0 L486.4,908.2 L490.3,908.4 L494.1,908.6 L497.9,908.8 L501.8,909.0 L505.6,909.2 L509.5,909.4 L513.3,909.6 L517.1,909.8 L521.0,910.0 L524.8,910.2 L528.6,910.4 L532.5,910.6 L536.3,910.9 L540.1,911.2 L544.0,911.4 L547.8,911.6 L551.7,911.9 L555.5,912.1 L559.3,912.2 L563.2,912.4 L567.0,912.5 L570.8,912.6 L574.7,912.7 L578.5,912.8 L582.4,912.9 L586.2,913.0 L590.0,913.1 L593.9,913.1 L597.7,913.2 L601.5,913.2 L605.4,913.3 L609.2,913.4 L613.0,913.4 L616.9,913.5 L620.7,913.5 L624.6,913.6 L628.4,913.6 L632.2,913.7 L636.1,913.7 L639.9,913.7 L643.7,913.8 L647.6,913.8 L651.4,913.9 L655.2,913.9 L659.1,913.9 L662.9,914.0 L666.8,914.0 L670.6,914.0 L674.4,914.1 L678.3,914.1 L682.1,914.1 L685.9,914.1 L689.8,914.2 L693.6,914.2 L697.5,914.2 L701.3,914.2 L705.1,914.2 L709.0,914.2 L712.8,914.2 L716.6,914.2 L720.5,914.2 L724.3,914.2 L728.1,914.1 L732.0,914.1 L735.8,914.1 L739.7,914.0 L743.5,914.0 L747.3,913.9 L751.2,913.9 L755.0,913.8 L758.8,913.8 L762.7,913.7 L766.5,913.7 L770.3,913.6 L774.2,913.6 L778.0,913.5 L781.9,913.6 L785.7,913.8 L789.5,914.5 L793.4,915.6 L797.2,916.3 L801.0,917.0 L804.9,917.7 L808.7,918.5 L812.6,919.3 L816.4,920.1 L820.2,920.8 L824.1,921.5 L827.9,922.2 L831.7,922.7 L835.6,923.2 L839.4,923.5 L843.2,923.7 L847.1,923.8 L850.9,923.8 L854.8,923.5 L858.6,923.2 L862.4,922.6 L866.3,921.9 L870.1,921.2 L873.9,920.5 L877.8,919.9 L881.6,919.2 L885.4,918.6 L889.3,917.9 L893.1,917.2 L897.0,916.5 L900.8,915.8 L904.6,915.0 L908.5,914.2 L912.3,913.4 L916.1,912.5 L920.0,911.5 L923.8,910.5 L927.7,909.4 L931.5,907.5 L935.3,905.0 L939.2,903.0 L943.0,901.0 L943.0,901.0 L939.2,903.5 L935.3,906.0 L931.5,908.9 L927.7,911.2 L923.8,912.5 L920.0,913.7 L916.1,914.9 L912.3,916.0 L908.5,917.1 L904.6,918.1 L900.8,919.2 L897.0,920.1 L893.1,921.1 L889.3,922.1 L885.4,923.0 L881.6,923.9 L877.8,924.8 L873.9,925.7 L870.1,926.6 L866.3,927.5 L862.4,928.4 L858.6,929.2 L854.8,930.0 L850.9,930.7 L847.1,931.3 L843.2,931.8 L839.4,932.3 L835.6,932.7 L831.7,933.1 L827.9,933.5 L824.1,933.8 L820.2,934.0 L816.4,934.3 L812.6,934.5 L808.7,934.7 L804.9,934.9 L801.0,935.2 L797.2,935.4 L793.4,935.5 L789.5,934.9 L785.7,934.6 L781.9,934.7 L778.0,934.8 L774.2,935.1 L770.3,935.3 L766.5,935.6 L762.7,935.8 L758.8,936.1 L755.0,936.3 L751.2,936.6 L747.3,936.8 L743.5,937.1 L739.7,937.3 L735.8,937.5 L732.0,937.7 L728.1,937.9 L724.3,938.1 L720.5,938.3 L716.6,938.4 L712.8,938.6 L709.0,938.7 L705.1,938.8 L701.3,938.9 L697.5,939.0 L693.6,939.0 L689.8,939.1 L685.9,939.1 L682.1,939.2 L678.3,939.2 L674.4,939.2 L670.6,939.2 L666.8,939.2 L662.9,939.3 L659.1,939.3 L655.2,939.3 L651.4,939.3 L647.6,939.2 L643.7,939.2 L639.9,939.2 L636.1,939.2 L632.2,939.2 L628.4,939.2 L624.6,939.1 L620.7,939.1 L616.9,939.1 L613.0,939.0 L609.2,939.0 L605.4,938.9 L601.5,938.9 L597.7,938.8 L593.9,938.8 L590.0,938.7 L586.2,938.6 L582.4,938.5 L578.5,938.5 L574.7,938.3 L570.8,938.2 L567.0,938.1 L563.2,937.9 L559.3,937.7 L555.5,937.4 L551.7,937.2 L547.8,936.9 L544.0,936.6 L540.1,936.2 L536.3,935.9 L532.5,935.5 L528.6,935.2 L524.8,934.8 L521.0,934.5 L517.1,934.2 L513.3,934.0 L509.5,933.7 L505.6,933.4 L501.8,933.1 L497.9,932.8 L494.1,932.5 L490.3,932.2 L486.4,931.9 L482.6,931.5 L478.8,931.2 L474.9,930.9 L471.1,930.6 L467.3,930.3 L463.4,930.0 L459.6,929.7 L455.7,929.5 L451.9,929.2 L448.1,928.9 L444.2,928.7 L440.4,928.4 L436.6,928.2 L432.7,927.9 L428.9,927.6 L425.0,927.4 L421.2,927.1 L417.4,926.9 L413.5,926.6 L409.7,926.3 L405.9,926.0 L402.0,925.8 L398.2,925.4 L394.4,925.1 L390.5,924.8 L386.7,924.5 L382.8,924.1 L379.0,923.7 L375.2,923.3 L371.3,922.8 L367.5,922.4 L363.7,921.9 L359.8,921.4 L356.0,920.8 L352.2,920.3 L348.3,919.8 L344.5,919.2 L340.6,918.7 L336.8,918.1 L333.0,917.5 L329.1,916.9 L325.3,916.3 L321.5,915.8 L317.6,915.2 L313.8,914.6 L309.9,914.0 L306.1,913.4 L302.3,912.8 L298.4,912.3 L294.6,911.8 L290.8,911.2 L286.9,910.6 L283.1,909.7 L279.3,908.9 L275.4,908.0 L271.6,907.1 L267.7,906.1 L263.9,905.2 L260.1,904.2 L256.2,903.2 L252.4,902.3 L248.6,901.3 L244.7,900.3 L240.9,899.3 L237.1,898.4 L233.2,897.4 L229.4,896.5 L225.5,895.5 L221.7,894.7 L217.9,893.9 L214.0,893.2 L210.2,892.7 L206.4,892.1 L202.5,891.5 L198.7,890.7 L194.8,889.7 L191.0,888.5 L187.2,887.3 L183.3,886.2 L179.5,885.0Z" fill="url(#nt2)"/>
<linearGradient id="nt3" gradientUnits="userSpaceOnUse" x1="179" y1="0" x2="300" y2="0"><stop offset="0" stop-color="#3a68b8" stop-opacity="1"/><stop offset="1" stop-color="#5a78c0" stop-opacity="0"/></linearGradient>
<path d="M179.5,885.0 L183.3,883.6 L187.2,882.1 L191.0,880.7 L194.8,879.4 L198.7,878.3 L202.5,877.4 L206.4,876.8 L210.2,876.5 L214.0,876.2 L217.9,876.0 L221.7,875.8 L225.5,875.6 L229.4,875.5 L233.2,875.3 L237.1,875.3 L240.9,875.2 L244.7,875.1 L248.6,875.0 L252.4,874.9 L256.2,874.8 L260.1,874.7 L263.9,874.5 L267.7,874.4 L271.6,874.2 L275.4,874.1 L279.3,874.0 L283.1,873.9 L286.9,873.8 L290.8,873.7 L294.6,873.6 L298.4,873.4 L302.3,873.3 L306.1,873.3 L309.9,873.2 L313.8,873.2 L317.6,873.1 L321.5,873.1 L325.3,873.0 L329.1,873.0 L333.0,873.0 L336.8,873.0 L340.6,872.9 L344.5,872.9 L348.3,872.9 L352.2,872.8 L356.0,872.8 L359.8,872.8 L363.7,872.7 L367.5,872.7 L371.3,872.6 L375.2,872.6 L379.0,872.5 L382.8,872.4 L386.7,872.4 L390.5,872.3 L394.4,872.2 L398.2,872.1 L402.0,872.0 L405.9,871.9 L409.7,871.8 L413.5,871.7 L417.4,871.6 L421.2,871.5 L425.0,871.5 L428.9,871.4 L432.7,871.3 L436.6,871.3 L440.4,871.2 L444.2,871.2 L448.1,871.1 L451.9,871.1 L455.7,871.1 L459.6,871.1 L463.4,871.1 L467.3,871.1 L471.1,871.1 L474.9,871.1 L478.8,871.1 L482.6,871.2 L486.4,871.2 L490.3,871.2 L494.1,871.2 L497.9,871.2 L501.8,871.2 L505.6,871.2 L509.5,871.3 L513.3,871.3 L517.1,871.3 L521.0,871.3 L524.8,871.3 L528.6,871.4 L532.5,871.5 L536.3,871.5 L540.1,871.6 L544.0,871.7 L547.8,871.7 L551.7,871.8 L555.5,871.8 L559.3,871.9 L563.2,871.9 L567.0,872.0 L570.8,872.0 L574.7,872.0 L578.5,872.0 L582.4,872.1 L586.2,872.1 L590.0,872.1 L593.9,872.2 L597.7,872.2 L601.5,872.2 L605.4,872.3 L609.2,872.3 L613.0,872.4 L616.9,872.4 L620.7,872.4 L624.6,872.5 L628.4,872.5 L632.2,872.6 L636.1,872.7 L639.9,872.7 L643.7,872.8 L647.6,872.8 L651.4,872.9 L655.2,873.0 L659.1,873.0 L662.9,873.1 L666.8,873.2 L670.6,873.3 L674.4,873.4 L678.3,873.5 L682.1,873.6 L685.9,873.7 L689.8,873.8 L693.6,873.9 L697.5,874.0 L701.3,874.2 L705.1,874.3 L709.0,874.4 L712.8,874.6 L716.6,874.8 L720.5,875.0 L724.3,875.2 L728.1,875.4 L732.0,875.6 L735.8,875.8 L739.7,876.1 L743.5,876.3 L747.3,876.6 L751.2,876.8 L755.0,877.1 L758.8,877.4 L762.7,877.7 L766.5,877.9 L770.3,878.2 L774.2,878.5 L778.0,878.8 L781.9,879.1 L785.7,879.3 L789.5,879.4 L793.4,879.9 L797.2,880.0 L801.0,880.0 L804.9,879.8 L808.7,879.7 L812.6,879.5 L816.4,879.3 L820.2,879.1 L824.1,879.0 L827.9,878.8 L831.7,878.8 L835.6,878.7 L839.4,878.8 L843.2,878.9 L847.1,879.0 L850.9,879.3 L854.8,879.6 L858.6,880.1 L862.4,880.6 L866.3,881.2 L870.1,881.8 L873.9,882.2 L877.8,882.7 L881.6,883.1 L885.4,883.5 L889.3,883.9 L893.1,884.3 L897.0,884.8 L900.8,885.2 L904.6,885.7 L908.5,886.2 L912.3,886.8 L916.1,887.4 L920.0,888.0 L923.8,888.8 L927.7,889.5 L931.5,890.3 L935.3,893.1 L939.2,896.9 L943.0,901.0 L943.0,901.0 L939.2,903.0 L935.3,905.0 L931.5,907.5 L927.7,909.4 L923.8,910.5 L920.0,911.5 L916.1,912.5 L912.3,913.4 L908.5,914.2 L904.6,915.0 L900.8,915.8 L897.0,916.5 L893.1,917.2 L889.3,917.9 L885.4,918.6 L881.6,919.2 L877.8,919.9 L873.9,920.5 L870.1,921.2 L866.3,921.9 L862.4,922.6 L858.6,923.2 L854.8,923.5 L850.9,923.8 L847.1,923.8 L843.2,923.7 L839.4,923.5 L835.6,923.2 L831.7,922.7 L827.9,922.2 L824.1,921.5 L820.2,920.8 L816.4,920.1 L812.6,919.3 L808.7,918.5 L804.9,917.7 L801.0,917.0 L797.2,916.3 L793.4,915.6 L789.5,914.5 L785.7,913.8 L781.9,913.6 L778.0,913.5 L774.2,913.6 L770.3,913.6 L766.5,913.7 L762.7,913.7 L758.8,913.8 L755.0,913.8 L751.2,913.9 L747.3,913.9 L743.5,914.0 L739.7,914.0 L735.8,914.1 L732.0,914.1 L728.1,914.1 L724.3,914.2 L720.5,914.2 L716.6,914.2 L712.8,914.2 L709.0,914.2 L705.1,914.2 L701.3,914.2 L697.5,914.2 L693.6,914.2 L689.8,914.2 L685.9,914.1 L682.1,914.1 L678.3,914.1 L674.4,914.1 L670.6,914.0 L666.8,914.0 L662.9,914.0 L659.1,913.9 L655.2,913.9 L651.4,913.9 L647.6,913.8 L643.7,913.8 L639.9,913.7 L636.1,913.7 L632.2,913.7 L628.4,913.6 L624.6,913.6 L620.7,913.5 L616.9,913.5 L613.0,913.4 L609.2,913.4 L605.4,913.3 L601.5,913.2 L597.7,913.2 L593.9,913.1 L590.0,913.1 L586.2,913.0 L582.4,912.9 L578.5,912.8 L574.7,912.7 L570.8,912.6 L567.0,912.5 L563.2,912.4 L559.3,912.2 L555.5,912.1 L551.7,911.9 L547.8,911.6 L544.0,911.4 L540.1,911.2 L536.3,910.9 L532.5,910.6 L528.6,910.4 L524.8,910.2 L521.0,910.0 L517.1,909.8 L513.3,909.6 L509.5,909.4 L505.6,909.2 L501.8,909.0 L497.9,908.8 L494.1,908.6 L490.3,908.4 L486.4,908.2 L482.6,908.0 L478.8,907.8 L474.9,907.5 L471.1,907.3 L467.3,907.1 L463.4,906.9 L459.6,906.8 L455.7,906.6 L451.9,906.4 L448.1,906.3 L444.2,906.1 L440.4,906.0 L436.6,905.8 L432.7,905.7 L428.9,905.5 L425.0,905.4 L421.2,905.3 L417.4,905.1 L413.5,905.0 L409.7,904.9 L405.9,904.7 L402.0,904.6 L398.2,904.4 L394.4,904.3 L390.5,904.1 L386.7,903.9 L382.8,903.7 L379.0,903.5 L375.2,903.3 L371.3,903.0 L367.5,902.7 L363.7,902.5 L359.8,902.2 L356.0,901.9 L352.2,901.5 L348.3,901.2 L344.5,900.9 L340.6,900.6 L336.8,900.2 L333.0,899.9 L329.1,899.6 L325.3,899.2 L321.5,898.9 L317.6,898.5 L313.8,898.2 L309.9,897.8 L306.1,897.5 L302.3,897.2 L298.4,896.9 L294.6,896.6 L290.8,896.3 L286.9,896.0 L283.1,895.5 L279.3,895.0 L275.4,894.5 L271.6,893.9 L267.7,893.4 L263.9,892.8 L260.1,892.3 L256.2,891.7 L252.4,891.2 L248.6,890.6 L244.7,890.0 L240.9,889.4 L237.1,888.9 L233.2,888.3 L229.4,887.8 L225.5,887.3 L221.7,886.8 L217.9,886.4 L214.0,886.1 L210.2,885.8 L206.4,885.7 L202.5,885.6 L198.7,885.4 L194.8,885.3 L191.0,885.2 L187.2,885.1 L183.3,885.1 L179.5,885.0Z" fill="url(#nt3)"/>
<path d="M209.0,879.8 L218.0,884.1 M227.2,879.7 L236.2,885.8 M245.4,880.3 L254.4,887.8 M263.5,880.9 L272.5,889.7 M281.7,881.4 L290.7,891.4 M299.9,881.7 L308.9,892.4 M318.1,882.0 L327.1,893.6 M336.3,882.5 L345.3,894.8 M354.4,882.9 L363.4,895.9 M372.6,883.3 L381.6,896.8 M390.8,883.4 L399.8,897.4 M409.0,883.4 L418.0,897.8 M427.2,883.3 L436.2,898.2 M445.3,883.4 L454.3,898.7 M463.5,883.6 L472.5,899.4 M481.7,884.0 L490.7,900.2 M499.9,884.4 L508.9,901.0 M518.1,884.8 L527.1,901.7 M536.2,885.3 L545.2,902.7 M554.4,885.9 L563.4,903.5 M572.6,886.2 L581.6,903.9 M590.8,886.5 L599.8,904.2 M609.0,886.7 L618.0,904.4 M627.1,886.9 L636.1,904.7 M645.3,887.1 L654.3,904.9 M663.5,887.4 L672.5,905.1 M681.7,887.8 L690.7,905.3 M699.9,888.1 L708.9,905.5 M718.0,888.6 L727.0,905.6 M736.2,889.2 L745.2,905.7 M754.4,889.9 L763.4,905.8 M772.6,890.7 L781.6,906.0 M790.8,891.9 L799.8,908.7 M808.9,893.3 L817.9,911.3 M826.4,894.0 L835.4,913.4 M843.7,894.6 L852.7,913.9 M861.0,895.3 L870.0,912.5 M878.3,895.7 L887.3,910.7 M895.6,895.9 L904.6,908.6 M912.9,896.1 L921.9,906.1 M930.2,896.4 L939.2,901.7" fill="none" stroke="#2e2a48" stroke-width="1.6" opacity="0.8"/>
<path d="M200.0,878.0 L208.0,878.0 L210.0,885.5 L202.0,885.5 Z M218.2,876.0 L226.2,876.0 L228.2,886.6 L220.2,886.6 Z M236.4,875.3 L244.4,875.3 L246.4,889.1 L238.4,889.1 Z M254.5,874.8 L262.5,874.8 L264.5,891.8 L256.5,891.8 Z M272.7,874.2 L280.7,874.2 L282.7,894.4 L274.7,894.4 Z M290.9,873.7 L298.9,873.7 L300.9,896.5 L292.9,896.5 Z M309.1,873.2 L317.1,873.2 L319.1,897.9 L311.1,897.9 Z M327.3,873.0 L335.3,873.0 L337.3,899.6 L329.3,899.6 Z M345.4,872.9 L353.4,872.9 L355.4,901.2 L347.4,901.2 Z M363.6,872.7 L371.6,872.7 L373.6,902.6 L365.6,902.6 Z M381.8,872.5 L389.8,872.5 L391.8,903.8 L383.8,903.8 Z M400.0,872.1 L408.0,872.1 L410.0,904.6 L402.0,904.6 Z M418.2,871.6 L426.2,871.6 L428.2,905.2 L420.2,905.2 Z M436.3,871.3 L444.3,871.3 L446.3,905.9 L438.3,905.9 Z M454.5,871.1 L462.5,871.1 L464.5,906.6 L456.5,906.6 Z M472.7,871.1 L480.7,871.1 L482.7,907.5 L474.7,907.5 Z M490.9,871.2 L498.9,871.2 L500.9,908.5 L492.9,908.5 Z M509.1,871.3 L517.1,871.3 L519.1,909.5 L511.1,909.5 Z M527.2,871.4 L535.2,871.4 L537.2,910.4 L529.2,910.4 Z M545.4,871.7 L553.4,871.7 L555.4,911.6 L547.4,911.6 Z M563.6,871.9 L571.6,871.9 L573.6,912.5 L565.6,912.5 Z M581.8,872.1 L589.8,872.1 L591.8,912.9 L583.8,912.9 Z M600.0,872.2 L608.0,872.2 L610.0,913.3 L602.0,913.3 Z M618.1,872.4 L626.1,872.4 L628.1,913.5 L620.1,913.5 Z M636.3,872.7 L644.3,872.7 L646.3,913.7 L638.3,913.7 Z M654.5,873.0 L662.5,873.0 L664.5,913.9 L656.5,913.9 Z M672.7,873.3 L680.7,873.3 L682.7,914.1 L674.7,914.1 Z M690.9,873.8 L698.9,873.8 L700.9,914.2 L692.9,914.2 Z M709.0,874.4 L717.0,874.4 L719.0,914.2 L711.0,914.2 Z M727.2,875.3 L735.2,875.3 L737.2,914.1 L729.2,914.1 Z M745.4,876.4 L753.4,876.4 L755.4,913.9 L747.4,913.9 Z M763.6,877.7 L771.6,877.7 L773.6,913.7 L765.6,913.7 Z M781.8,879.1 L789.8,879.1 L791.8,913.7 L783.8,913.7 Z M799.9,880.0 L807.9,880.0 L809.9,917.2 L801.9,917.2 Z M817.4,879.3 L825.4,879.3 L827.4,920.7 L819.4,920.7 Z M834.7,878.7 L842.7,878.7 L844.7,923.3 L836.7,923.3 Z M852.0,879.4 L860.0,879.4 L862.0,923.6 L854.0,923.6 Z M869.3,881.6 L877.3,881.6 L879.3,921.0 L871.3,921.0 Z M886.6,883.6 L894.6,883.6 L896.6,918.0 L888.6,918.0 Z M903.9,885.6 L911.9,885.6 L913.9,914.7 L905.9,914.7 Z M921.2,888.3 L929.2,888.3 L931.2,910.7 L923.2,910.7 Z" fill="#5c5468"/>
<linearGradient id="nsh" gradientUnits="userSpaceOnUse" x1="180" y1="0" x2="340" y2="0"><stop offset="0" stop-color="#1c1a40" stop-opacity="0.25"/><stop offset="0.45" stop-color="#1c1a40" stop-opacity="0.6"/><stop offset="0.75" stop-color="#1c1a40" stop-opacity="0.55"/><stop offset="1" stop-color="#1c1a40" stop-opacity="0"/></linearGradient>
<path d="M179.5,885.0 L183.3,883.5 L187.2,881.9 L191.0,880.4 L194.8,878.9 L198.7,877.7 L202.5,876.8 L206.4,876.2 L210.2,875.8 L214.0,875.5 L217.9,875.2 L221.7,875.0 L225.5,874.8 L229.4,874.6 L233.2,874.4 L237.1,874.3 L240.9,874.2 L244.7,874.0 L248.6,873.9 L252.4,873.8 L256.2,873.6 L260.1,873.4 L263.9,873.2 L267.7,873.0 L271.6,872.9 L275.4,872.7 L279.3,872.5 L283.1,872.4 L286.9,872.3 L290.8,872.1 L294.6,872.0 L298.4,871.8 L302.3,871.7 L306.1,871.6 L309.9,871.5 L313.8,871.4 L317.6,871.4 L321.5,871.3 L325.3,871.2 L329.1,871.2 L333.0,871.1 L336.8,871.1 L340.6,871.0 L344.5,871.0 L348.3,870.9 L352.2,870.9 L356.0,870.8 L359.8,870.7 L363.7,870.7 L367.5,870.6 L371.3,870.6 L375.2,870.5 L379.0,870.4 L382.8,870.3 L386.7,870.2 L390.5,870.1 L394.4,870.0 L398.2,869.9 L402.0,869.8 L405.9,869.7 L409.7,869.6 L413.5,869.4 L417.4,869.3 L421.2,869.2 L425.0,869.1 L428.9,869.1 L432.7,869.0 L436.6,868.9 L440.4,868.8 L444.2,868.8 L448.1,868.8 L451.9,868.7 L455.7,868.7 L459.6,868.7 L463.4,868.7 L467.3,868.7 L471.1,868.7 L474.9,868.7 L478.8,868.7 L482.6,868.7 L486.4,868.7 L490.3,868.7 L494.1,868.7 L497.9,868.7 L501.8,868.7 L505.6,868.7 L509.5,868.7 L513.3,868.7 L517.1,868.7 L521.0,868.7 L524.8,868.8 L528.6,868.8 L532.5,868.8 L536.3,868.9 L540.1,868.9 L544.0,869.0 L547.8,869.1 L551.7,869.1 L555.5,869.2 L559.3,869.2 L563.2,869.2 L567.0,869.3 L570.8,869.3 L574.7,869.3 L578.5,869.4 L582.4,869.4 L586.2,869.4 L590.0,869.4 L593.9,869.5 L597.7,869.5 L601.5,869.5 L605.4,869.6 L609.2,869.6 L613.0,869.7 L616.9,869.7 L620.7,869.8 L624.6,869.8 L628.4,869.9 L632.2,869.9 L636.1,870.0 L639.9,870.0 L643.7,870.1 L647.6,870.2 L651.4,870.2 L655.2,870.3 L659.1,870.4 L662.9,870.5 L666.8,870.5 L670.6,870.6 L674.4,870.7 L678.3,870.8 L682.1,870.9 L685.9,871.0 L689.8,871.2 L693.6,871.3 L697.5,871.4 L701.3,871.6 L705.1,871.7 L709.0,871.9 L712.8,872.0 L716.6,872.2 L720.5,872.4 L724.3,872.7 L728.1,872.9 L732.0,873.1 L735.8,873.4 L739.7,873.6 L743.5,873.9 L747.3,874.2 L751.2,874.4 L755.0,874.7 L758.8,875.0 L762.7,875.3 L766.5,875.6 L770.3,875.9 L774.2,876.2 L778.0,876.6 L781.9,876.8 L785.7,877.0 L789.5,877.2 L793.4,877.7 L797.2,877.9 L801.0,877.9 L804.9,877.8 L808.7,877.7 L812.6,877.5 L816.4,877.4 L820.2,877.2 L824.1,877.1 L827.9,877.0 L831.7,877.0 L835.6,877.0 L839.4,877.1 L843.2,877.2 L847.1,877.4 L850.9,877.7 L854.8,878.1 L858.6,878.6 L862.4,879.2 L866.3,879.8 L870.1,880.4 L873.9,880.9 L877.8,881.4 L881.6,881.9 L885.4,882.4 L889.3,882.8 L893.1,883.3 L897.0,883.8 L900.8,884.3 L904.6,884.8 L908.5,885.4 L912.3,886.0 L916.1,886.6 L920.0,887.4 L923.8,888.1 L927.7,888.9 L931.5,889.9 L935.3,892.8 L939.2,896.8 L943.0,901.0 L943.0,901.0 L939.2,903.5 L935.3,906.0 L931.5,908.9 L927.7,911.1 L923.8,912.4 L920.0,913.6 L916.1,914.7 L912.3,915.7 L908.5,916.7 L904.6,917.7 L900.8,918.6 L897.0,919.5 L893.1,920.4 L889.3,921.2 L885.4,922.0 L881.6,922.9 L877.8,923.7 L873.9,924.5 L870.1,925.3 L866.3,926.1 L862.4,927.0 L858.6,927.6 L854.8,928.2 L850.9,928.5 L847.1,928.7 L843.2,928.7 L839.4,928.7 L835.6,928.4 L831.7,928.1 L827.9,927.7 L824.1,927.1 L820.2,926.5 L816.4,925.9 L812.6,925.3 L808.7,924.6 L804.9,923.9 L801.0,923.3 L797.2,922.7 L793.4,922.1 L789.5,921.1 L785.7,920.5 L781.9,920.2 L778.0,920.3 L774.2,920.4 L770.3,920.5 L766.5,920.6 L762.7,920.7 L758.8,920.8 L755.0,920.9 L751.2,921.0 L747.3,921.2 L743.5,921.3 L739.7,921.4 L735.8,921.5 L732.0,921.6 L728.1,921.6 L724.3,921.7 L720.5,921.8 L716.6,921.8 L712.8,921.9 L709.0,921.9 L705.1,922.0 L701.3,922.0 L697.5,922.0 L693.6,922.0 L689.8,922.0 L685.9,922.0 L682.1,922.0 L678.3,922.0 L674.4,922.0 L670.6,922.0 L666.8,922.0 L662.9,922.0 L659.1,921.9 L655.2,921.9 L651.4,921.9 L647.6,921.9 L643.7,921.8 L639.9,921.8 L636.1,921.8 L632.2,921.7 L628.4,921.7 L624.6,921.6 L620.7,921.6 L616.9,921.5 L613.0,921.5 L609.2,921.5 L605.4,921.4 L601.5,921.3 L597.7,921.3 L593.9,921.2 L590.0,921.2 L586.2,921.1 L582.4,921.0 L578.5,920.9 L574.7,920.8 L570.8,920.7 L567.0,920.6 L563.2,920.4 L559.3,920.3 L555.5,920.1 L551.7,919.9 L547.8,919.6 L544.0,919.4 L540.1,919.1 L536.3,918.8 L532.5,918.5 L528.6,918.2 L524.8,917.9 L521.0,917.7 L517.1,917.5 L513.3,917.3 L509.5,917.1 L505.6,916.8 L501.8,916.6 L497.9,916.4 L494.1,916.1 L490.3,915.9 L486.4,915.6 L482.6,915.4 L478.8,915.2 L474.9,914.9 L471.1,914.7 L467.3,914.5 L463.4,914.2 L459.6,914.0 L455.7,913.8 L451.9,913.6 L448.1,913.4 L444.2,913.2 L440.4,913.0 L436.6,912.9 L432.7,912.7 L428.9,912.5 L425.0,912.3 L421.2,912.2 L417.4,912.0 L413.5,911.8 L409.7,911.6 L405.9,911.5 L402.0,911.3 L398.2,911.1 L394.4,910.9 L390.5,910.6 L386.7,910.4 L382.8,910.1 L379.0,909.9 L375.2,909.6 L371.3,909.3 L367.5,908.9 L363.7,908.6 L359.8,908.2 L356.0,907.9 L352.2,907.5 L348.3,907.1 L344.5,906.7 L340.6,906.3 L336.8,905.9 L333.0,905.5 L329.1,905.0 L325.3,904.6 L321.5,904.2 L317.6,903.8 L313.8,903.4 L309.9,902.9 L306.1,902.5 L302.3,902.1 L298.4,901.8 L294.6,901.4 L290.8,901.0 L286.9,900.6 L283.1,900.0 L279.3,899.4 L275.4,898.7 L271.6,898.1 L267.7,897.4 L263.9,896.7 L260.1,896.0 L256.2,895.3 L252.4,894.6 L248.6,893.9 L244.7,893.2 L240.9,892.5 L237.1,891.8 L233.2,891.1 L229.4,890.4 L225.5,889.8 L221.7,889.2 L217.9,888.7 L214.0,888.2 L210.2,887.9 L206.4,887.6 L202.5,887.4 L198.7,887.0 L194.8,886.6 L191.0,886.2 L187.2,885.8 L183.3,885.4 L179.5,885.0Z" fill="url(#nsh)"/>
<path d="M420.0,840.5 L428.0,840.5 L428.0,849.7 L420.0,849.7 Z M438.2,839.4 L446.2,839.4 L446.2,848.8 L438.2,848.8 Z M456.4,838.5 L464.4,838.5 L464.4,848.2 L456.4,848.2 Z M474.5,837.9 L482.5,837.9 L482.5,847.8 L474.5,847.8 Z M492.7,837.2 L500.7,837.2 L500.7,847.5 L492.7,847.5 Z M510.9,836.6 L518.9,836.6 L518.9,847.1 L510.9,847.1 Z M529.1,836.1 L537.1,836.1 L537.1,846.9 L529.1,846.9 Z M547.3,835.7 L555.3,835.7 L555.3,846.8 L547.3,846.8 Z M565.4,835.5 L573.4,835.5 L573.4,846.8 L565.4,846.8 Z M583.6,835.5 L591.6,835.5 L591.6,846.9 L583.6,846.9 Z M601.8,835.6 L609.8,835.6 L609.8,847.1 L601.8,847.1 Z M620.0,835.9 L628.0,835.9 L628.0,847.4 L620.0,847.4 Z M638.2,836.2 L646.2,836.2 L646.2,847.8 L638.2,847.8 Z M656.3,836.8 L664.3,836.8 L664.3,848.3 L656.3,848.3 Z M674.5,837.4 L682.5,837.4 L682.5,848.9 L674.5,848.9 Z M692.7,838.3 L700.7,838.3 L700.7,849.8 L692.7,849.8 Z M710.9,839.6 L718.9,839.6 L718.9,850.9 L710.9,850.9 Z M729.1,841.4 L737.1,841.4 L737.1,852.5 L729.1,852.5 Z M747.2,843.8 L755.2,843.8 L755.2,854.4 L747.2,854.4 Z M765.4,846.4 L773.4,846.4 L773.4,856.6 L765.4,856.6 Z M783.6,849.1 L791.6,849.1 L791.6,858.8 L783.6,858.8 Z M801.8,852.7 L809.8,852.7 L809.8,861.3 L801.8,861.3 Z M820.0,856.3 L828.0,856.3 L828.0,863.2 L820.0,863.2 Z M838.1,860.1 L846.1,860.1 L846.1,865.3 L838.1,865.3 Z M856.3,864.5 L864.3,864.5 L864.3,868.5 L856.3,868.5 Z M874.5,869.5 L882.5,869.5 L882.5,872.8 L874.5,872.8 Z M892.7,874.7 L900.7,874.7 L900.7,877.1 L892.7,877.1 Z" fill="#15488e" opacity="0.8"/>
<path d="M428.0,840.5 L438.0,849.7 M446.2,839.4 L456.2,848.8 M464.4,838.5 L474.4,848.2 M482.5,837.9 L492.5,847.8 M500.7,837.2 L510.7,847.5 M518.9,836.6 L528.9,847.1 M537.1,836.1 L547.1,846.9 M555.3,835.7 L565.3,846.8 M573.4,835.5 L583.4,846.8 M591.6,835.5 L601.6,846.9 M609.8,835.6 L619.8,847.1 M628.0,835.9 L638.0,847.4 M646.2,836.2 L656.2,847.8 M664.3,836.8 L674.3,848.3 M682.5,837.4 L692.5,848.9 M700.7,838.3 L710.7,849.8 M718.9,839.6 L728.9,850.9 M737.1,841.4 L747.1,852.5 M755.2,843.8 L765.2,854.4 M773.4,846.4 L783.4,856.6 M791.6,849.1 L801.6,858.8 M809.8,852.7 L819.8,861.3 M828.0,856.3 L838.0,863.2 M846.1,860.1 L856.1,865.3 M864.3,864.5 L874.3,868.5 M882.5,869.5 L892.5,872.8 M900.7,874.7 L910.7,877.1" fill="none" stroke="#103c80" stroke-width="1.5" opacity="0.8"/>
<g fill="#e6e6f0"><path d="M467.5,830 L471,815 L471,975 L415,975 Z"/><path d="M579.5,815 L635.2,815 L579.3,975 L579.5,975 Z"/><path d="M744,815 L746,815 L752.7,975 L694.9,975 Z"/></g>
<filter id="blur4" x="-50%" y="-50%" width="200%" height="200%"><feGaussianBlur stdDeviation="5"/></filter>
<ellipse cx="362" cy="892" rx="88" ry="30" fill="#8a8496" opacity="0.55" filter="url(#blur4)"/>
<ellipse cx="365" cy="900" rx="62" ry="16" fill="#505054"/>
<ellipse cx="360.6" cy="888.3" rx="72.6" ry="18.5" fill="#0b0b0d"/>
<ellipse cx="354" cy="894" rx="58" ry="15" fill="#f2f2f2"/>
<ellipse cx="354" cy="894" rx="55.5" ry="12.8" fill="#a8121e"/>
<clipPath id="eyeclip"><ellipse cx="354" cy="894" rx="55.5" ry="12.8"/></clipPath>
<g clip-path="url(#eyeclip)"><ellipse cx="333.5" cy="894" rx="24.5" ry="22" fill="#f0f0f0"/><ellipse cx="333.5" cy="894" rx="22.2" ry="20" fill="#0a0a0a"/></g>
<path d="M311,889.5 L316.5,889.5 A4.5,3.7 0 0 1 316.5,896.9 L311,896.9 Z" fill="#dcd4ee"/>
</g>
<path d="M179.5,885.0 L183.3,881.8 L187.2,878.5 L191.0,875.2 L194.8,872.2 L198.7,869.6 L202.5,867.6 L206.4,866.1 L210.2,865.1 L214.0,864.3 L217.9,863.5 L221.7,862.6 L225.5,861.7 L229.4,860.8 L233.2,860.0 L237.1,859.2 L240.9,858.4 L244.7,857.6 L248.6,856.8 L252.4,856.0 L256.2,855.1 L260.1,854.2 L263.9,853.3 L267.7,852.4 L271.6,851.6 L275.4,850.8 L279.3,850.0 L283.1,849.2 L286.9,848.6 L290.8,847.9 L294.6,847.3 L298.4,846.7 L302.3,846.2 L306.1,845.7 L309.9,845.2 L313.8,844.7 L317.6,844.2 L321.5,843.7 L325.3,843.3 L329.1,842.8 L333.0,842.4 L336.8,841.9 L340.6,841.5 L344.5,841.1 L348.3,840.6 L352.2,840.2 L356.0,839.8 L359.8,839.4 L363.7,839.0 L367.5,838.6 L371.3,838.2 L375.2,837.8 L379.0,837.4 L382.8,837.0 L386.7,836.6 L390.5,836.2 L394.4,835.8 L398.2,835.5 L402.0,835.1 L405.9,834.8 L409.7,834.4 L413.5,834.1 L417.4,833.7 L421.2,833.4 L425.0,833.1 L428.9,832.8 L432.7,832.5 L436.6,832.2 L440.4,832.0 L444.2,831.7 L448.1,831.5 L451.9,831.3 L455.7,831.1 L459.6,830.9 L463.4,830.7 L467.3,830.5 L471.1,830.3 L474.9,830.2 L478.8,830.0 L482.6,829.8 L486.4,829.6 L490.3,829.4 L494.1,829.2 L497.9,829.1 L501.8,828.9 L505.6,828.7 L509.5,828.5 L513.3,828.4 L517.1,828.2 L521.0,828.1 L524.8,827.9 L528.6,827.8 L532.5,827.6 L536.3,827.5 L540.1,827.4 L544.0,827.3 L547.8,827.2 L551.7,827.1 L555.5,827.0 L559.3,826.9 L563.2,826.9 L567.0,826.8 L570.8,826.8 L574.7,826.7 L578.5,826.7 L582.4,826.7 L586.2,826.7 L590.0,826.7 L593.9,826.7 L597.7,826.7 L601.5,826.8 L605.4,826.8 L609.2,826.8 L613.0,826.9 L616.9,826.9 L620.7,827.0 L624.6,827.1 L628.4,827.1 L632.2,827.2 L636.1,827.3 L639.9,827.4 L643.7,827.5 L647.6,827.6 L651.4,827.7 L655.2,827.8 L659.1,827.9 L662.9,828.1 L666.8,828.2 L670.6,828.4 L674.4,828.6 L678.3,828.7 L682.1,828.9 L685.9,829.1 L689.8,829.3 L693.6,829.6 L697.5,829.8 L701.3,830.1 L705.1,830.4 L709.0,830.7 L712.8,831.1 L716.6,831.5 L720.5,831.9 L724.3,832.4 L728.1,832.9 L732.0,833.4 L735.8,833.9 L739.7,834.4 L743.5,835.0 L747.3,835.6 L751.2,836.2 L755.0,836.8 L758.8,837.5 L762.7,838.1 L766.5,838.8 L770.3,839.4 L774.2,840.1 L778.0,840.7 L781.9,841.3 L785.7,841.9 L789.5,842.5 L793.4,843.7 L797.2,844.8 L801.0,845.9 L804.9,846.9 L808.7,848.0 L812.6,849.0 L816.4,850.1 L820.2,851.1 L824.1,852.2 L827.9,853.3 L831.7,854.3 L835.6,855.4 L839.4,856.5 L843.2,857.6 L847.1,858.7 L850.9,859.8 L854.8,860.9 L858.6,862.1 L862.4,863.2 L866.3,864.4 L870.1,865.6 L873.9,866.8 L877.8,868.0 L881.6,869.2 L885.4,870.5 L889.3,871.7 L893.1,873.0 L897.0,874.2 L900.8,875.5 L904.6,876.8 L908.5,878.1 L912.3,879.4 L916.1,880.7 L920.0,882.0 L923.8,883.4 L927.7,884.7 L931.5,886.4 L935.3,890.4 L939.2,895.6 L943.0,901.0 L943.0,901.0 L939.2,904.0 L935.3,907.0 L931.5,910.4 L927.7,913.0 L923.8,914.6 L920.0,916.0 L916.1,917.5 L912.3,918.9 L908.5,920.3 L904.6,921.7 L900.8,923.1 L897.0,924.4 L893.1,925.7 L889.3,927.1 L885.4,928.4 L881.6,929.6 L877.8,930.9 L873.9,932.1 L870.1,933.3 L866.3,934.5 L862.4,935.7 L858.6,936.8 L854.8,937.8 L850.9,938.9 L847.1,939.9 L843.2,940.9 L839.4,941.9 L835.6,942.9 L831.7,943.8 L827.9,944.8 L824.1,945.7 L820.2,946.6 L816.4,947.5 L812.6,948.4 L808.7,949.3 L804.9,950.2 L801.0,951.0 L797.2,951.8 L793.4,952.4 L789.5,952.2 L785.7,952.2 L781.9,952.4 L778.0,952.8 L774.2,953.2 L770.3,953.6 L766.5,954.0 L762.7,954.4 L758.8,954.9 L755.0,955.3 L751.2,955.7 L747.3,956.2 L743.5,956.6 L739.7,957.0 L735.8,957.4 L732.0,957.7 L728.1,958.1 L724.3,958.4 L720.5,958.7 L716.6,959.0 L712.8,959.3 L709.0,959.5 L705.1,959.7 L701.3,959.9 L697.5,960.1 L693.6,960.3 L689.8,960.4 L685.9,960.5 L682.1,960.7 L678.3,960.8 L674.4,960.9 L670.6,961.0 L666.8,961.1 L662.9,961.1 L659.1,961.2 L655.2,961.3 L651.4,961.3 L647.6,961.4 L643.7,961.5 L639.9,961.5 L636.1,961.6 L632.2,961.6 L628.4,961.6 L624.6,961.7 L620.7,961.7 L616.9,961.7 L613.0,961.7 L609.2,961.7 L605.4,961.8 L601.5,961.8 L597.7,961.7 L593.9,961.7 L590.0,961.7 L586.2,961.7 L582.4,961.6 L578.5,961.6 L574.7,961.5 L570.8,961.4 L567.0,961.3 L563.2,961.1 L559.3,960.9 L555.5,960.6 L551.7,960.4 L547.8,960.0 L544.0,959.7 L540.1,959.3 L536.3,958.9 L532.5,958.5 L528.6,958.1 L524.8,957.7 L521.0,957.4 L517.1,957.1 L513.3,956.7 L509.5,956.4 L505.6,956.1 L501.8,955.7 L497.9,955.4 L494.1,955.0 L490.3,954.7 L486.4,954.3 L482.6,953.9 L478.8,953.5 L474.9,953.2 L471.1,952.8 L467.3,952.4 L463.4,952.1 L459.6,951.8 L455.7,951.4 L451.9,951.1 L448.1,950.8 L444.2,950.4 L440.4,950.1 L436.6,949.8 L432.7,949.5 L428.9,949.1 L425.0,948.8 L421.2,948.4 L417.4,948.1 L413.5,947.7 L409.7,947.3 L405.9,946.9 L402.0,946.5 L398.2,946.1 L394.4,945.7 L390.5,945.2 L386.7,944.7 L382.8,944.2 L379.0,943.7 L375.2,943.1 L371.3,942.5 L367.5,941.8 L363.7,941.1 L359.8,940.4 L356.0,939.7 L352.2,939.0 L348.3,938.2 L344.5,937.5 L340.6,936.7 L336.8,935.9 L333.0,935.1 L329.1,934.3 L325.3,933.5 L321.5,932.6 L317.6,931.8 L313.8,931.0 L309.9,930.1 L306.1,929.3 L302.3,928.5 L298.4,927.7 L294.6,926.9 L290.8,926.1 L286.9,925.2 L283.1,924.0 L279.3,922.8 L275.4,921.5 L271.6,920.2 L267.7,918.8 L263.9,917.5 L260.1,916.1 L256.2,914.7 L252.4,913.3 L248.6,912.0 L244.7,910.6 L240.9,909.3 L237.1,907.9 L233.2,906.5 L229.4,905.2 L225.5,903.8 L221.7,902.6 L217.9,901.4 L214.0,900.3 L210.2,899.5 L206.4,898.6 L202.5,897.5 L198.7,895.9 L194.8,894.0 L191.0,891.9 L187.2,889.6 L183.3,887.2 L179.5,885.0Z" fill="none" stroke="#16407e" stroke-width="1" opacity="0.35"/>
<ellipse cx="179" cy="916" rx="12.5" ry="22" transform="rotate(22 179 916)" fill="none" stroke="#3a3a3c" stroke-width="6.5"/>
<ellipse cx="179" cy="916" rx="12.5" ry="22" transform="rotate(22 179 916)" fill="none" stroke="#e6e6e8" stroke-width="3.5"/>
<ellipse cx="976.4" cy="902.1" rx="16" ry="8.5" transform="rotate(8 978 903)" fill="none" stroke="#3a3a3c" stroke-width="5"/>
<ellipse cx="976.4" cy="902.1" rx="16" ry="8.5" transform="rotate(8 978 903)" fill="none" stroke="#e4e4e6" stroke-width="2.4"/>
<ellipse cx="980.4" cy="905.1" rx="16" ry="8.5" transform="rotate(8 978 903)" fill="none" stroke="#3a3a3c" stroke-width="5"/>
<ellipse cx="980.4" cy="905.1" rx="16" ry="8.5" transform="rotate(8 978 903)" fill="none" stroke="#e4e4e6" stroke-width="2.4"/>
</g>
</defs>
<g fill="#000">
<rect x="273.9" y="95.0" width="2.2" height="175.0"/>
<rect x="892.9" y="95.0" width="2.2" height="189.0"/>
<rect x="275.0" y="127.3" width="265.7" height="2.2"/>
<rect x="655.0" y="127.3" width="239.0" height="2.2"/>
<path d="M276.0,128.4 Q301.0,125.9 323.0,122.0 Q313.0,126.4 314.0,128.4 Q313.0,130.4 323.0,134.8 Q301.0,130.9 276.0,128.4 Z"/>
<path d="M893.0,128.4 Q868.0,125.9 846.0,122.0 Q856.0,126.4 855.0,128.4 Q856.0,130.4 846.0,134.8 Q868.0,130.9 893.0,128.4 Z"/>
<rect x="211.9" y="414.0" width="2.2" height="174.5"/>
<rect x="933.9" y="414.4" width="2.2" height="189.2"/>
<rect x="213.0" y="446.4" width="309.6" height="2.2"/>
<rect x="634.6" y="446.4" width="300.4" height="2.2"/>
<path d="M214.0,447.5 Q239.0,445.0 261.0,441.1 Q251.0,445.5 252.0,447.5 Q251.0,449.5 261.0,453.9 Q239.0,450.0 214.0,447.5 Z"/>
<path d="M934.0,447.5 Q909.0,445.0 887.0,441.1 Q897.0,445.5 896.0,447.5 Q897.0,449.5 887.0,453.9 Q909.0,450.0 934.0,447.5 Z"/>
<rect x="140.9" y="760.4" width="2.2" height="174.0"/>
<rect x="974.9" y="760.0" width="2.2" height="189.2"/>
<rect x="142.0" y="792.2" width="336.7" height="2.2"/>
<rect x="621.0" y="792.2" width="355.0" height="2.2"/>
<path d="M143.0,793.3 Q168.0,790.8 190.0,786.9 Q180.0,791.3 181.0,793.3 Q180.0,795.3 190.0,799.7 Q168.0,795.8 143.0,793.3 Z"/>
<path d="M975.0,793.3 Q950.0,790.8 928.0,786.9 Q938.0,791.3 937.0,793.3 Q938.0,795.3 928.0,799.7 Q950.0,795.8 975.0,793.3 Z"/>
<text transform="translate(549.15 139.55) scale(0.7877 1)" font-size="41.72" font-weight="bold" stroke="#000" stroke-width="1.10" stroke-linejoin="round">4</text>
<text transform="translate(569.49 139.55) scale(0.7644 1)" font-size="41.72" font-weight="bold" stroke="#000" stroke-width="1.10" stroke-linejoin="round">.</text>
<text transform="translate(579.56 139.55) scale(0.7765 1)" font-size="41.72" font-weight="bold" stroke="#000" stroke-width="1.10" stroke-linejoin="round">7</text>
<text transform="translate(601.29 139.55) scale(0.8016 1)" font-size="41.72" font-weight="bold" stroke="#000" stroke-width="1.10" stroke-linejoin="round">2</text>
<text transform="translate(620.41 139.55) scale(0.8736 1)" font-size="41.72" font-weight="bold" stroke="#000" stroke-width="1.10" stroke-linejoin="round">i</text>
<text transform="translate(629.85 139.55) scale(0.8737 1)" font-size="41.72" font-weight="bold" stroke="#000" stroke-width="1.10" stroke-linejoin="round">n</text>
<text transform="translate(531.15 453.65) scale(0.7811 1)" font-size="41.43" font-weight="bold" stroke="#000" stroke-width="1.10" stroke-linejoin="round">5</text>
<text transform="translate(550.39 453.65) scale(0.7698 1)" font-size="41.43" font-weight="bold" stroke="#000" stroke-width="1.10" stroke-linejoin="round">.</text>
<text transform="translate(562.78 453.65) scale(0.7617 1)" font-size="41.43" font-weight="bold" stroke="#000" stroke-width="1.10" stroke-linejoin="round">5</text>
<text transform="translate(583.58 453.65) scale(0.5240 1)" font-size="41.43" font-weight="bold" stroke="#000" stroke-width="1.10" stroke-linejoin="round">1</text>
<text transform="translate(601.85 453.65) scale(0.9325 1)" font-size="41.43" font-weight="bold" stroke="#000" stroke-width="1.10" stroke-linejoin="round">i</text>
<text transform="translate(612.35 453.65) scale(0.8048 1)" font-size="41.43" font-weight="bold" stroke="#000" stroke-width="1.10" stroke-linejoin="round">n</text>
<text transform="translate(501.90 803.65) scale(0.8126 1)" font-size="42.01" font-weight="bold" stroke="#000" stroke-width="1.10" stroke-linejoin="round">6</text>
<text transform="translate(521.00 803.65) scale(0.8941 1)" font-size="42.01" font-weight="bold" stroke="#000" stroke-width="1.10" stroke-linejoin="round">.</text>
<text transform="translate(532.93 803.65) scale(0.7894 1)" font-size="42.01" font-weight="bold" stroke="#000" stroke-width="1.10" stroke-linejoin="round">5</text>
<text transform="translate(552.98 803.65) scale(0.8259 1)" font-size="42.01" font-weight="bold" stroke="#000" stroke-width="1.10" stroke-linejoin="round">0</text>
<text transform="translate(572.85 803.65) scale(0.9196 1)" font-size="42.01" font-weight="bold" stroke="#000" stroke-width="1.10" stroke-linejoin="round">i</text>
<text transform="translate(583.35 803.65) scale(0.7937 1)" font-size="42.01" font-weight="bold" stroke="#000" stroke-width="1.10" stroke-linejoin="round">n</text>
</g>
<use href="#lure" transform="translate(302.00 204.00) scale(0.74442) translate(-179.50 -885.00)"/>
<use href="#lure" transform="translate(245.00 520.00) scale(0.86781) translate(-179.50 -885.00)"/>
<use href="#lure"/>
<rect x="50" y="1140" width="1405" height="102" fill="#000"/>
<rect x="50" y="1328" width="1404" height="61" fill="#d9d9d9"/>
<text x="147.5" y="1202" textLength="100.2" lengthAdjust="spacingAndGlyphs" font-size="28.5" font-weight="bold" fill="#fff">MODEL</text>
<text x="363.0" y="1202" textLength="139.5" lengthAdjust="spacingAndGlyphs" font-size="28.5" font-weight="bold" fill="#fff">HOOK SIZE</text>
<text x="617.5" y="1202" textLength="159.5" lengthAdjust="spacingAndGlyphs" font-size="28.5" font-weight="bold" fill="#fff">SWIVEL SIZE</text>
<text x="893.8" y="1202" textLength="186.0" lengthAdjust="spacingAndGlyphs" font-size="28.5" font-weight="bold" fill="#fff">BODY LENGTH</text>
<text x="1168.9" y="1202" textLength="223.6" lengthAdjust="spacingAndGlyphs" font-size="28.5" font-weight="bold" fill="#fff">RUNNING DEPTH</text>
<text x="86.5" y="1296.0" textLength="223.5" lengthAdjust="spacingAndGlyphs" font-size="36" font-weight="bold" fill="#000">3.53 oz./100g</text>
<text x="405.0" y="1296.0" textLength="60.0" lengthAdjust="spacingAndGlyphs" font-size="36" font-weight="bold" fill="#000">#18</text>
<text x="682.0" y="1296.0" textLength="39.0" lengthAdjust="spacingAndGlyphs" font-size="36" font-weight="bold" fill="#000">#6</text>
<text x="937.0" y="1296.0" textLength="101.0" lengthAdjust="spacingAndGlyphs" font-size="36" font-weight="bold" fill="#000">4.72in</text>
<text x="1202.0" y="1296.0" textLength="158.6" lengthAdjust="spacingAndGlyphs" font-size="36" font-weight="bold" fill="#000">VARIABLE</text>
<text x="86.5" y="1369.2" textLength="223.5" lengthAdjust="spacingAndGlyphs" font-size="36" font-weight="bold" fill="#000">5.29 oz./150g</text>
<text x="405.0" y="1369.2" textLength="60.0" lengthAdjust="spacingAndGlyphs" font-size="36" font-weight="bold" fill="#000">#20</text>
<text x="682.0" y="1369.2" textLength="39.0" lengthAdjust="spacingAndGlyphs" font-size="36" font-weight="bold" fill="#000">#6</text>
<text x="937.0" y="1369.2" textLength="101.0" lengthAdjust="spacingAndGlyphs" font-size="36" font-weight="bold" fill="#000">5.51in</text>
<text x="1202.0" y="1369.2" textLength="158.6" lengthAdjust="spacingAndGlyphs" font-size="36" font-weight="bold" fill="#000">VARIABLE</text>
<text x="86.5" y="1441.6" textLength="223.5" lengthAdjust="spacingAndGlyphs" font-size="36" font-weight="bold" fill="#000">8.82 oz./250g</text>
<text x="405.0" y="1441.6" textLength="60.0" lengthAdjust="spacingAndGlyphs" font-size="36" font-weight="bold" fill="#000">#22</text>
<text x="682.0" y="1441.6" textLength="39.0" lengthAdjust="spacingAndGlyphs" font-size="36" font-weight="bold" fill="#000">#6</text>
<text x="937.0" y="1441.6" textLength="101.0" lengthAdjust="spacingAndGlyphs" font-size="36" font-weight="bold" fill="#000">6.50in</text>
<text x="1202.0" y="1441.6" textLength="158.6" lengthAdjust="spacingAndGlyphs" font-size="36" font-weight="bold" fill="#000">VARIABLE</text>
</svg>
</body></html>
